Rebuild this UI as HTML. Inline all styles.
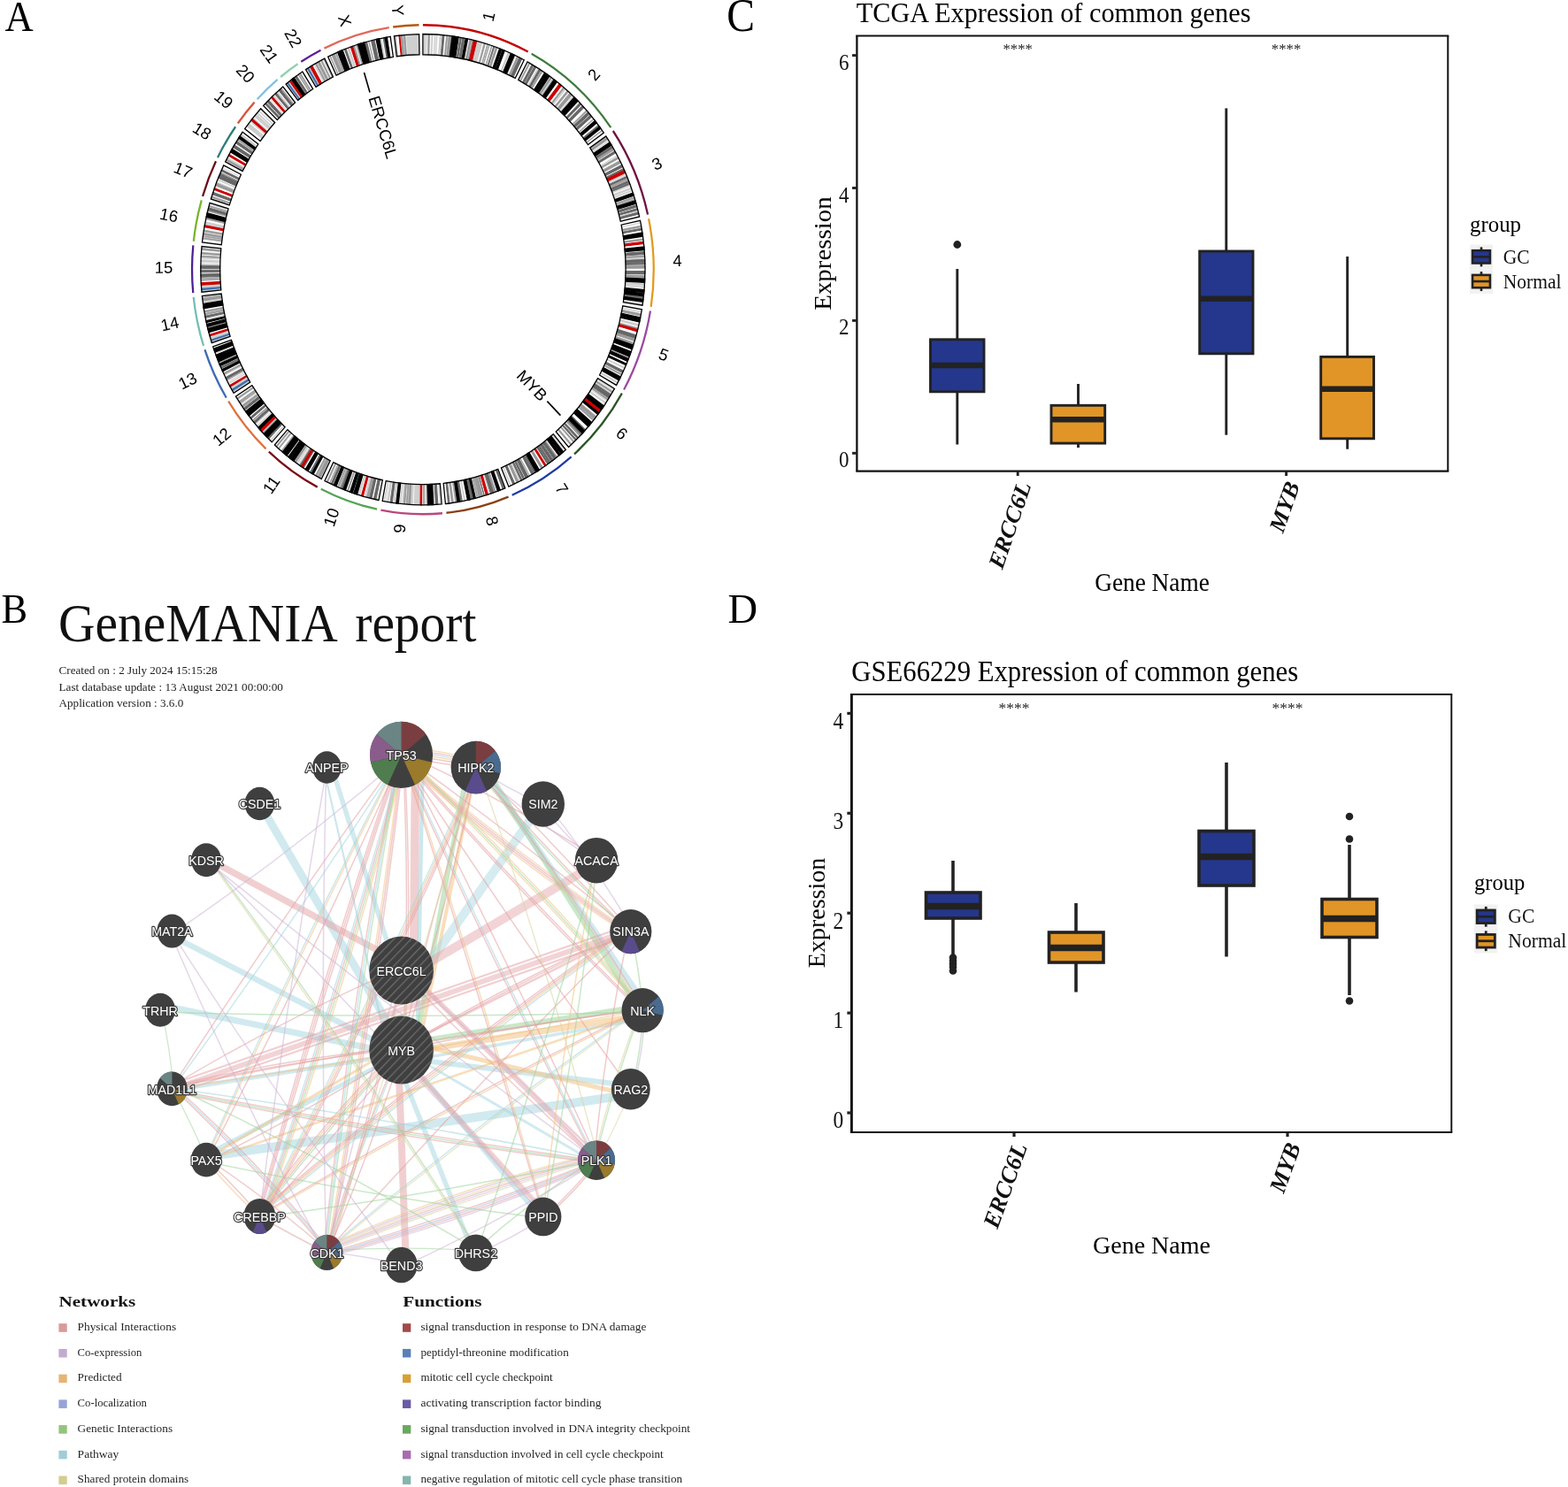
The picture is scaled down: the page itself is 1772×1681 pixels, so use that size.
<!DOCTYPE html>
<html lang="en"><head><meta charset="utf-8"><title>Figure</title>
<style>
html,body{margin:0;padding:0;background:#fff;}
body{width:1772px;height:1681px;overflow:hidden;font-family:"Liberation Serif",serif;}
svg{display:block;}
</style></head>
<body>
<svg width="1772" height="1681" viewBox="0 0 1772 1681">
<rect x="0" y="0" width="1772" height="1681" fill="#ffffff"/>
<g id="panel-letters">
<text transform="translate(5.60,34.70) scale(1.0000,1.0800)" font-family="Liberation Serif, serif" font-size="44.7" fill="#000">A</text>
<text transform="translate(1.50,703.80) scale(1.0000,1.0500)" font-family="Liberation Serif, serif" font-size="44.4" fill="#000">B</text>
<text transform="translate(821.30,35.40) scale(1.0000,1.0900)" font-family="Liberation Serif, serif" font-size="47.6" fill="#000">C</text>
<text transform="translate(822.40,704.30)" font-family="Liberation Serif, serif" font-size="46.5" fill="#000">D</text>
</g>
<g id="panel-c">
<text transform="translate(967.70,24.80) scale(1.0000,1.0450)" font-family="Liberation Serif, serif" font-size="30.3" fill="#000">TCGA Expression of common genes</text>
<line x1="1081.80" y1="304.00" x2="1081.80" y2="383.80" stroke="#222222" stroke-width="2.9"/>
<line x1="1081.80" y1="442.80" x2="1081.80" y2="502.50" stroke="#222222" stroke-width="2.9"/>
<rect x="1051.50" y="383.80" width="60.50" height="59.00" fill="#25378c" stroke="#222222" stroke-width="2.9" stroke-linejoin="miter"/>
<line x1="1051.50" y1="413.00" x2="1112.00" y2="413.00" stroke="#222222" stroke-width="6.5"/>
<circle cx="1081.80" cy="276.50" r="4.40" fill="#222222" stroke="none" stroke-width="1"/>
<line x1="1218.50" y1="434.00" x2="1218.50" y2="458.30" stroke="#222222" stroke-width="2.9"/>
<line x1="1218.50" y1="501.10" x2="1218.50" y2="506.00" stroke="#222222" stroke-width="2.9"/>
<rect x="1188.00" y="458.30" width="60.70" height="42.80" fill="#e19527" stroke="#222222" stroke-width="2.9" stroke-linejoin="miter"/>
<line x1="1188.00" y1="474.30" x2="1248.70" y2="474.30" stroke="#222222" stroke-width="6.5"/>
<line x1="1385.80" y1="122.40" x2="1385.80" y2="284.00" stroke="#222222" stroke-width="2.9"/>
<line x1="1385.80" y1="399.80" x2="1385.80" y2="491.70" stroke="#222222" stroke-width="2.9"/>
<rect x="1355.70" y="284.00" width="60.30" height="115.80" fill="#25378c" stroke="#222222" stroke-width="2.9" stroke-linejoin="miter"/>
<line x1="1355.70" y1="337.80" x2="1416.00" y2="337.80" stroke="#222222" stroke-width="6.5"/>
<line x1="1522.70" y1="290.00" x2="1522.70" y2="403.40" stroke="#222222" stroke-width="2.9"/>
<line x1="1522.70" y1="495.80" x2="1522.70" y2="507.70" stroke="#222222" stroke-width="2.9"/>
<rect x="1492.70" y="403.40" width="59.80" height="92.40" fill="#e19527" stroke="#222222" stroke-width="2.9" stroke-linejoin="miter"/>
<line x1="1492.70" y1="439.80" x2="1552.50" y2="439.80" stroke="#222222" stroke-width="6.5"/>
<text transform="translate(1150.20,61.20)" font-family="Liberation Serif, serif" font-size="16.8" text-anchor="middle" fill="#222">****</text>
<text transform="translate(1453.60,61.20)" font-family="Liberation Serif, serif" font-size="16.8" text-anchor="middle" fill="#222">****</text>
<line x1="967.25" y1="40.50" x2="1637.30" y2="40.50" stroke="#111" stroke-width="1.9"/>
<line x1="967.25" y1="532.60" x2="1637.30" y2="532.60" stroke="#111" stroke-width="2.1"/>
<line x1="968.40" y1="40.50" x2="968.40" y2="532.60" stroke="#111" stroke-width="2.3"/>
<line x1="1636.30" y1="40.50" x2="1636.30" y2="532.60" stroke="#111" stroke-width="2.0"/>
<line x1="963.05" y1="512.30" x2="968.40" y2="512.30" stroke="#222222" stroke-width="2.9"/>
<text transform="translate(959.60,528.30) scale(1.0000,1.1250)" font-family="Liberation Serif, serif" font-size="23.0" text-anchor="end" fill="#111">0</text>
<line x1="963.05" y1="362.40" x2="968.40" y2="362.40" stroke="#222222" stroke-width="2.9"/>
<text transform="translate(959.60,378.40) scale(1.0000,1.1250)" font-family="Liberation Serif, serif" font-size="23.0" text-anchor="end" fill="#111">2</text>
<line x1="963.05" y1="212.50" x2="968.40" y2="212.50" stroke="#222222" stroke-width="2.9"/>
<text transform="translate(959.60,228.50) scale(1.0000,1.1250)" font-family="Liberation Serif, serif" font-size="23.0" text-anchor="end" fill="#111">4</text>
<line x1="963.05" y1="62.60" x2="968.40" y2="62.60" stroke="#222222" stroke-width="2.9"/>
<text transform="translate(959.60,78.60) scale(1.0000,1.1250)" font-family="Liberation Serif, serif" font-size="23.0" text-anchor="end" fill="#111">6</text>
<line x1="1150.20" y1="532.60" x2="1150.20" y2="537.95" stroke="#222222" stroke-width="2.9"/>
<line x1="1453.60" y1="532.60" x2="1453.60" y2="537.95" stroke="#222222" stroke-width="2.9"/>
<text transform="translate(1165.60,548.60) scale(1.0000,1.0600) rotate(-70.00)" font-family="Liberation Serif, serif" font-size="25.5" text-anchor="end" font-weight="bold" font-style="italic" fill="#111">ERCC6L</text>
<text transform="translate(1469.00,548.60) scale(1.0000,1.0600) rotate(-70.00)" font-family="Liberation Serif, serif" font-size="25.5" text-anchor="end" font-weight="bold" font-style="italic" fill="#111">MYB</text>
<text transform="translate(1302.00,667.60) scale(1.0000,1.0700)" font-family="Liberation Serif, serif" font-size="27.3" text-anchor="middle" fill="#000">Gene Name</text>
<text transform="translate(938.70,286.50) scale(1.0000,1.0600) rotate(-90.00)" font-family="Liberation Serif, serif" font-size="27.3" text-anchor="middle" fill="#000">Expression</text>
<text transform="translate(1661.00,262.00) scale(1.0000,1.0500)" font-family="Liberation Serif, serif" font-size="24.9" fill="#000">group</text>
<rect x="1661.00" y="276.50" width="26.00" height="27.70" fill="#f2f2f2" stroke="none" stroke-width="1"/>
<line x1="1674.00" y1="279.35" x2="1674.00" y2="301.35" stroke="#222222" stroke-width="2.6"/>
<rect x="1664.05" y="283.20" width="19.90" height="14.30" fill="#25378c" stroke="#222222" stroke-width="2.6"/>
<line x1="1664.05" y1="290.35" x2="1683.95" y2="290.35" stroke="#222222" stroke-width="2.6"/>
<text transform="translate(1698.80,298.25) scale(1.0000,1.0700)" font-family="Liberation Serif, serif" font-size="21.5" fill="#111">GC</text>
<rect x="1661.00" y="304.20" width="26.00" height="27.70" fill="#f2f2f2" stroke="none" stroke-width="1"/>
<line x1="1674.00" y1="307.05" x2="1674.00" y2="329.05" stroke="#222222" stroke-width="2.6"/>
<rect x="1664.05" y="310.90" width="19.90" height="14.30" fill="#e19527" stroke="#222222" stroke-width="2.6"/>
<line x1="1664.05" y1="318.05" x2="1683.95" y2="318.05" stroke="#222222" stroke-width="2.6"/>
<text transform="translate(1698.80,325.95) scale(1.0000,1.0700)" font-family="Liberation Serif, serif" font-size="21.5" fill="#111">Normal</text>
</g>
<g id="panel-d">
<text transform="translate(962.30,769.60) scale(1.0000,1.0700)" font-family="Liberation Serif, serif" font-size="30.72" fill="#000">GSE66229 Expression of common genes</text>
<line x1="1077.00" y1="973.00" x2="1077.00" y2="1009.00" stroke="#222222" stroke-width="3.6"/>
<line x1="1077.00" y1="1038.00" x2="1077.00" y2="1082.00" stroke="#222222" stroke-width="3.6"/>
<rect x="1046.50" y="1009.00" width="61.50" height="29.00" fill="#25378c" stroke="#222222" stroke-width="3.6" stroke-linejoin="miter"/>
<line x1="1046.50" y1="1024.60" x2="1108.00" y2="1024.60" stroke="#222222" stroke-width="7.5"/>
<circle cx="1077.00" cy="1082.50" r="4.30" fill="#222222" stroke="none" stroke-width="1"/>
<circle cx="1077.00" cy="1086.00" r="4.30" fill="#222222" stroke="none" stroke-width="1"/>
<circle cx="1077.00" cy="1089.50" r="4.30" fill="#222222" stroke="none" stroke-width="1"/>
<circle cx="1077.00" cy="1093.00" r="4.30" fill="#222222" stroke="none" stroke-width="1"/>
<circle cx="1077.00" cy="1097.50" r="4.30" fill="#222222" stroke="none" stroke-width="1"/>
<line x1="1216.00" y1="1021.00" x2="1216.00" y2="1054.00" stroke="#222222" stroke-width="3.6"/>
<line x1="1216.00" y1="1088.00" x2="1216.00" y2="1121.50" stroke="#222222" stroke-width="3.6"/>
<rect x="1185.50" y="1054.00" width="61.50" height="34.00" fill="#e19527" stroke="#222222" stroke-width="3.6" stroke-linejoin="miter"/>
<line x1="1185.50" y1="1071.50" x2="1247.00" y2="1071.50" stroke="#222222" stroke-width="7.5"/>
<line x1="1386.00" y1="862.00" x2="1386.00" y2="939.50" stroke="#222222" stroke-width="3.6"/>
<line x1="1386.00" y1="1001.00" x2="1386.00" y2="1081.50" stroke="#222222" stroke-width="3.6"/>
<rect x="1355.00" y="939.50" width="62.00" height="61.50" fill="#25378c" stroke="#222222" stroke-width="3.6" stroke-linejoin="miter"/>
<line x1="1355.00" y1="968.50" x2="1417.00" y2="968.50" stroke="#222222" stroke-width="7.5"/>
<line x1="1525.00" y1="955.00" x2="1525.00" y2="1016.50" stroke="#222222" stroke-width="3.6"/>
<line x1="1525.00" y1="1059.50" x2="1525.00" y2="1125.00" stroke="#222222" stroke-width="3.6"/>
<rect x="1494.00" y="1016.50" width="62.00" height="43.00" fill="#e19527" stroke="#222222" stroke-width="3.6" stroke-linejoin="miter"/>
<line x1="1494.00" y1="1038.50" x2="1556.00" y2="1038.50" stroke="#222222" stroke-width="7.5"/>
<circle cx="1525.00" cy="923.00" r="4.30" fill="#222222" stroke="none" stroke-width="1"/>
<circle cx="1525.00" cy="948.50" r="4.30" fill="#222222" stroke="none" stroke-width="1"/>
<circle cx="1525.00" cy="1131.50" r="4.30" fill="#222222" stroke="none" stroke-width="1"/>
<text transform="translate(1146.00,805.60)" font-family="Liberation Serif, serif" font-size="17.5" text-anchor="middle" fill="#222">****</text>
<text transform="translate(1455.00,805.60)" font-family="Liberation Serif, serif" font-size="17.5" text-anchor="middle" fill="#222">****</text>
<line x1="960.95" y1="785.00" x2="1641.25" y2="785.00" stroke="#111" stroke-width="2.1"/>
<line x1="960.95" y1="1280.00" x2="1641.25" y2="1280.00" stroke="#111" stroke-width="1.9"/>
<line x1="962.40" y1="785.00" x2="962.40" y2="1280.00" stroke="#111" stroke-width="2.9"/>
<line x1="1640.30" y1="785.00" x2="1640.30" y2="1280.00" stroke="#111" stroke-width="1.9"/>
<line x1="957.35" y1="1258.00" x2="962.40" y2="1258.00" stroke="#222222" stroke-width="3.2"/>
<text transform="translate(953.20,1275.30) scale(1.0000,1.1550)" font-family="Liberation Serif, serif" font-size="23.5" text-anchor="end" fill="#111">0</text>
<line x1="957.35" y1="1145.10" x2="962.40" y2="1145.10" stroke="#222222" stroke-width="3.2"/>
<text transform="translate(953.20,1162.40) scale(1.0000,1.1550)" font-family="Liberation Serif, serif" font-size="23.5" text-anchor="end" fill="#111">1</text>
<line x1="957.35" y1="1032.20" x2="962.40" y2="1032.20" stroke="#222222" stroke-width="3.2"/>
<text transform="translate(953.20,1049.50) scale(1.0000,1.1550)" font-family="Liberation Serif, serif" font-size="23.5" text-anchor="end" fill="#111">2</text>
<line x1="957.35" y1="919.30" x2="962.40" y2="919.30" stroke="#222222" stroke-width="3.2"/>
<text transform="translate(953.20,936.60) scale(1.0000,1.1550)" font-family="Liberation Serif, serif" font-size="23.5" text-anchor="end" fill="#111">3</text>
<line x1="957.35" y1="806.40" x2="962.40" y2="806.40" stroke="#222222" stroke-width="3.2"/>
<text transform="translate(953.20,823.70) scale(1.0000,1.1550)" font-family="Liberation Serif, serif" font-size="23.5" text-anchor="end" fill="#111">4</text>
<line x1="1146.00" y1="1280.00" x2="1146.00" y2="1285.05" stroke="#222222" stroke-width="3.2"/>
<line x1="1455.00" y1="1280.00" x2="1455.00" y2="1285.05" stroke="#222222" stroke-width="3.2"/>
<text transform="translate(1161.40,1296.00) rotate(-70.00)" font-family="Liberation Serif, serif" font-size="26.5" text-anchor="end" font-weight="bold" font-style="italic" fill="#111">ERCC6L</text>
<text transform="translate(1470.40,1296.00) rotate(-70.00)" font-family="Liberation Serif, serif" font-size="26.5" text-anchor="end" font-weight="bold" font-style="italic" fill="#111">MYB</text>
<text transform="translate(1301.50,1416.50)" font-family="Liberation Serif, serif" font-size="28" text-anchor="middle" fill="#000">Gene Name</text>
<text transform="translate(932.00,1032.00) rotate(-90.00)" font-family="Liberation Serif, serif" font-size="28" text-anchor="middle" fill="#000">Expression</text>
<text transform="translate(1666.00,1006.30) scale(1.0000,1.0600)" font-family="Liberation Serif, serif" font-size="24.6" fill="#000">group</text>
<rect x="1666.00" y="1022.50" width="26.50" height="27.50" fill="#f2f2f2" stroke="none" stroke-width="1"/>
<line x1="1679.25" y1="1024.85" x2="1679.25" y2="1047.65" stroke="#222222" stroke-width="2.8"/>
<rect x="1669.15" y="1028.95" width="20.20" height="14.60" fill="#25378c" stroke="#222222" stroke-width="2.8"/>
<line x1="1669.15" y1="1036.25" x2="1689.35" y2="1036.25" stroke="#222222" stroke-width="2.8"/>
<text transform="translate(1704.30,1043.45) scale(1.0000,1.0600)" font-family="Liberation Serif, serif" font-size="21.6" fill="#111">GC</text>
<rect x="1666.00" y="1050.00" width="26.50" height="27.50" fill="#f2f2f2" stroke="none" stroke-width="1"/>
<line x1="1679.25" y1="1052.35" x2="1679.25" y2="1075.15" stroke="#222222" stroke-width="2.8"/>
<rect x="1669.15" y="1056.45" width="20.20" height="14.60" fill="#e19527" stroke="#222222" stroke-width="2.8"/>
<line x1="1669.15" y1="1063.75" x2="1689.35" y2="1063.75" stroke="#222222" stroke-width="2.8"/>
<text transform="translate(1704.30,1070.95) scale(1.0000,1.0600)" font-family="Liberation Serif, serif" font-size="21.6" fill="#111">Normal</text>
</g>
<g id="panel-a" transform="translate(477.9,304.7) scale(1,1.06)">
<g fill="none" stroke-width="2.25" stroke-linecap="butt">
<path d="M0.00,-260.85A260.85,260.85 0 0 1 118.81,-232.22" stroke="#c40000"/>
<path d="M122.76,-230.16A260.85,260.85 0 0 1 212.39,-151.44" stroke="#3d7b3d"/>
<path d="M214.95,-147.79A260.85,260.85 0 0 1 254.18,-58.61" stroke="#6e1040"/>
<path d="M255.14,-54.26A260.85,260.85 0 0 1 257.80,39.78" stroke="#e39a1c"/>
<path d="M257.08,44.18A260.85,260.85 0 0 1 227.21,128.13" stroke="#9a4aa0"/>
<path d="M224.99,131.99A260.85,260.85 0 0 1 171.14,196.86" stroke="#2a5425"/>
<path d="M167.75,199.76A260.85,260.85 0 0 1 100.76,240.60" stroke="#1f3aa3"/>
<path d="M96.64,242.29A260.85,260.85 0 0 1 26.52,259.50" stroke="#8a3f14"/>
<path d="M22.08,259.91A260.85,260.85 0 0 1 -47.51,256.49" stroke="#b8487c"/>
<path d="M-51.88,255.64A260.85,260.85 0 0 1 -115.19,234.04" stroke="#52a552"/>
<path d="M-119.17,232.04A260.85,260.85 0 0 1 -174.07,194.27" stroke="#7a0c16"/>
<path d="M-177.36,191.27A260.85,260.85 0 0 1 -219.73,140.58" stroke="#e0703c"/>
<path d="M-222.09,136.81A260.85,260.85 0 0 1 -246.47,85.41" stroke="#3f6ab5"/>
<path d="M-247.89,81.19A260.85,260.85 0 0 1 -259.19,29.37" stroke="#6fbfb5"/>
<path d="M-259.65,24.94A260.85,260.85 0 0 1 -259.58,-25.72" stroke="#4b2291"/>
<path d="M-259.10,-30.15A260.85,260.85 0 0 1 -250.16,-73.91" stroke="#76b52a"/>
<path d="M-248.86,-78.17A260.85,260.85 0 0 1 -233.92,-115.43" stroke="#6b0a14"/>
<path d="M-231.92,-119.41A260.85,260.85 0 0 1 -211.75,-152.33" stroke="#2f7a7a"/>
<path d="M-209.12,-155.92A260.85,260.85 0 0 1 -190.35,-178.35" stroke="#d8553a"/>
<path d="M-187.28,-181.58A260.85,260.85 0 0 1 -164.28,-202.62" stroke="#7fbfe6"/>
<path d="M-160.79,-205.40A260.85,260.85 0 0 1 -141.39,-219.21" stroke="#8fd0ad"/>
<path d="M-137.63,-221.59A260.85,260.85 0 0 1 -115.44,-233.91" stroke="#5a1f96"/>
<path d="M-111.43,-235.85A260.85,260.85 0 0 1 -38.15,-258.04" stroke="#e0685a"/>
<path d="M-33.74,-258.66A260.85,260.85 0 0 1 -4.45,-260.81" stroke="#b35a10"/>
</g>
<path d="M0.00,-251.10A251.10,251.10 0 0 1 1.10,-251.10L1.00,-229.20A229.20,229.20 0 0 0 0.00,-229.20ZM2.57,-251.09A251.10,251.10 0 0 1 3.43,-251.08L3.13,-229.18A229.20,229.20 0 0 0 2.35,-229.19ZM4.38,-251.06A251.10,251.10 0 0 1 6.05,-251.03L5.52,-229.13A229.20,229.20 0 0 0 4.00,-229.17ZM7.72,-250.98A251.10,251.10 0 0 1 9.72,-250.91L8.87,-229.03A229.20,229.20 0 0 0 7.04,-229.09ZM11.38,-250.84A251.10,251.10 0 0 1 13.33,-250.75L12.17,-228.88A229.20,229.20 0 0 0 10.39,-228.96ZM14.38,-250.69A251.10,251.10 0 0 1 15.43,-250.63L14.08,-228.77A229.20,229.20 0 0 0 13.13,-228.82ZM16.47,-250.56A251.10,251.10 0 0 1 19.09,-250.37L17.42,-228.54A229.20,229.20 0 0 0 15.04,-228.71ZM20.99,-250.22A251.10,251.10 0 0 1 22.27,-250.11L20.32,-228.30A229.20,229.20 0 0 0 19.15,-228.40ZM24.12,-249.94A251.10,251.10 0 0 1 26.68,-249.68L24.35,-227.90A229.20,229.20 0 0 0 22.01,-228.14ZM28.05,-249.53A251.10,251.10 0 0 1 29.14,-249.40L26.60,-227.65A229.20,229.20 0 0 0 25.60,-227.77ZM32.73,-248.96A251.10,251.10 0 0 1 33.11,-248.91L30.22,-227.20A229.20,229.20 0 0 0 29.88,-227.24ZM40.27,-247.85A251.10,251.10 0 0 1 41.92,-247.58L38.26,-225.98A229.20,229.20 0 0 0 36.76,-226.23ZM43.61,-247.28A251.10,251.10 0 0 1 44.87,-247.06L40.96,-225.51A229.20,229.20 0 0 0 39.80,-225.72ZM47.22,-246.62A251.10,251.10 0 0 1 48.38,-246.39L44.16,-224.90A229.20,229.20 0 0 0 43.10,-225.11ZM50.72,-245.92A251.10,251.10 0 0 1 52.86,-245.47L48.25,-224.06A229.20,229.20 0 0 0 46.30,-224.48ZM54.86,-245.03A251.10,251.10 0 0 1 55.65,-244.85L50.80,-223.50A229.20,229.20 0 0 0 50.08,-223.66ZM56.95,-244.56A251.10,251.10 0 0 1 57.37,-244.46L52.37,-223.14A229.20,229.20 0 0 0 51.99,-223.23ZM67.11,-241.97A251.10,251.10 0 0 1 69.13,-241.40L63.10,-220.34A229.20,229.20 0 0 0 61.26,-220.86ZM70.64,-240.96A251.10,251.10 0 0 1 72.78,-240.32L66.44,-219.36A229.20,229.20 0 0 0 64.48,-219.94ZM73.47,-240.11A251.10,251.10 0 0 1 74.65,-239.75L68.14,-218.84A229.20,229.20 0 0 0 67.06,-219.17ZM75.29,-239.55A251.10,251.10 0 0 1 77.56,-238.82L70.79,-217.99A229.20,229.20 0 0 0 68.72,-218.66ZM78.33,-238.57A251.10,251.10 0 0 1 80.00,-238.02L73.02,-217.26A229.20,229.20 0 0 0 71.49,-217.76ZM80.90,-237.71A251.10,251.10 0 0 1 82.30,-237.23L75.12,-216.54A229.20,229.20 0 0 0 73.85,-216.98ZM84.23,-236.55A251.10,251.10 0 0 1 86.69,-235.66L79.13,-215.11A229.20,229.20 0 0 0 76.88,-215.92ZM88.93,-234.83A251.10,251.10 0 0 1 90.26,-234.32L82.39,-213.88A229.20,229.20 0 0 0 81.17,-214.35ZM92.44,-233.47A251.10,251.10 0 0 1 96.19,-231.95L87.80,-211.72A229.20,229.20 0 0 0 84.37,-213.10ZM98.08,-231.15A251.10,251.10 0 0 1 99.39,-230.59L90.72,-210.48A229.20,229.20 0 0 0 89.52,-210.99ZM103.58,-228.74A251.10,251.10 0 0 1 103.79,-228.64L94.74,-208.70A229.20,229.20 0 0 0 94.54,-208.79ZM104.83,-228.17A251.10,251.10 0 0 1 106.43,-227.43L97.15,-207.59A229.20,229.20 0 0 0 95.69,-208.27ZM108.15,-226.61A251.10,251.10 0 0 1 108.97,-226.22L99.47,-206.49A229.20,229.20 0 0 0 98.72,-206.85ZM112.01,-224.73A251.10,251.10 0 0 1 114.37,-223.54L104.39,-204.05A229.20,229.20 0 0 0 102.24,-205.13ZM118.17,-221.56A251.10,251.10 0 0 1 120.01,-220.56L109.55,-201.33A229.20,229.20 0 0 0 107.86,-202.23ZM121.14,-219.94A251.10,251.10 0 0 1 123.26,-218.76L112.51,-199.68A229.20,229.20 0 0 0 110.58,-200.76ZM125.13,-217.70A251.10,251.10 0 0 1 126.16,-217.11L115.16,-198.17A229.20,229.20 0 0 0 114.21,-198.71ZM128.13,-215.95A251.10,251.10 0 0 1 129.73,-214.99L118.41,-196.24A229.20,229.20 0 0 0 116.96,-197.11ZM130.58,-214.48A251.10,251.10 0 0 1 131.43,-213.95L119.97,-195.29A229.20,229.20 0 0 0 119.19,-195.77ZM133.26,-212.82A251.10,251.10 0 0 1 134.06,-212.32L122.37,-193.80A229.20,229.20 0 0 0 121.63,-194.26ZM135.35,-211.50A251.10,251.10 0 0 1 137.75,-209.94L125.73,-191.63A229.20,229.20 0 0 0 123.54,-193.05ZM139.77,-208.60A251.10,251.10 0 0 1 140.60,-208.04L128.34,-189.90A229.20,229.20 0 0 0 127.58,-190.41ZM143.08,-206.35A251.10,251.10 0 0 1 144.17,-205.58L131.60,-187.65A229.20,229.20 0 0 0 130.60,-188.35ZM145.92,-204.35A251.10,251.10 0 0 1 147.05,-203.54L134.22,-185.79A229.20,229.20 0 0 0 133.20,-186.52ZM147.82,-202.98A251.10,251.10 0 0 1 148.39,-202.56L135.45,-184.89A229.20,229.20 0 0 0 134.93,-185.28ZM151.57,-200.20A251.10,251.10 0 0 1 154.29,-198.11L140.83,-180.83A229.20,229.20 0 0 0 138.35,-182.74ZM156.64,-196.25A251.10,251.10 0 0 1 158.83,-194.48L144.98,-177.52A229.20,229.20 0 0 0 142.98,-179.13ZM160.04,-193.49A251.10,251.10 0 0 1 160.59,-193.03L146.59,-176.19A229.20,229.20 0 0 0 146.09,-176.61ZM161.58,-192.20A251.10,251.10 0 0 1 163.11,-190.91L148.88,-174.26A229.20,229.20 0 0 0 147.49,-175.44ZM164.70,-189.54A251.10,251.10 0 0 1 165.99,-188.41L151.51,-171.98A229.20,229.20 0 0 0 150.33,-173.01ZM168.65,-186.03A251.10,251.10 0 0 1 169.57,-185.20L154.78,-169.05A229.20,229.20 0 0 0 153.94,-169.81ZM170.48,-184.36A251.10,251.10 0 0 1 171.07,-183.81L156.15,-167.78A229.20,229.20 0 0 0 155.61,-168.28ZM172.95,-182.05A251.10,251.10 0 0 1 173.60,-181.42L158.46,-165.60A229.20,229.20 0 0 0 157.86,-166.17ZM175.18,-179.90A251.10,251.10 0 0 1 175.59,-179.50L160.27,-163.85A229.20,229.20 0 0 0 159.90,-164.21ZM175.79,-179.30A251.10,251.10 0 0 1 177.28,-177.83L161.82,-162.32A229.20,229.20 0 0 0 160.46,-163.66ZM178.93,-176.17A251.10,251.10 0 0 1 180.23,-174.84L164.51,-159.59A229.20,229.20 0 0 0 163.32,-160.81ZM182.20,-172.78A251.10,251.10 0 0 1 184.90,-169.89L168.78,-155.07A229.20,229.20 0 0 0 166.31,-157.71ZM185.74,-168.97A251.10,251.10 0 0 1 186.51,-168.13L170.24,-153.46A229.20,229.20 0 0 0 169.54,-154.24ZM188.53,-165.85A251.10,251.10 0 0 1 189.32,-164.95L172.81,-150.57A229.20,229.20 0 0 0 172.09,-151.39ZM191.03,-162.97A251.10,251.10 0 0 1 192.84,-160.82L176.02,-146.79A229.20,229.20 0 0 0 174.37,-148.76ZM193.33,-160.23A251.10,251.10 0 0 1 194.57,-158.73L177.60,-144.88A229.20,229.20 0 0 0 176.47,-146.26ZM196.45,-156.39A251.10,251.10 0 0 1 198.28,-154.07L180.99,-140.63A229.20,229.20 0 0 0 179.32,-142.75ZM199.36,-152.67A251.10,251.10 0 0 1 199.62,-152.33L182.21,-139.05A229.20,229.20 0 0 0 181.97,-139.36ZM201.02,-150.47A251.10,251.10 0 0 1 202.33,-148.71L184.68,-135.74A229.20,229.20 0 0 0 183.49,-137.35ZM202.81,-148.06A251.10,251.10 0 0 1 204.45,-145.78L186.62,-133.06A229.20,229.20 0 0 0 185.12,-135.14ZM207.66,-141.16A251.10,251.10 0 0 1 207.99,-140.69L189.85,-128.42A229.20,229.20 0 0 0 189.55,-128.85ZM209.23,-138.83A251.10,251.10 0 0 1 210.04,-137.60L191.72,-125.60A229.20,229.20 0 0 0 190.98,-126.72ZM210.43,-137.00A251.10,251.10 0 0 1 211.24,-135.76L192.81,-123.92A229.20,229.20 0 0 0 192.08,-125.05ZM213.15,-132.74A251.10,251.10 0 0 1 213.77,-131.73L195.13,-120.24A229.20,229.20 0 0 0 194.56,-121.16ZM214.89,-129.90A251.10,251.10 0 0 1 215.19,-129.41L196.42,-118.12A229.20,229.20 0 0 0 196.15,-118.57ZM216.26,-127.61A251.10,251.10 0 0 1 216.96,-126.41L198.04,-115.39A229.20,229.20 0 0 0 197.40,-116.48ZM217.98,-124.64A251.10,251.10 0 0 1 218.08,-124.47L199.06,-113.62A229.20,229.20 0 0 0 198.97,-113.77ZM218.10,-124.43A251.10,251.10 0 0 1 219.60,-121.77L200.44,-111.15A229.20,229.20 0 0 0 199.08,-113.58ZM219.99,-121.07A251.10,251.10 0 0 1 220.47,-120.19L201.24,-109.71A229.20,229.20 0 0 0 200.80,-110.51ZM221.42,-118.43A251.10,251.10 0 0 1 222.55,-116.28L203.14,-106.14A229.20,229.20 0 0 0 202.11,-108.10ZM223.88,-113.70A251.10,251.10 0 0 1 224.83,-111.82L205.22,-102.07A229.20,229.20 0 0 0 204.36,-103.78ZM226.00,-109.43A251.10,251.10 0 0 1 226.76,-107.84L206.99,-98.43A229.20,229.20 0 0 0 206.29,-99.88ZM227.52,-106.24A251.10,251.10 0 0 1 227.66,-105.94L207.80,-96.70A229.20,229.20 0 0 0 207.67,-96.98ZM229.70,-101.43A251.10,251.10 0 0 1 230.03,-100.69L209.97,-91.91A229.20,229.20 0 0 0 209.67,-92.58ZM230.20,-100.30A251.10,251.10 0 0 1 230.56,-99.47L210.45,-90.79A229.20,229.20 0 0 0 210.12,-91.55ZM231.20,-97.98A251.10,251.10 0 0 1 231.51,-97.23L211.32,-88.75A229.20,229.20 0 0 0 211.03,-89.43ZM232.13,-95.73A251.10,251.10 0 0 1 232.53,-94.76L212.25,-86.50A229.20,229.20 0 0 0 211.89,-87.38ZM233.21,-93.09A251.10,251.10 0 0 1 233.51,-92.33L213.14,-84.28A229.20,229.20 0 0 0 212.87,-84.97ZM234.01,-91.05A251.10,251.10 0 0 1 234.34,-90.20L213.90,-82.34A229.20,229.20 0 0 0 213.60,-83.11ZM234.68,-89.31A251.10,251.10 0 0 1 235.25,-87.80L214.73,-80.14A229.20,229.20 0 0 0 214.21,-81.52ZM235.99,-85.79A251.10,251.10 0 0 1 236.32,-84.89L215.70,-77.49A229.20,229.20 0 0 0 215.41,-78.30ZM236.79,-83.54A251.10,251.10 0 0 1 237.44,-81.70L216.73,-74.57A229.20,229.20 0 0 0 216.14,-76.26ZM238.37,-78.94A251.10,251.10 0 0 1 238.84,-77.50L218.01,-70.74A229.20,229.20 0 0 0 217.58,-72.06ZM239.26,-76.18A251.10,251.10 0 0 1 239.55,-75.27L218.66,-68.71A229.20,229.20 0 0 0 218.40,-69.54ZM239.84,-74.36A251.10,251.10 0 0 1 240.07,-73.59L219.14,-67.17A229.20,229.20 0 0 0 218.92,-67.88ZM241.02,-70.44A251.10,251.10 0 0 1 241.45,-68.93L220.40,-62.92A229.20,229.20 0 0 0 220.00,-64.30ZM242.07,-66.73A251.10,251.10 0 0 1 242.48,-65.21L221.34,-59.52A229.20,229.20 0 0 0 220.96,-60.91ZM242.94,-63.51A251.10,251.10 0 0 1 243.15,-62.68L221.95,-57.21A229.20,229.20 0 0 0 221.75,-57.97ZM243.33,-61.98A251.10,251.10 0 0 1 243.55,-61.11L222.31,-55.78A229.20,229.20 0 0 0 222.11,-56.58ZM244.05,-59.07A251.10,251.10 0 0 1 244.68,-56.42L223.34,-51.50A229.20,229.20 0 0 0 222.77,-53.92ZM245.61,-52.23A251.10,251.10 0 0 1 246.04,-50.14L224.59,-45.76A229.20,229.20 0 0 0 224.19,-47.68ZM246.19,-49.43A251.10,251.10 0 0 1 246.67,-46.96L225.16,-42.86A229.20,229.20 0 0 0 224.71,-45.12ZM247.01,-45.13A251.10,251.10 0 0 1 247.23,-43.91L225.67,-40.08A229.20,229.20 0 0 0 225.47,-41.19ZM247.52,-42.27A251.10,251.10 0 0 1 248.01,-39.26L226.38,-35.84A229.20,229.20 0 0 0 225.93,-38.58ZM248.59,-35.44A251.10,251.10 0 0 1 248.94,-32.90L227.22,-30.03A229.20,229.20 0 0 0 226.91,-32.35ZM249.14,-31.29A251.10,251.10 0 0 1 249.35,-29.59L227.60,-27.01A229.20,229.20 0 0 0 227.41,-28.56ZM249.59,-27.46A251.10,251.10 0 0 1 249.93,-24.23L228.13,-22.12A229.20,229.20 0 0 0 227.83,-25.06ZM250.23,-20.87A251.10,251.10 0 0 1 250.38,-19.01L228.54,-17.35A229.20,229.20 0 0 0 228.41,-19.05ZM250.57,-16.26A251.10,251.10 0 0 1 250.65,-15.02L228.79,-13.71A229.20,229.20 0 0 0 228.72,-14.84ZM250.74,-13.36A251.10,251.10 0 0 1 250.79,-12.55L228.91,-11.45A229.20,229.20 0 0 0 228.88,-12.19ZM250.85,-11.21A251.10,251.10 0 0 1 250.87,-10.69L228.99,-9.76A229.20,229.20 0 0 0 228.97,-10.24ZM250.97,-7.98A251.10,251.10 0 0 1 250.99,-7.31L229.10,-6.67A229.20,229.20 0 0 0 229.08,-7.28ZM251.04,-5.55A251.10,251.10 0 0 1 251.06,-4.45L229.16,-4.06A229.20,229.20 0 0 0 229.14,-5.06ZM251.10,-1.31A251.10,251.10 0 0 1 251.09,1.74L229.19,1.59A229.20,229.20 0 0 0 229.20,-1.19ZM251.05,4.93A251.10,251.10 0 0 1 251.02,6.36L229.13,5.81A229.20,229.20 0 0 0 229.16,4.50ZM250.95,8.74A251.10,251.10 0 0 1 250.91,9.84L229.02,8.98A229.20,229.20 0 0 0 229.06,7.98ZM250.72,13.83A251.10,251.10 0 0 1 250.66,14.79L228.80,13.50A229.20,229.20 0 0 0 228.85,12.63ZM250.50,17.30A251.10,251.10 0 0 1 250.45,18.11L228.60,16.53A229.20,229.20 0 0 0 228.66,15.80ZM250.35,19.35A251.10,251.10 0 0 1 250.18,21.48L228.36,19.61A229.20,229.20 0 0 0 228.52,17.66ZM249.91,24.43A251.10,251.10 0 0 1 249.78,25.71L228.00,23.46A229.20,229.20 0 0 0 228.11,22.30ZM249.49,28.36A251.10,251.10 0 0 1 249.40,29.21L227.64,26.66A229.20,229.20 0 0 0 227.73,25.89ZM249.14,31.29A251.10,251.10 0 0 1 249.07,31.86L227.35,29.08A229.20,229.20 0 0 0 227.41,28.56ZM248.71,34.55A251.10,251.10 0 0 1 248.45,36.39L226.78,33.22A229.20,229.20 0 0 0 227.02,31.54ZM247.47,42.53A251.10,251.10 0 0 1 247.10,44.64L225.55,40.75A229.20,229.20 0 0 0 225.89,38.82ZM246.95,45.48A251.10,251.10 0 0 1 246.64,47.12L225.13,43.01A229.20,229.20 0 0 0 225.41,41.52ZM246.16,49.55A251.10,251.10 0 0 1 245.84,51.14L224.40,46.68A229.20,229.20 0 0 0 224.69,45.23ZM245.35,53.42A251.10,251.10 0 0 1 245.22,54.03L223.83,49.32A229.20,229.20 0 0 0 223.95,48.76ZM244.77,56.03A251.10,251.10 0 0 1 244.24,58.30L222.94,53.22A229.20,229.20 0 0 0 223.42,51.14ZM243.72,60.43A251.10,251.10 0 0 1 243.24,62.32L222.03,56.89A229.20,229.20 0 0 0 222.46,55.16ZM242.24,66.10A251.10,251.10 0 0 1 241.19,69.86L220.15,63.77A229.20,229.20 0 0 0 221.12,60.34ZM240.65,71.69A251.10,251.10 0 0 1 240.61,71.83L219.62,65.56A229.20,229.20 0 0 0 219.66,65.44ZM240.13,73.42A251.10,251.10 0 0 1 239.89,74.20L218.97,67.73A229.20,229.20 0 0 0 219.18,67.02ZM239.19,76.42A251.10,251.10 0 0 1 238.66,78.06L217.84,71.25A229.20,229.20 0 0 0 218.33,69.76ZM237.98,80.09A251.10,251.10 0 0 1 237.77,80.72L217.03,73.68A229.20,229.20 0 0 0 217.23,73.11ZM236.28,84.99A251.10,251.10 0 0 1 235.31,87.63L214.79,79.99A229.20,229.20 0 0 0 215.67,77.58ZM234.54,89.68A251.10,251.10 0 0 1 234.25,90.44L213.82,82.55A229.20,229.20 0 0 0 214.08,81.86ZM233.36,92.70A251.10,251.10 0 0 1 233.03,93.54L212.70,85.38A229.20,229.20 0 0 0 213.01,84.62ZM232.74,94.25A251.10,251.10 0 0 1 232.36,95.18L212.10,86.88A229.20,229.20 0 0 0 212.44,86.03ZM231.23,97.90A251.10,251.10 0 0 1 230.12,100.49L210.05,91.72A229.20,229.20 0 0 0 211.06,89.36ZM229.48,101.92A251.10,251.10 0 0 1 228.39,104.36L208.47,95.26A229.20,229.20 0 0 0 209.47,93.04ZM227.73,105.78A251.10,251.10 0 0 1 226.72,107.94L206.94,98.53A229.20,229.20 0 0 0 207.87,96.56ZM225.62,110.21A251.10,251.10 0 0 1 225.01,111.45L205.38,101.73A229.20,229.20 0 0 0 205.94,100.60ZM224.37,112.73A251.10,251.10 0 0 1 223.47,114.52L203.98,104.53A229.20,229.20 0 0 0 204.80,102.90ZM221.57,118.15A251.10,251.10 0 0 1 220.60,119.95L201.36,109.49A229.20,229.20 0 0 0 202.24,107.84ZM219.73,121.54A251.10,251.10 0 0 1 218.72,123.34L199.65,112.58A229.20,229.20 0 0 0 200.56,110.94ZM216.58,127.05A251.10,251.10 0 0 1 216.03,128.00L197.19,116.83A229.20,229.20 0 0 0 197.69,115.97ZM215.57,128.77A251.10,251.10 0 0 1 214.85,129.96L196.11,118.62A229.20,229.20 0 0 0 196.76,117.54ZM213.99,131.38A251.10,251.10 0 0 1 213.74,131.79L195.09,120.29A229.20,229.20 0 0 0 195.32,119.92ZM213.28,132.52A251.10,251.10 0 0 1 212.83,133.25L194.27,121.62A229.20,229.20 0 0 0 194.68,120.96ZM210.26,137.26A251.10,251.10 0 0 1 209.79,137.98L191.50,125.94A229.20,229.20 0 0 0 191.93,125.29ZM208.90,139.33A251.10,251.10 0 0 1 208.45,140.00L190.27,127.79A229.20,229.20 0 0 0 190.68,127.18ZM208.08,140.55A251.10,251.10 0 0 1 207.25,141.77L189.17,129.41A229.20,229.20 0 0 0 189.93,128.29ZM206.19,143.30A251.10,251.10 0 0 1 204.63,145.53L186.78,132.83A229.20,229.20 0 0 0 188.21,130.81ZM203.07,147.69A251.10,251.10 0 0 1 202.76,148.11L185.08,135.20A229.20,229.20 0 0 0 185.36,134.81ZM201.61,149.69A251.10,251.10 0 0 1 201.12,150.34L183.58,137.23A229.20,229.20 0 0 0 184.02,136.63ZM199.80,152.09A251.10,251.10 0 0 1 199.77,152.12L182.35,138.86A229.20,229.20 0 0 0 182.38,138.82ZM197.85,154.61A251.10,251.10 0 0 1 196.11,156.82L179.01,143.14A229.20,229.20 0 0 0 180.60,141.13ZM193.71,159.78A251.10,251.10 0 0 1 193.40,160.14L176.54,146.18A229.20,229.20 0 0 0 176.81,145.84ZM192.46,161.28A251.10,251.10 0 0 1 190.89,163.13L174.24,148.91A229.20,229.20 0 0 0 175.67,147.21ZM188.89,165.44A251.10,251.10 0 0 1 188.55,165.83L172.10,151.37A229.20,229.20 0 0 0 172.42,151.01ZM187.00,167.58A251.10,251.10 0 0 1 184.08,170.78L168.02,155.89A229.20,229.20 0 0 0 170.69,152.96ZM182.87,172.07A251.10,251.10 0 0 1 182.81,172.14L166.86,157.13A229.20,229.20 0 0 0 166.92,157.06ZM180.31,174.76A251.10,251.10 0 0 1 179.98,175.10L164.28,159.83A229.20,229.20 0 0 0 164.58,159.52ZM178.91,176.19A251.10,251.10 0 0 1 178.61,176.49L163.03,161.10A229.20,229.20 0 0 0 163.31,160.82ZM177.26,177.85A251.10,251.10 0 0 1 175.98,179.12L160.63,163.50A229.20,229.20 0 0 0 161.80,162.33ZM174.68,180.38A251.10,251.10 0 0 1 173.72,181.31L158.57,165.50A229.20,229.20 0 0 0 159.45,164.65ZM172.55,182.42A251.10,251.10 0 0 1 171.33,183.57L156.39,167.56A229.20,229.20 0 0 0 157.50,166.51ZM170.28,184.54A251.10,251.10 0 0 1 168.35,186.31L153.67,170.06A229.20,229.20 0 0 0 155.43,168.44ZM167.11,187.42A251.10,251.10 0 0 1 164.74,189.50L150.37,172.98A229.20,229.20 0 0 0 152.53,171.07ZM161.48,192.29A251.10,251.10 0 0 1 160.46,193.14L146.46,176.30A229.20,229.20 0 0 0 147.40,175.52ZM159.83,193.66A251.10,251.10 0 0 1 158.80,194.51L144.95,177.54A229.20,229.20 0 0 0 145.89,176.77ZM156.39,196.45A251.10,251.10 0 0 1 155.38,197.25L141.83,180.05A229.20,229.20 0 0 0 142.75,179.32ZM153.73,198.54A251.10,251.10 0 0 1 151.99,199.87L138.74,182.44A229.20,229.20 0 0 0 140.32,181.22ZM151.04,200.59A251.10,251.10 0 0 1 150.74,200.82L137.59,183.31A229.20,229.20 0 0 0 137.87,183.10ZM148.37,202.58A251.10,251.10 0 0 1 147.52,203.20L134.65,185.48A229.20,229.20 0 0 0 135.43,184.91ZM145.16,204.89A251.10,251.10 0 0 1 144.34,205.47L131.75,187.55A229.20,229.20 0 0 0 132.50,187.02ZM142.93,206.45A251.10,251.10 0 0 1 142.34,206.86L129.93,188.81A229.20,229.20 0 0 0 130.47,188.44ZM140.97,207.80A251.10,251.10 0 0 1 139.39,208.86L127.23,190.64A229.20,229.20 0 0 0 128.67,189.67ZM137.92,209.83A251.10,251.10 0 0 1 135.80,211.21L123.96,192.79A229.20,229.20 0 0 0 125.89,191.53ZM133.71,212.54A251.10,251.10 0 0 1 131.57,213.87L120.09,195.22A229.20,229.20 0 0 0 122.05,194.00ZM127.94,216.06A251.10,251.10 0 0 1 127.20,216.50L116.10,197.62A229.20,229.20 0 0 0 116.78,197.22ZM126.00,217.20A251.10,251.10 0 0 1 125.30,217.60L114.37,198.62A229.20,229.20 0 0 0 115.01,198.25ZM123.15,218.83A251.10,251.10 0 0 1 120.74,220.17L110.21,200.97A229.20,229.20 0 0 0 112.41,199.74ZM120.44,220.33A251.10,251.10 0 0 1 119.23,220.99L108.83,201.71A229.20,229.20 0 0 0 109.94,201.11ZM116.20,222.60A251.10,251.10 0 0 1 115.01,223.21L104.98,203.74A229.20,229.20 0 0 0 106.06,203.18ZM113.44,224.01A251.10,251.10 0 0 1 112.30,224.59L102.50,205.00A229.20,229.20 0 0 0 103.55,204.47ZM110.89,225.29A251.10,251.10 0 0 1 109.99,225.73L100.40,206.04A229.20,229.20 0 0 0 101.22,205.64ZM109.47,225.98A251.10,251.10 0 0 1 108.53,226.43L99.06,206.69A229.20,229.20 0 0 0 99.93,206.27ZM106.12,227.57A251.10,251.10 0 0 1 104.00,228.55L94.93,208.62A229.20,229.20 0 0 0 96.86,207.73ZM101.91,229.49A251.10,251.10 0 0 1 99.86,230.39L91.15,210.29A229.20,229.20 0 0 0 93.02,209.47ZM98.77,230.86A251.10,251.10 0 0 1 97.00,231.61L88.54,211.41A229.20,229.20 0 0 0 90.15,210.72ZM93.03,233.23A251.10,251.10 0 0 1 92.05,233.62L84.02,213.24A229.20,229.20 0 0 0 84.91,212.89ZM90.28,234.31A251.10,251.10 0 0 1 87.38,235.41L79.76,214.87A229.20,229.20 0 0 0 82.40,213.87ZM84.56,236.43A251.10,251.10 0 0 1 82.63,237.12L75.42,216.43A229.20,229.20 0 0 0 77.19,215.81ZM80.78,237.75A251.10,251.10 0 0 1 80.15,237.96L73.16,217.21A229.20,229.20 0 0 0 73.74,217.02ZM76.67,239.11A251.10,251.10 0 0 1 75.85,239.37L69.23,218.49A229.20,229.20 0 0 0 69.98,218.26ZM75.21,239.57A251.10,251.10 0 0 1 73.67,240.05L67.24,219.11A229.20,229.20 0 0 0 68.65,218.68ZM71.38,240.74A251.10,251.10 0 0 1 69.51,241.29L63.45,220.24A229.20,229.20 0 0 0 65.16,219.74ZM69.33,241.34A251.10,251.10 0 0 1 68.00,241.72L62.07,220.64A229.20,229.20 0 0 0 63.28,220.29ZM65.20,242.49A251.10,251.10 0 0 1 64.92,242.56L59.26,221.41A229.20,229.20 0 0 0 59.51,221.34ZM63.17,243.02A251.10,251.10 0 0 1 62.25,243.26L56.82,222.05A229.20,229.20 0 0 0 57.66,221.83ZM61.09,243.55A251.10,251.10 0 0 1 59.52,243.94L54.33,222.67A229.20,229.20 0 0 0 55.76,222.31ZM57.48,244.43A251.10,251.10 0 0 1 56.65,244.63L51.71,223.29A229.20,229.20 0 0 0 52.47,223.11ZM54.56,245.10A251.10,251.10 0 0 1 53.49,245.34L48.82,223.94A229.20,229.20 0 0 0 49.80,223.72ZM50.50,245.97A251.10,251.10 0 0 1 47.84,246.50L43.67,225.00A229.20,229.20 0 0 0 46.10,224.52ZM46.62,246.73A251.10,251.10 0 0 1 44.47,247.13L40.59,225.58A229.20,229.20 0 0 0 42.56,225.21ZM42.45,247.49A251.10,251.10 0 0 1 41.70,247.61L38.06,226.02A229.20,229.20 0 0 0 38.75,225.90ZM39.07,248.04A251.10,251.10 0 0 1 38.36,248.15L35.01,226.51A229.20,229.20 0 0 0 35.66,226.41ZM36.81,248.39A251.10,251.10 0 0 1 34.54,248.71L31.53,227.02A229.20,229.20 0 0 0 33.60,226.72ZM32.56,248.98A251.10,251.10 0 0 1 30.24,249.27L27.61,227.53A229.20,229.20 0 0 0 29.72,227.27ZM28.59,249.47A251.10,251.10 0 0 1 25.53,249.80L23.30,228.01A229.20,229.20 0 0 0 26.09,227.71ZM21.26,250.20A251.10,251.10 0 0 1 20.21,250.29L18.45,228.46A229.20,229.20 0 0 0 19.40,228.38ZM19.07,250.37A251.10,251.10 0 0 1 16.98,250.53L15.50,228.68A229.20,229.20 0 0 0 17.41,228.54ZM14.51,250.68A251.10,251.10 0 0 1 13.37,250.74L12.20,228.87A229.20,229.20 0 0 0 13.24,228.82ZM12.46,250.79A251.10,251.10 0 0 1 11.80,250.82L10.77,228.95A229.20,229.20 0 0 0 11.38,228.92ZM9.09,250.94A251.10,251.10 0 0 1 7.94,250.97L7.25,229.09A229.20,229.20 0 0 0 8.29,229.05ZM5.47,251.04A251.10,251.10 0 0 1 3.99,251.07L3.64,229.17A229.20,229.20 0 0 0 4.99,229.15ZM2.99,251.08A251.10,251.10 0 0 1 1.75,251.09L1.60,229.19A229.20,229.20 0 0 0 2.73,229.18ZM0.51,251.10A251.10,251.10 0 0 1 -1.25,251.10L-1.14,229.20A229.20,229.20 0 0 0 0.47,229.20ZM-10.11,250.90A251.10,251.10 0 0 1 -11.44,250.84L-10.44,228.96A229.20,229.20 0 0 0 -9.23,229.01ZM-13.11,250.76A251.10,251.10 0 0 1 -13.96,250.71L-12.75,228.85A229.20,229.20 0 0 0 -11.96,228.89ZM-16.44,250.56A251.10,251.10 0 0 1 -17.34,250.50L-15.83,228.65A229.20,229.20 0 0 0 -15.00,228.71ZM-18.76,250.40A251.10,251.10 0 0 1 -20.09,250.29L-18.34,228.46A229.20,229.20 0 0 0 -17.13,228.56ZM-21.76,250.16A251.10,251.10 0 0 1 -22.42,250.10L-20.47,228.28A229.20,229.20 0 0 0 -19.86,228.34ZM-23.42,250.01A251.10,251.10 0 0 1 -24.70,249.88L-22.54,228.09A229.20,229.20 0 0 0 -21.37,228.20ZM-25.98,249.75A251.10,251.10 0 0 1 -27.54,249.59L-25.14,227.82A229.20,229.20 0 0 0 -23.71,227.97ZM-30.19,249.28A251.10,251.10 0 0 1 -31.66,249.10L-28.90,227.37A229.20,229.20 0 0 0 -27.56,227.54ZM-33.36,248.87A251.10,251.10 0 0 1 -34.68,248.69L-31.65,227.00A229.20,229.20 0 0 0 -30.45,227.17ZM-36.94,248.37A251.10,251.10 0 0 1 -38.50,248.13L-35.14,226.49A229.20,229.20 0 0 0 -33.72,226.71ZM-40.61,247.79A251.10,251.10 0 0 1 -42.12,247.54L-38.44,225.95A229.20,229.20 0 0 0 -37.07,226.18ZM-42.35,247.50A251.10,251.10 0 0 1 -43.24,247.35L-39.47,225.78A229.20,229.20 0 0 0 -38.66,225.92ZM-43.95,247.22A251.10,251.10 0 0 1 -45.73,246.90L-41.74,225.37A229.20,229.20 0 0 0 -40.11,225.66ZM-49.94,246.08A251.10,251.10 0 0 1 -51.34,245.79L-46.86,224.36A229.20,229.20 0 0 0 -45.59,224.62ZM-51.72,245.72A251.10,251.10 0 0 1 -53.02,245.44L-48.40,224.03A229.20,229.20 0 0 0 -47.20,224.29ZM-55.62,244.86A251.10,251.10 0 0 1 -57.99,244.31L-52.93,223.00A229.20,229.20 0 0 0 -50.77,223.51ZM-58.59,244.17A251.10,251.10 0 0 1 -58.64,244.16L-53.53,222.86A229.20,229.20 0 0 0 -53.48,222.87ZM-60.45,243.72A251.10,251.10 0 0 1 -61.37,243.49L-56.02,222.25A229.20,229.20 0 0 0 -55.17,222.46ZM-63.68,242.89A251.10,251.10 0 0 1 -64.46,242.69L-58.84,221.52A229.20,229.20 0 0 0 -58.12,221.71ZM-65.89,242.30A251.10,251.10 0 0 1 -67.54,241.85L-61.65,220.75A229.20,229.20 0 0 0 -60.14,221.17ZM-69.51,241.29A251.10,251.10 0 0 1 -71.25,240.78L-65.03,219.78A229.20,229.20 0 0 0 -63.45,220.24ZM-72.98,240.26A251.10,251.10 0 0 1 -74.35,239.84L-67.86,218.92A229.20,229.20 0 0 0 -66.62,219.31ZM-78.12,238.64A251.10,251.10 0 0 1 -79.61,238.15L-72.67,217.38A229.20,229.20 0 0 0 -71.30,217.83ZM-82.36,237.21A251.10,251.10 0 0 1 -84.29,236.53L-76.94,215.90A229.20,229.20 0 0 0 -75.18,216.52ZM-85.55,236.08A251.10,251.10 0 0 1 -87.47,235.37L-79.84,214.84A229.20,229.20 0 0 0 -78.09,215.49ZM-90.10,234.38A251.10,251.10 0 0 1 -90.81,234.10L-82.89,213.69A229.20,229.20 0 0 0 -82.24,213.94ZM-92.32,233.51A251.10,251.10 0 0 1 -92.85,233.30L-84.75,212.95A229.20,229.20 0 0 0 -84.27,213.15ZM-94.13,232.79A251.10,251.10 0 0 1 -95.15,232.38L-86.85,212.11A229.20,229.20 0 0 0 -85.92,212.49ZM-96.29,231.90A251.10,251.10 0 0 1 -96.78,231.70L-88.34,211.49A229.20,229.20 0 0 0 -87.89,211.68ZM-97.61,231.35A251.10,251.10 0 0 1 -98.01,231.18L-89.46,211.02A229.20,229.20 0 0 0 -89.10,211.17ZM-100.67,230.03A251.10,251.10 0 0 1 -101.98,229.46L-93.09,209.45A229.20,229.20 0 0 0 -91.89,209.97ZM-103.81,228.64A251.10,251.10 0 0 1 -104.93,228.12L-95.78,208.23A229.20,229.20 0 0 0 -94.75,208.70ZM-105.54,227.84A251.10,251.10 0 0 1 -107.44,226.95L-98.07,207.16A229.20,229.20 0 0 0 -96.33,207.97ZM-108.77,226.32A251.10,251.10 0 0 1 -110.88,225.29L-101.21,205.64A229.20,229.20 0 0 0 -99.28,206.58ZM-114.71,223.37A251.10,251.10 0 0 1 -115.90,222.75L-105.79,203.32A229.20,229.20 0 0 0 -104.71,203.88ZM-119.22,220.99A251.10,251.10 0 0 1 -120.06,220.54L-109.59,201.30A229.20,229.20 0 0 0 -108.83,201.72ZM-121.52,219.73A251.10,251.10 0 0 1 -123.81,218.45L-113.01,199.40A229.20,229.20 0 0 0 -110.92,200.57ZM-125.63,217.41A251.10,251.10 0 0 1 -126.08,217.15L-115.09,198.21A229.20,229.20 0 0 0 -114.67,198.45ZM-127.65,216.24A251.10,251.10 0 0 1 -129.85,214.92L-118.53,196.17A229.20,229.20 0 0 0 -116.51,197.38ZM-132.74,213.15A251.10,251.10 0 0 1 -134.87,211.80L-123.11,193.33A229.20,229.20 0 0 0 -121.16,194.56ZM-139.30,208.92A251.10,251.10 0 0 1 -140.02,208.44L-127.80,190.26A229.20,229.20 0 0 0 -127.15,190.69ZM-140.69,207.99A251.10,251.10 0 0 1 -141.67,207.32L-129.32,189.23A229.20,229.20 0 0 0 -128.42,189.85ZM-142.65,206.64A251.10,251.10 0 0 1 -143.44,206.10L-130.93,188.12A229.20,229.20 0 0 0 -130.21,188.62ZM-145.31,204.78A251.10,251.10 0 0 1 -146.05,204.26L-133.31,186.44A229.20,229.20 0 0 0 -132.64,186.92ZM-149.32,201.88A251.10,251.10 0 0 1 -150.35,201.11L-137.24,183.57A229.20,229.20 0 0 0 -136.30,184.27ZM-152.06,199.82A251.10,251.10 0 0 1 -153.73,198.54L-140.32,181.23A229.20,229.20 0 0 0 -138.80,182.39ZM-155.57,197.10A251.10,251.10 0 0 1 -155.87,196.87L-142.27,179.70A229.20,229.20 0 0 0 -142.00,179.91ZM-158.65,194.63A251.10,251.10 0 0 1 -159.43,194.00L-145.52,177.08A229.20,229.20 0 0 0 -144.81,177.66ZM-160.16,193.39A251.10,251.10 0 0 1 -162.61,191.34L-148.42,174.65A229.20,229.20 0 0 0 -146.19,176.52ZM-163.58,190.50A251.10,251.10 0 0 1 -164.99,189.29L-150.60,172.78A229.20,229.20 0 0 0 -149.32,173.89ZM-166.06,188.35A251.10,251.10 0 0 1 -167.56,187.01L-152.95,170.70A229.20,229.20 0 0 0 -151.58,171.92ZM-170.73,184.12A251.10,251.10 0 0 1 -171.88,183.05L-156.89,167.09A229.20,229.20 0 0 0 -155.84,168.07ZM-172.61,182.37A251.10,251.10 0 0 1 -174.23,180.82L-159.03,165.05A229.20,229.20 0 0 0 -157.55,166.46ZM-175.15,179.92A251.10,251.10 0 0 1 -175.83,179.26L-160.50,163.62A229.20,229.20 0 0 0 -159.88,164.23ZM-177.59,177.52A251.10,251.10 0 0 1 -178.03,177.08L-162.50,161.63A229.20,229.20 0 0 0 -162.10,162.03ZM-179.77,175.31A251.10,251.10 0 0 1 -180.20,174.87L-164.48,159.62A229.20,229.20 0 0 0 -164.09,160.02ZM-181.16,173.87A251.10,251.10 0 0 1 -182.02,172.98L-166.14,157.89A229.20,229.20 0 0 0 -165.36,158.71ZM-186.26,168.40A251.10,251.10 0 0 1 -187.12,167.44L-170.80,152.84A229.20,229.20 0 0 0 -170.01,153.71ZM-187.88,166.59A251.10,251.10 0 0 1 -188.95,165.38L-172.47,150.95A229.20,229.20 0 0 0 -171.49,152.06ZM-189.48,164.77A251.10,251.10 0 0 1 -189.95,164.23L-173.38,149.90A229.20,229.20 0 0 0 -172.96,150.40ZM-191.50,162.42A251.10,251.10 0 0 1 -192.11,161.69L-175.36,147.59A229.20,229.20 0 0 0 -174.80,148.25ZM-192.91,160.74A251.10,251.10 0 0 1 -194.06,159.34L-177.14,145.45A229.20,229.20 0 0 0 -176.09,146.72ZM-195.33,157.79A251.10,251.10 0 0 1 -196.70,156.08L-179.54,142.47A229.20,229.20 0 0 0 -178.29,144.03ZM-198.58,153.68A251.10,251.10 0 0 1 -199.25,152.81L-181.87,139.49A229.20,229.20 0 0 0 -181.26,140.28ZM-200.29,151.45A251.10,251.10 0 0 1 -201.32,150.08L-183.76,136.99A229.20,229.20 0 0 0 -182.82,138.24ZM-202.84,148.01A251.10,251.10 0 0 1 -203.46,147.16L-185.71,134.32A229.20,229.20 0 0 0 -185.15,135.10ZM-204.90,145.14A251.10,251.10 0 0 1 -205.64,144.09L-187.71,131.53A229.20,229.20 0 0 0 -187.03,132.49ZM-205.81,143.86A251.10,251.10 0 0 1 -206.35,143.08L-188.35,130.60A229.20,229.20 0 0 0 -187.86,131.31ZM-207.03,142.10A251.10,251.10 0 0 1 -207.38,141.59L-189.29,129.24A229.20,229.20 0 0 0 -188.97,129.70ZM-208.07,140.56A251.10,251.10 0 0 1 -209.45,138.50L-191.18,126.42A229.20,229.20 0 0 0 -189.92,128.30ZM-210.34,137.15A251.10,251.10 0 0 1 -211.51,135.33L-193.07,123.52A229.20,229.20 0 0 0 -191.99,125.19ZM-218.52,123.70A251.10,251.10 0 0 1 -219.40,122.12L-200.27,111.47A229.20,229.20 0 0 0 -199.46,112.91ZM-219.91,121.20A251.10,251.10 0 0 1 -220.44,120.24L-201.21,109.75A229.20,229.20 0 0 0 -200.73,110.63ZM-220.69,119.78A251.10,251.10 0 0 1 -221.44,118.40L-202.12,108.07A229.20,229.20 0 0 0 -201.44,109.33ZM-221.84,117.64A251.10,251.10 0 0 1 -222.17,117.01L-202.80,106.80A229.20,229.20 0 0 0 -202.49,107.38ZM-223.18,115.06A251.10,251.10 0 0 1 -224.29,112.90L-204.73,103.05A229.20,229.20 0 0 0 -203.72,105.03ZM-224.42,112.64A251.10,251.10 0 0 1 -224.74,112.00L-205.14,102.24A229.20,229.20 0 0 0 -204.84,102.82ZM-225.50,110.47A251.10,251.10 0 0 1 -226.41,108.58L-206.66,99.11A229.20,229.20 0 0 0 -205.83,100.83ZM-227.29,106.73A251.10,251.10 0 0 1 -227.83,105.56L-207.96,96.36A229.20,229.20 0 0 0 -207.46,97.42ZM-228.51,104.09A251.10,251.10 0 0 1 -229.08,102.83L-209.10,93.86A229.20,229.20 0 0 0 -208.58,95.01ZM-229.99,100.79A251.10,251.10 0 0 1 -230.38,99.87L-210.29,91.16A229.20,229.20 0 0 0 -209.93,92.00ZM-230.72,99.08A251.10,251.10 0 0 1 -231.06,98.29L-210.91,89.72A229.20,229.20 0 0 0 -210.60,90.44ZM-232.65,94.47A251.10,251.10 0 0 1 -233.06,93.45L-212.74,85.30A229.20,229.20 0 0 0 -212.36,86.23ZM-233.94,91.24A251.10,251.10 0 0 1 -234.49,89.81L-214.04,81.98A229.20,229.20 0 0 0 -213.54,83.28ZM-234.68,89.32A251.10,251.10 0 0 1 -235.08,88.25L-214.58,80.56A229.20,229.20 0 0 0 -214.21,81.53ZM-235.59,86.87A251.10,251.10 0 0 1 -235.96,85.89L-215.38,78.40A229.20,229.20 0 0 0 -215.05,79.29ZM-236.49,84.41A251.10,251.10 0 0 1 -237.26,82.22L-216.57,75.05A229.20,229.20 0 0 0 -215.86,77.05ZM-241.30,69.46A251.10,251.10 0 0 1 -242.01,66.94L-220.91,61.10A229.20,229.20 0 0 0 -220.26,63.40ZM-243.09,62.93A251.10,251.10 0 0 1 -243.32,62.01L-222.10,56.60A229.20,229.20 0 0 0 -221.88,57.44ZM-243.47,61.41A251.10,251.10 0 0 1 -243.61,60.86L-222.37,55.55A229.20,229.20 0 0 0 -222.24,56.05ZM-244.26,58.22A251.10,251.10 0 0 1 -244.66,56.50L-223.32,51.57A229.20,229.20 0 0 0 -222.95,53.14ZM-245.05,54.78A251.10,251.10 0 0 1 -245.38,53.29L-223.98,48.65A229.20,229.20 0 0 0 -223.68,50.00ZM-245.52,52.64A251.10,251.10 0 0 1 -245.78,51.43L-224.34,46.94A229.20,229.20 0 0 0 -224.11,48.05ZM-246.16,49.56A251.10,251.10 0 0 1 -246.41,48.30L-224.92,44.09A229.20,229.20 0 0 0 -224.69,45.24ZM-246.69,46.85A251.10,251.10 0 0 1 -246.89,45.77L-225.36,41.78A229.20,229.20 0 0 0 -225.18,42.77ZM-247.20,44.09A251.10,251.10 0 0 1 -247.65,41.51L-226.05,37.89A229.20,229.20 0 0 0 -225.64,40.24ZM-247.98,39.48A251.10,251.10 0 0 1 -248.07,38.87L-226.44,35.48A229.20,229.20 0 0 0 -226.35,36.04ZM-248.42,36.56A251.10,251.10 0 0 1 -248.57,35.57L-226.89,32.47A229.20,229.20 0 0 0 -226.76,33.37ZM-248.75,34.25A251.10,251.10 0 0 1 -248.86,33.50L-227.15,30.58A229.20,229.20 0 0 0 -227.06,31.27ZM-249.17,31.09A251.10,251.10 0 0 1 -249.27,30.24L-227.53,27.60A229.20,229.20 0 0 0 -227.44,28.38ZM-249.32,29.86A251.10,251.10 0 0 1 -249.50,28.27L-227.74,25.81A229.20,229.20 0 0 0 -227.57,27.25ZM-250.70,14.18A251.10,251.10 0 0 1 -250.82,11.80L-228.95,10.77A229.20,229.20 0 0 0 -228.83,12.94ZM-250.87,10.66A251.10,251.10 0 0 1 -250.92,9.61L-229.03,8.77A229.20,229.20 0 0 0 -228.99,9.73ZM-250.93,9.18A251.10,251.10 0 0 1 -250.97,8.04L-229.08,7.34A229.20,229.20 0 0 0 -229.05,8.38ZM-251.05,4.94A251.10,251.10 0 0 1 -251.07,3.66L-229.18,3.34A229.20,229.20 0 0 0 -229.16,4.51ZM-251.08,3.27A251.10,251.10 0 0 1 -251.09,2.70L-229.19,2.47A229.20,229.20 0 0 0 -229.18,2.99ZM-251.10,0.46A251.10,251.10 0 0 1 -251.10,-1.16L-229.20,-1.06A229.20,229.20 0 0 0 -229.20,0.42ZM-251.07,-4.11A251.10,251.10 0 0 1 -251.06,-4.21L-229.17,-3.84A229.20,229.20 0 0 0 -229.17,-3.75ZM-251.02,-6.30A251.10,251.10 0 0 1 -250.97,-7.97L-229.08,-7.27A229.20,229.20 0 0 0 -229.13,-5.75ZM-250.97,-8.02A251.10,251.10 0 0 1 -250.97,-8.11L-229.08,-7.40A229.20,229.20 0 0 0 -229.08,-7.32ZM-250.88,-10.59A251.10,251.10 0 0 1 -250.82,-11.78L-228.95,-10.75A229.20,229.20 0 0 0 -229.00,-9.66ZM-250.79,-12.44A251.10,251.10 0 0 1 -250.75,-13.25L-228.88,-12.10A229.20,229.20 0 0 0 -228.92,-11.36ZM-250.66,-14.87A251.10,251.10 0 0 1 -250.56,-16.53L-228.70,-15.09A229.20,229.20 0 0 0 -228.80,-13.57ZM-250.43,-18.39A251.10,251.10 0 0 1 -250.23,-20.86L-228.41,-19.04A229.20,229.20 0 0 0 -228.58,-16.78ZM-250.06,-22.85A251.10,251.10 0 0 1 -249.88,-24.76L-228.08,-22.60A229.20,229.20 0 0 0 -228.25,-20.86ZM-249.42,-29.02A251.10,251.10 0 0 1 -248.95,-32.76L-227.24,-29.90A229.20,229.20 0 0 0 -227.66,-26.49ZM-248.79,-33.99A251.10,251.10 0 0 1 -248.65,-34.98L-226.97,-31.93A229.20,229.20 0 0 0 -227.09,-31.02ZM-248.50,-36.01A251.10,251.10 0 0 1 -248.37,-36.96L-226.70,-33.73A229.20,229.20 0 0 0 -226.83,-32.87ZM-248.05,-39.03A251.10,251.10 0 0 1 -247.82,-40.44L-226.21,-36.91A229.20,229.20 0 0 0 -226.41,-35.63ZM-247.52,-42.27A251.10,251.10 0 0 1 -246.98,-45.32L-225.44,-41.37A229.20,229.20 0 0 0 -225.93,-38.59ZM-245.84,-51.12A251.10,251.10 0 0 1 -245.28,-53.73L-223.89,-49.04A229.20,229.20 0 0 0 -224.40,-46.66ZM-244.86,-55.64A251.10,251.10 0 0 1 -244.78,-55.96L-223.44,-51.08A229.20,229.20 0 0 0 -223.50,-50.78ZM-243.76,-60.27A251.10,251.10 0 0 1 -243.28,-62.16L-222.07,-56.74A229.20,229.20 0 0 0 -222.50,-55.01ZM-243.03,-63.13A251.10,251.10 0 0 1 -242.89,-63.69L-221.71,-58.13A229.20,229.20 0 0 0 -221.84,-57.63ZM-242.26,-66.03A251.10,251.10 0 0 1 -241.95,-67.18L-220.84,-61.32A229.20,229.20 0 0 0 -221.13,-60.27ZM-241.62,-68.33A251.10,251.10 0 0 1 -241.24,-69.66L-220.20,-63.58A229.20,229.20 0 0 0 -220.55,-62.37ZM-241.03,-70.39A251.10,251.10 0 0 1 -240.81,-71.14L-219.81,-64.94A229.20,229.20 0 0 0 -220.01,-64.25ZM-239.56,-75.25A251.10,251.10 0 0 1 -239.08,-76.74L-218.23,-70.05A229.20,229.20 0 0 0 -218.67,-68.68ZM-238.61,-78.19A251.10,251.10 0 0 1 -237.98,-80.09L-217.23,-73.11A229.20,229.20 0 0 0 -217.80,-71.37ZM-237.17,-82.48A251.10,251.10 0 0 1 -236.18,-85.27L-215.58,-77.83A229.20,229.20 0 0 0 -216.48,-75.29ZM-235.59,-86.88A251.10,251.10 0 0 1 -234.59,-89.55L-214.13,-81.74A229.20,229.20 0 0 0 -215.04,-79.30ZM-233.50,-92.35A251.10,251.10 0 0 1 -233.45,-92.48L-213.09,-84.42A229.20,229.20 0 0 0 -213.14,-84.30ZM-233.01,-93.59A251.10,251.10 0 0 1 -232.29,-95.36L-212.03,-87.04A229.20,229.20 0 0 0 -212.68,-85.43ZM-231.83,-96.46A251.10,251.10 0 0 1 -231.32,-97.69L-211.14,-89.17A229.20,229.20 0 0 0 -211.62,-88.04ZM-229.92,-100.92A251.10,251.10 0 0 1 -229.79,-101.23L-209.75,-92.40A229.20,229.20 0 0 0 -209.87,-92.12ZM-229.25,-102.45A251.10,251.10 0 0 1 -228.96,-103.10L-208.99,-94.11A229.20,229.20 0 0 0 -209.26,-93.51ZM-228.64,-103.80A251.10,251.10 0 0 1 -228.07,-105.05L-208.18,-95.89A229.20,229.20 0 0 0 -208.70,-94.74ZM-227.31,-106.69A251.10,251.10 0 0 1 -226.51,-108.37L-206.75,-98.92A229.20,229.20 0 0 0 -207.48,-97.39ZM-226.41,-108.59A251.10,251.10 0 0 1 -225.18,-111.11L-205.54,-101.42A229.20,229.20 0 0 0 -206.66,-99.12ZM-223.25,-114.94A251.10,251.10 0 0 1 -222.61,-116.17L-203.20,-106.04A229.20,229.20 0 0 0 -203.78,-104.92ZM-221.68,-117.94A251.10,251.10 0 0 1 -221.36,-118.53L-202.06,-108.19A229.20,229.20 0 0 0 -202.34,-107.65ZM-220.82,-119.54A251.10,251.10 0 0 1 -219.79,-121.42L-200.62,-110.83A229.20,229.20 0 0 0 -201.56,-109.11ZM-218.96,-122.91A251.10,251.10 0 0 1 -217.55,-125.40L-198.57,-114.46A229.20,229.20 0 0 0 -199.86,-112.19ZM-215.69,-128.56A251.10,251.10 0 0 1 -214.59,-130.40L-195.87,-119.03A229.20,229.20 0 0 0 -196.88,-117.35ZM-213.01,-132.96A251.10,251.10 0 0 1 -211.82,-134.85L-193.34,-123.09A229.20,229.20 0 0 0 -194.43,-121.36ZM-210.37,-137.09A251.10,251.10 0 0 1 -209.75,-138.05L-191.45,-126.01A229.20,229.20 0 0 0 -192.02,-125.14ZM-209.01,-139.16A251.10,251.10 0 0 1 -208.32,-140.19L-190.15,-127.96A229.20,229.20 0 0 0 -190.78,-127.03ZM-206.93,-142.24A251.10,251.10 0 0 1 -206.41,-142.98L-188.41,-130.51A229.20,229.20 0 0 0 -188.88,-129.83ZM-205.21,-144.70A251.10,251.10 0 0 1 -203.84,-146.64L-186.06,-133.85A229.20,229.20 0 0 0 -187.31,-132.08ZM-201.30,-150.09A251.10,251.10 0 0 1 -199.32,-152.72L-181.94,-139.40A229.20,229.20 0 0 0 -183.75,-137.00ZM-197.27,-155.35A251.10,251.10 0 0 1 -197.25,-155.39L-180.04,-141.84A229.20,229.20 0 0 0 -180.07,-141.80ZM-196.57,-156.25A251.10,251.10 0 0 1 -195.46,-157.62L-178.42,-143.88A229.20,229.20 0 0 0 -179.42,-142.62ZM-191.70,-162.18A251.10,251.10 0 0 1 -190.74,-163.30L-174.11,-149.06A229.20,229.20 0 0 0 -174.98,-148.03ZM-189.87,-164.31A251.10,251.10 0 0 1 -189.75,-164.46L-173.20,-150.11A229.20,229.20 0 0 0 -173.31,-149.98ZM-188.28,-166.14A251.10,251.10 0 0 1 -187.71,-166.79L-171.34,-152.24A229.20,229.20 0 0 0 -171.85,-151.65ZM-186.82,-167.78A251.10,251.10 0 0 1 -185.73,-168.98L-169.53,-154.24A229.20,229.20 0 0 0 -170.52,-153.15ZM-185.03,-169.76A251.10,251.10 0 0 1 -184.15,-170.70L-168.09,-155.81A229.20,229.20 0 0 0 -168.89,-154.95ZM-180.28,-174.79A251.10,251.10 0 0 1 -178.58,-176.53L-163.00,-161.13A229.20,229.20 0 0 0 -164.55,-159.55ZM-177.20,-177.91A251.10,251.10 0 0 1 -176.22,-178.88L-160.85,-163.28A229.20,229.20 0 0 0 -161.74,-162.39ZM-174.24,-180.81A251.10,251.10 0 0 1 -173.07,-181.93L-157.97,-166.06A229.20,229.20 0 0 0 -159.04,-165.04ZM-172.72,-182.26A251.10,251.10 0 0 1 -171.58,-183.34L-156.61,-167.35A229.20,229.20 0 0 0 -157.66,-166.36ZM-170.25,-184.57A251.10,251.10 0 0 1 -169.30,-185.44L-154.54,-169.27A229.20,229.20 0 0 0 -155.40,-168.47ZM-168.49,-186.18A251.10,251.10 0 0 1 -167.36,-187.20L-152.76,-170.87A229.20,229.20 0 0 0 -153.80,-169.94ZM-165.90,-188.49A251.10,251.10 0 0 1 -165.75,-188.62L-151.30,-172.17A229.20,229.20 0 0 0 -151.43,-172.05ZM-164.21,-189.96A251.10,251.10 0 0 1 -162.98,-191.02L-148.77,-174.36A229.20,229.20 0 0 0 -149.89,-173.40ZM-161.09,-192.62A251.10,251.10 0 0 1 -160.54,-193.08L-146.54,-176.24A229.20,229.20 0 0 0 -147.04,-175.82ZM-159.84,-193.65A251.10,251.10 0 0 1 -158.14,-195.05L-144.34,-178.04A229.20,229.20 0 0 0 -145.90,-176.76ZM-149.36,-201.85A251.10,251.10 0 0 1 -148.56,-202.44L-135.60,-184.78A229.20,229.20 0 0 0 -136.33,-184.24ZM-145.62,-204.56A251.10,251.10 0 0 1 -144.53,-205.33L-131.93,-187.42A229.20,229.20 0 0 0 -132.92,-186.72ZM-142.70,-206.61A251.10,251.10 0 0 1 -141.01,-207.77L-128.71,-189.65A229.20,229.20 0 0 0 -130.25,-188.59ZM-140.22,-208.30A251.10,251.10 0 0 1 -139.46,-208.81L-127.30,-190.60A229.20,229.20 0 0 0 -127.99,-190.14ZM-138.31,-209.57A251.10,251.10 0 0 1 -136.11,-211.01L-124.24,-192.61A229.20,229.20 0 0 0 -126.25,-191.29ZM-125.17,-217.68A251.10,251.10 0 0 1 -123.39,-218.69L-112.62,-199.62A229.20,229.20 0 0 0 -114.25,-198.70ZM-122.85,-219.00A251.10,251.10 0 0 1 -121.85,-219.56L-111.22,-200.41A229.20,229.20 0 0 0 -112.13,-199.90ZM-120.30,-220.41A251.10,251.10 0 0 1 -119.21,-221.00L-108.82,-201.72A229.20,229.20 0 0 0 -109.81,-201.18ZM-116.94,-222.21A251.10,251.10 0 0 1 -115.51,-222.96L-105.43,-203.51A229.20,229.20 0 0 0 -106.74,-202.83ZM-114.15,-223.65A251.10,251.10 0 0 1 -112.37,-224.56L-102.57,-204.97A229.20,229.20 0 0 0 -104.20,-204.15ZM-111.94,-224.77A251.10,251.10 0 0 1 -111.13,-225.17L-101.44,-205.53A229.20,229.20 0 0 0 -102.18,-205.16ZM-107.27,-227.03A251.10,251.10 0 0 1 -105.41,-227.90L-96.22,-208.03A229.20,229.20 0 0 0 -97.91,-207.23ZM-104.68,-228.24A251.10,251.10 0 0 1 -103.16,-228.93L-94.16,-208.96A229.20,229.20 0 0 0 -95.55,-208.33ZM-99.85,-230.39A251.10,251.10 0 0 1 -98.88,-230.81L-90.26,-210.68A229.20,229.20 0 0 0 -91.14,-210.30ZM-97.74,-231.29A251.10,251.10 0 0 1 -96.43,-231.85L-88.02,-211.63A229.20,229.20 0 0 0 -89.22,-211.12ZM-94.49,-232.64A251.10,251.10 0 0 1 -93.52,-233.04L-85.36,-212.71A229.20,229.20 0 0 0 -86.25,-212.35ZM-90.81,-234.10A251.10,251.10 0 0 1 -88.68,-234.92L-80.94,-214.43A229.20,229.20 0 0 0 -82.89,-213.69ZM-86.89,-235.59A251.10,251.10 0 0 1 -85.37,-236.14L-77.92,-215.55A229.20,229.20 0 0 0 -79.31,-215.04ZM-83.13,-236.94A251.10,251.10 0 0 1 -81.64,-237.46L-74.52,-216.75A229.20,229.20 0 0 0 -75.88,-216.28ZM-79.43,-238.21A251.10,251.10 0 0 1 -78.71,-238.45L-71.84,-217.65A229.20,229.20 0 0 0 -72.50,-217.43ZM-77.26,-238.92A251.10,251.10 0 0 1 -75.44,-239.50L-68.86,-218.61A229.20,229.20 0 0 0 -70.52,-218.08ZM-74.49,-239.80A251.10,251.10 0 0 1 -73.53,-240.09L-67.12,-219.15A229.20,229.20 0 0 0 -67.99,-218.88ZM-69.60,-241.26A251.10,251.10 0 0 1 -68.87,-241.47L-62.86,-220.41A229.20,229.20 0 0 0 -63.53,-220.22ZM-66.30,-242.19A251.10,251.10 0 0 1 -65.52,-242.40L-59.81,-221.26A229.20,229.20 0 0 0 -60.52,-221.07ZM-63.31,-242.99A251.10,251.10 0 0 1 -61.33,-243.50L-55.98,-222.26A229.20,229.20 0 0 0 -57.79,-221.80ZM-60.82,-243.62A251.10,251.10 0 0 1 -58.50,-244.19L-53.40,-222.89A229.20,229.20 0 0 0 -55.51,-222.38ZM-54.88,-245.03A251.10,251.10 0 0 1 -52.84,-245.48L-48.23,-224.07A229.20,229.20 0 0 0 -50.10,-223.66ZM-49.20,-246.23A251.10,251.10 0 0 1 -48.40,-246.39L-44.18,-224.90A229.20,229.20 0 0 0 -44.91,-224.76ZM-46.91,-246.68A251.10,251.10 0 0 1 -44.85,-247.06L-40.93,-225.52A229.20,229.20 0 0 0 -42.82,-225.17ZM-43.77,-247.26A251.10,251.10 0 0 1 -42.92,-247.40L-39.18,-225.83A229.20,229.20 0 0 0 -39.95,-225.69ZM-40.57,-247.80A251.10,251.10 0 0 1 -36.73,-248.40L-33.52,-226.74A229.20,229.20 0 0 0 -37.03,-226.19ZM-32.48,-248.99A251.10,251.10 0 0 1 -31.30,-249.14L-28.57,-227.41A229.20,229.20 0 0 0 -29.65,-227.27ZM-31.06,-249.17A251.10,251.10 0 0 1 -26.99,-249.64L-24.64,-227.87A229.20,229.20 0 0 0 -28.35,-227.44ZM-26.14,-249.74A251.10,251.10 0 0 1 -25.34,-249.82L-23.13,-228.03A229.20,229.20 0 0 0 -23.86,-227.95ZM-23.11,-250.03A251.10,251.10 0 0 1 -22.02,-250.13L-20.10,-228.32A229.20,229.20 0 0 0 -21.09,-228.23ZM-20.07,-250.30A251.10,251.10 0 0 1 -18.83,-250.39L-17.19,-228.55A229.20,229.20 0 0 0 -18.32,-228.47Z" fill="#ffffff" stroke="#ffffff" stroke-width="0.2"/>
<path d="M1.10,-251.10A251.10,251.10 0 0 1 2.57,-251.09L2.35,-229.19A229.20,229.20 0 0 0 1.00,-229.20ZM3.43,-251.08A251.10,251.10 0 0 1 4.38,-251.06L4.00,-229.17A229.20,229.20 0 0 0 3.13,-229.18ZM9.72,-250.91A251.10,251.10 0 0 1 11.38,-250.84L10.39,-228.96A229.20,229.20 0 0 0 8.87,-229.03ZM13.33,-250.75A251.10,251.10 0 0 1 14.38,-250.69L13.13,-228.82A229.20,229.20 0 0 0 12.17,-228.88ZM15.43,-250.63A251.10,251.10 0 0 1 16.47,-250.56L15.04,-228.71A229.20,229.20 0 0 0 14.08,-228.77ZM19.09,-250.37A251.10,251.10 0 0 1 20.99,-250.22L19.15,-228.40A229.20,229.20 0 0 0 17.42,-228.54ZM96.19,-231.95A251.10,251.10 0 0 1 98.08,-231.15L89.52,-210.99A229.20,229.20 0 0 0 87.80,-211.72ZM103.79,-228.64A251.10,251.10 0 0 1 104.83,-228.17L95.69,-208.27A229.20,229.20 0 0 0 94.74,-208.70ZM129.73,-214.99A251.10,251.10 0 0 1 130.58,-214.48L119.19,-195.77A229.20,229.20 0 0 0 118.41,-196.24ZM160.59,-193.03A251.10,251.10 0 0 1 161.58,-192.20L147.49,-175.44A229.20,229.20 0 0 0 146.59,-176.19ZM169.57,-185.20A251.10,251.10 0 0 1 170.48,-184.36L155.61,-168.28A229.20,229.20 0 0 0 154.78,-169.05ZM175.59,-179.50A251.10,251.10 0 0 1 175.79,-179.30L160.46,-163.66A229.20,229.20 0 0 0 160.27,-163.85ZM210.04,-137.60A251.10,251.10 0 0 1 210.43,-137.00L192.08,-125.05A229.20,229.20 0 0 0 191.72,-125.60ZM219.60,-121.77A251.10,251.10 0 0 1 219.99,-121.07L200.80,-110.51A229.20,229.20 0 0 0 200.44,-111.15ZM230.03,-100.69A251.10,251.10 0 0 1 230.20,-100.30L210.12,-91.55A229.20,229.20 0 0 0 209.97,-91.91ZM234.34,-90.20A251.10,251.10 0 0 1 234.68,-89.31L214.21,-81.52A229.20,229.20 0 0 0 213.90,-82.34ZM235.25,-87.80A251.10,251.10 0 0 1 235.99,-85.79L215.41,-78.30A229.20,229.20 0 0 0 214.73,-80.14ZM236.32,-84.89A251.10,251.10 0 0 1 236.79,-83.54L216.14,-76.26A229.20,229.20 0 0 0 215.70,-77.49ZM243.15,-62.68A251.10,251.10 0 0 1 243.33,-61.98L222.11,-56.58A229.20,229.20 0 0 0 221.95,-57.21ZM246.04,-50.14A251.10,251.10 0 0 1 246.19,-49.43L224.71,-45.12A229.20,229.20 0 0 0 224.59,-45.76ZM250.79,-12.55A251.10,251.10 0 0 1 250.85,-11.21L228.97,-10.24A229.20,229.20 0 0 0 228.91,-11.45ZM250.66,14.79A251.10,251.10 0 0 1 250.50,17.30L228.66,15.80A229.20,229.20 0 0 0 228.80,13.50ZM250.45,18.11A251.10,251.10 0 0 1 250.35,19.35L228.52,17.66A229.20,229.20 0 0 0 228.60,16.53ZM248.45,36.39A251.10,251.10 0 0 1 248.16,38.30L226.52,34.96A229.20,229.20 0 0 0 226.78,33.22ZM247.10,44.64A251.10,251.10 0 0 1 246.95,45.48L225.41,41.52A229.20,229.20 0 0 0 225.55,40.75ZM244.24,58.30A251.10,251.10 0 0 1 243.72,60.43L222.46,55.16A229.20,229.20 0 0 0 222.94,53.22ZM228.39,104.36A251.10,251.10 0 0 1 227.73,105.78L207.87,96.56A229.20,229.20 0 0 0 208.47,95.26ZM220.60,119.95A251.10,251.10 0 0 1 219.73,121.54L200.56,110.94A229.20,229.20 0 0 0 201.36,109.49ZM216.03,128.00A251.10,251.10 0 0 1 215.57,128.77L196.76,117.54A229.20,229.20 0 0 0 197.19,116.83ZM213.74,131.79A251.10,251.10 0 0 1 213.28,132.52L194.68,120.96A229.20,229.20 0 0 0 195.09,120.29ZM208.45,140.00A251.10,251.10 0 0 1 208.08,140.55L189.93,128.29A229.20,229.20 0 0 0 190.27,127.79ZM207.25,141.77A251.10,251.10 0 0 1 206.19,143.30L188.21,130.81A229.20,229.20 0 0 0 189.17,129.41ZM160.46,193.14A251.10,251.10 0 0 1 159.83,193.66L145.89,176.77A229.20,229.20 0 0 0 146.46,176.30ZM109.99,225.73A251.10,251.10 0 0 1 109.47,225.98L99.93,206.27A229.20,229.20 0 0 0 100.40,206.04ZM99.86,230.39A251.10,251.10 0 0 1 98.77,230.86L90.15,210.72A229.20,229.20 0 0 0 91.15,210.29ZM75.85,239.37A251.10,251.10 0 0 1 75.21,239.57L68.65,218.68A229.20,229.20 0 0 0 69.23,218.49ZM47.84,246.50A251.10,251.10 0 0 1 46.62,246.73L42.56,225.21A229.20,229.20 0 0 0 43.67,225.00ZM20.21,250.29A251.10,251.10 0 0 1 19.07,250.37L17.41,228.54A229.20,229.20 0 0 0 18.45,228.46ZM13.37,250.74A251.10,251.10 0 0 1 12.46,250.79L11.38,228.92A229.20,229.20 0 0 0 12.20,228.87ZM3.99,251.07A251.10,251.10 0 0 1 2.99,251.08L2.73,229.18A229.20,229.20 0 0 0 3.64,229.17ZM-11.44,250.84A251.10,251.10 0 0 1 -13.11,250.76L-11.96,228.89A229.20,229.20 0 0 0 -10.44,228.96ZM-22.42,250.10A251.10,251.10 0 0 1 -23.42,250.01L-21.37,228.20A229.20,229.20 0 0 0 -20.47,228.28ZM-24.70,249.88A251.10,251.10 0 0 1 -25.98,249.75L-23.71,227.97A229.20,229.20 0 0 0 -22.54,228.09ZM-31.66,249.10A251.10,251.10 0 0 1 -33.36,248.87L-30.45,227.17A229.20,229.20 0 0 0 -28.90,227.37ZM-38.50,248.13A251.10,251.10 0 0 1 -40.61,247.79L-37.07,226.18A229.20,229.20 0 0 0 -35.14,226.49ZM-42.12,247.54A251.10,251.10 0 0 1 -42.35,247.50L-38.66,225.92A229.20,229.20 0 0 0 -38.44,225.95ZM-43.24,247.35A251.10,251.10 0 0 1 -43.95,247.22L-40.11,225.66A229.20,229.20 0 0 0 -39.47,225.78ZM-51.34,245.79A251.10,251.10 0 0 1 -51.72,245.72L-47.20,224.29A229.20,229.20 0 0 0 -46.86,224.36ZM-64.46,242.69A251.10,251.10 0 0 1 -65.89,242.30L-60.14,221.17A229.20,229.20 0 0 0 -58.84,221.52ZM-71.25,240.78A251.10,251.10 0 0 1 -72.98,240.26L-66.62,219.31A229.20,229.20 0 0 0 -65.03,219.78ZM-96.78,231.70A251.10,251.10 0 0 1 -97.61,231.35L-89.10,211.17A229.20,229.20 0 0 0 -88.34,211.49ZM-140.02,208.44A251.10,251.10 0 0 1 -140.69,207.99L-128.42,189.85A229.20,229.20 0 0 0 -127.80,190.26ZM-141.67,207.32A251.10,251.10 0 0 1 -142.65,206.64L-130.21,188.62A229.20,229.20 0 0 0 -129.32,189.23ZM-171.88,183.05A251.10,251.10 0 0 1 -172.61,182.37L-157.55,166.46A229.20,229.20 0 0 0 -156.89,167.09ZM-187.12,167.44A251.10,251.10 0 0 1 -187.88,166.59L-171.49,152.06A229.20,229.20 0 0 0 -170.80,152.84ZM-188.95,165.38A251.10,251.10 0 0 1 -189.48,164.77L-172.96,150.40A229.20,229.20 0 0 0 -172.47,150.95ZM-205.64,144.09A251.10,251.10 0 0 1 -205.81,143.86L-187.86,131.31A229.20,229.20 0 0 0 -187.71,131.53ZM-219.40,122.12A251.10,251.10 0 0 1 -219.91,121.20L-200.73,110.63A229.20,229.20 0 0 0 -200.27,111.47ZM-220.44,120.24A251.10,251.10 0 0 1 -220.69,119.78L-201.44,109.33A229.20,229.20 0 0 0 -201.21,109.75ZM-224.29,112.90A251.10,251.10 0 0 1 -224.42,112.64L-204.84,102.82A229.20,229.20 0 0 0 -204.73,103.05ZM-234.49,89.81A251.10,251.10 0 0 1 -234.68,89.32L-214.21,81.53A229.20,229.20 0 0 0 -214.04,81.98ZM-245.38,53.29A251.10,251.10 0 0 1 -245.52,52.64L-224.11,48.05A229.20,229.20 0 0 0 -223.98,48.65ZM-248.57,35.57A251.10,251.10 0 0 1 -248.75,34.25L-227.06,31.27A229.20,229.20 0 0 0 -226.89,32.47ZM-251.07,3.66A251.10,251.10 0 0 1 -251.08,3.27L-229.18,2.99A229.20,229.20 0 0 0 -229.18,3.34ZM-251.06,-4.21A251.10,251.10 0 0 1 -251.02,-6.30L-229.13,-5.75A229.20,229.20 0 0 0 -229.17,-3.84ZM-250.97,-7.97A251.10,251.10 0 0 1 -250.97,-8.02L-229.08,-7.32A229.20,229.20 0 0 0 -229.08,-7.27ZM-250.97,-8.11A251.10,251.10 0 0 1 -250.88,-10.59L-229.00,-9.66A229.20,229.20 0 0 0 -229.08,-7.40ZM-250.82,-11.78A251.10,251.10 0 0 1 -250.79,-12.44L-228.92,-11.36A229.20,229.20 0 0 0 -228.95,-10.75ZM-241.24,-69.66A251.10,251.10 0 0 1 -241.03,-70.39L-220.01,-64.25A229.20,229.20 0 0 0 -220.20,-63.58ZM-233.45,-92.48A251.10,251.10 0 0 1 -233.01,-93.59L-212.68,-85.43A229.20,229.20 0 0 0 -213.09,-84.42ZM-232.29,-95.36A251.10,251.10 0 0 1 -231.83,-96.46L-211.62,-88.04A229.20,229.20 0 0 0 -212.03,-87.04ZM-226.51,-108.37A251.10,251.10 0 0 1 -226.41,-108.59L-206.66,-99.12A229.20,229.20 0 0 0 -206.75,-98.92ZM-221.36,-118.53A251.10,251.10 0 0 1 -220.82,-119.54L-201.56,-109.11A229.20,229.20 0 0 0 -202.06,-108.19ZM-206.41,-142.98A251.10,251.10 0 0 1 -205.21,-144.70L-187.31,-132.08A229.20,229.20 0 0 0 -188.41,-130.51ZM-199.32,-152.72A251.10,251.10 0 0 1 -197.27,-155.35L-180.07,-141.80A229.20,229.20 0 0 0 -181.94,-139.40ZM-197.25,-155.39A251.10,251.10 0 0 1 -196.57,-156.25L-179.42,-142.62A229.20,229.20 0 0 0 -180.04,-141.84ZM-190.74,-163.30A251.10,251.10 0 0 1 -189.87,-164.31L-173.31,-149.98A229.20,229.20 0 0 0 -174.11,-149.06ZM-189.75,-164.46A251.10,251.10 0 0 1 -188.28,-166.14L-171.85,-151.65A229.20,229.20 0 0 0 -173.20,-150.11ZM-187.71,-166.79A251.10,251.10 0 0 1 -186.82,-167.78L-170.52,-153.15A229.20,229.20 0 0 0 -171.34,-152.24ZM-185.73,-168.98A251.10,251.10 0 0 1 -185.03,-169.76L-168.89,-154.95A229.20,229.20 0 0 0 -169.53,-154.24ZM-184.15,-170.70A251.10,251.10 0 0 1 -183.23,-171.69L-167.25,-156.71A229.20,229.20 0 0 0 -168.09,-155.81ZM-173.07,-181.93A251.10,251.10 0 0 1 -172.72,-182.26L-157.66,-166.36A229.20,229.20 0 0 0 -157.97,-166.06ZM-169.30,-185.44A251.10,251.10 0 0 1 -168.49,-186.18L-153.80,-169.94A229.20,229.20 0 0 0 -154.54,-169.27ZM-165.75,-188.62A251.10,251.10 0 0 1 -164.21,-189.96L-149.89,-173.40A229.20,229.20 0 0 0 -151.30,-172.17ZM-123.39,-218.69A251.10,251.10 0 0 1 -122.85,-219.00L-112.13,-199.90A229.20,229.20 0 0 0 -112.62,-199.62ZM-85.37,-236.14A251.10,251.10 0 0 1 -83.13,-236.94L-75.88,-216.28A229.20,229.20 0 0 0 -77.92,-215.55ZM-48.40,-246.39A251.10,251.10 0 0 1 -46.91,-246.68L-42.82,-225.17A229.20,229.20 0 0 0 -44.18,-224.90Z" fill="#cccccc" stroke="#cccccc" stroke-width="0.4"/>
<path d="M60.80,-243.63A251.10,251.10 0 0 1 67.11,-241.97L61.26,-220.86A229.20,229.20 0 0 0 55.50,-222.38ZM228.85,-103.34A251.10,251.10 0 0 1 229.70,-101.43L209.67,-92.58A229.20,229.20 0 0 0 208.89,-94.33ZM-2.87,251.08A251.10,251.10 0 0 1 -10.11,250.90L-9.23,229.01A229.20,229.20 0 0 0 -2.62,229.19ZM-213.79,131.70A251.10,251.10 0 0 1 -214.91,129.87L-196.17,118.54A229.20,229.20 0 0 0 -195.15,120.21ZM-216.25,127.62A251.10,251.10 0 0 1 -217.76,125.02L-198.77,114.12A229.20,229.20 0 0 0 -197.39,116.49ZM-238.63,78.16A251.10,251.10 0 0 1 -239.17,76.48L-218.31,69.81A229.20,229.20 0 0 0 -217.82,71.34ZM-239.80,74.48A251.10,251.10 0 0 1 -240.90,70.83L-219.89,64.65A229.20,229.20 0 0 0 -218.89,67.98ZM-249.95,24.01A251.10,251.10 0 0 1 -250.12,22.16L-228.31,20.23A229.20,229.20 0 0 0 -228.15,21.91ZM-250.31,19.88A251.10,251.10 0 0 1 -250.56,16.51L-228.70,15.07A229.20,229.20 0 0 0 -228.48,18.15ZM-246.62,-47.20A251.10,251.10 0 0 1 -245.84,-51.12L-224.40,-46.66A229.20,229.20 0 0 0 -225.12,-43.08ZM-195.46,-157.62A251.10,251.10 0 0 1 -194.14,-159.25L-177.21,-145.36A229.20,229.20 0 0 0 -178.42,-143.88ZM-192.87,-160.79A251.10,251.10 0 0 1 -191.70,-162.18L-174.98,-148.03A229.20,229.20 0 0 0 -176.04,-146.77ZM-154.78,-197.72A251.10,251.10 0 0 1 -153.73,-198.54L-140.32,-181.22A229.20,229.20 0 0 0 -141.28,-180.48ZM-152.22,-199.70A251.10,251.10 0 0 1 -150.66,-200.88L-137.52,-183.36A229.20,229.20 0 0 0 -138.94,-182.28ZM-132.48,-213.31A251.10,251.10 0 0 1 -130.94,-214.25L-119.52,-195.57A229.20,229.20 0 0 0 -120.93,-194.70ZM-129.11,-215.37A251.10,251.10 0 0 1 -127.51,-216.31L-116.39,-197.45A229.20,229.20 0 0 0 -117.85,-196.58ZM-18.83,-250.39A251.10,251.10 0 0 1 -4.29,-251.06L-3.91,-229.17A229.20,229.20 0 0 0 -17.19,-228.55Z" fill="#cfcfcf" stroke="#cfcfcf" stroke-width="0.4"/>
<path d="M6.05,-251.03A251.10,251.10 0 0 1 7.72,-250.98L7.04,-229.09A229.20,229.20 0 0 0 5.52,-229.13ZM26.68,-249.68A251.10,251.10 0 0 1 28.05,-249.53L25.60,-227.77A229.20,229.20 0 0 0 24.35,-227.90ZM29.14,-249.40A251.10,251.10 0 0 1 32.73,-248.96L29.88,-227.24A229.20,229.20 0 0 0 26.60,-227.65ZM52.86,-245.47A251.10,251.10 0 0 1 54.86,-245.03L50.08,-223.66A229.20,229.20 0 0 0 48.25,-224.06ZM55.65,-244.85A251.10,251.10 0 0 1 56.95,-244.56L51.99,-223.23A229.20,229.20 0 0 0 50.80,-223.50ZM69.13,-241.40A251.10,251.10 0 0 1 70.64,-240.96L64.48,-219.94A229.20,229.20 0 0 0 63.10,-220.34ZM72.78,-240.32A251.10,251.10 0 0 1 73.47,-240.11L67.06,-219.17A229.20,229.20 0 0 0 66.44,-219.36ZM74.65,-239.75A251.10,251.10 0 0 1 75.29,-239.55L68.72,-218.66A229.20,229.20 0 0 0 68.14,-218.84ZM77.56,-238.82A251.10,251.10 0 0 1 78.33,-238.57L71.49,-217.76A229.20,229.20 0 0 0 70.79,-217.99ZM82.30,-237.23A251.10,251.10 0 0 1 84.23,-236.55L76.88,-215.92A229.20,229.20 0 0 0 75.12,-216.54ZM106.43,-227.43A251.10,251.10 0 0 1 108.15,-226.61L98.72,-206.85A229.20,229.20 0 0 0 97.15,-207.59ZM120.01,-220.56A251.10,251.10 0 0 1 121.14,-219.94L110.58,-200.76A229.20,229.20 0 0 0 109.55,-201.33ZM134.06,-212.32A251.10,251.10 0 0 1 135.35,-211.50L123.54,-193.05A229.20,229.20 0 0 0 122.37,-193.80ZM144.17,-205.58A251.10,251.10 0 0 1 145.92,-204.35L133.20,-186.52A229.20,229.20 0 0 0 131.60,-187.65ZM147.05,-203.54A251.10,251.10 0 0 1 147.82,-202.98L134.93,-185.28A229.20,229.20 0 0 0 134.22,-185.79ZM158.83,-194.48A251.10,251.10 0 0 1 160.04,-193.49L146.09,-176.61A229.20,229.20 0 0 0 144.98,-177.52ZM163.11,-190.91A251.10,251.10 0 0 1 164.70,-189.54L150.33,-173.01A229.20,229.20 0 0 0 148.88,-174.26ZM165.99,-188.41A251.10,251.10 0 0 1 168.65,-186.03L153.94,-169.81A229.20,229.20 0 0 0 151.51,-171.98ZM184.90,-169.89A251.10,251.10 0 0 1 185.74,-168.97L169.54,-154.24A229.20,229.20 0 0 0 168.78,-155.07ZM192.84,-160.82A251.10,251.10 0 0 1 193.33,-160.23L176.47,-146.26A229.20,229.20 0 0 0 176.02,-146.79ZM202.33,-148.71A251.10,251.10 0 0 1 202.81,-148.06L185.12,-135.14A229.20,229.20 0 0 0 184.68,-135.74ZM206.91,-142.26A251.10,251.10 0 0 1 207.66,-141.16L189.55,-128.85A229.20,229.20 0 0 0 188.87,-129.86ZM207.99,-140.69A251.10,251.10 0 0 1 209.23,-138.83L190.98,-126.72A229.20,229.20 0 0 0 189.85,-128.42ZM215.19,-129.41A251.10,251.10 0 0 1 216.26,-127.61L197.40,-116.48A229.20,229.20 0 0 0 196.42,-118.12ZM218.08,-124.47A251.10,251.10 0 0 1 218.10,-124.43L199.08,-113.58A229.20,229.20 0 0 0 199.06,-113.62ZM220.47,-120.19A251.10,251.10 0 0 1 221.42,-118.43L202.11,-108.10A229.20,229.20 0 0 0 201.24,-109.71ZM222.55,-116.28A251.10,251.10 0 0 1 223.88,-113.70L204.36,-103.78A229.20,229.20 0 0 0 203.14,-106.14ZM231.51,-97.23A251.10,251.10 0 0 1 232.13,-95.73L211.89,-87.38A229.20,229.20 0 0 0 211.32,-88.75ZM238.84,-77.50A251.10,251.10 0 0 1 239.26,-76.18L218.40,-69.54A229.20,229.20 0 0 0 218.01,-70.74ZM239.55,-75.27A251.10,251.10 0 0 1 239.84,-74.36L218.92,-67.88A229.20,229.20 0 0 0 218.66,-68.71ZM246.67,-46.96A251.10,251.10 0 0 1 247.01,-45.13L225.47,-41.19A229.20,229.20 0 0 0 225.16,-42.86ZM248.94,-32.90A251.10,251.10 0 0 1 249.14,-31.29L227.41,-28.56A229.20,229.20 0 0 0 227.22,-30.03ZM250.65,-15.02A251.10,251.10 0 0 1 250.74,-13.36L228.88,-12.19A229.20,229.20 0 0 0 228.79,-13.71ZM251.06,-4.45A251.10,251.10 0 0 1 251.10,-1.31L229.20,-1.19A229.20,229.20 0 0 0 229.16,-4.06ZM251.02,6.36A251.10,251.10 0 0 1 250.95,8.74L229.06,7.98A229.20,229.20 0 0 0 229.13,5.81ZM246.64,47.12A251.10,251.10 0 0 1 246.16,49.55L224.69,45.23A229.20,229.20 0 0 0 225.13,43.01ZM243.24,62.32A251.10,251.10 0 0 1 242.81,63.98L221.63,58.40A229.20,229.20 0 0 0 222.03,56.89ZM239.89,74.20A251.10,251.10 0 0 1 239.19,76.42L218.33,69.76A229.20,229.20 0 0 0 218.97,67.73ZM238.66,78.06A251.10,251.10 0 0 1 237.98,80.09L217.23,73.11A229.20,229.20 0 0 0 217.84,71.25ZM233.03,93.54A251.10,251.10 0 0 1 232.74,94.25L212.44,86.03A229.20,229.20 0 0 0 212.70,85.38ZM225.01,111.45A251.10,251.10 0 0 1 224.37,112.73L204.80,102.90A229.20,229.20 0 0 0 205.38,101.73ZM214.85,129.96A251.10,251.10 0 0 1 213.99,131.38L195.32,119.92A229.20,229.20 0 0 0 196.11,118.62ZM209.79,137.98A251.10,251.10 0 0 1 208.90,139.33L190.68,127.18A229.20,229.20 0 0 0 191.50,125.94ZM196.11,156.82A251.10,251.10 0 0 1 193.71,159.78L176.81,145.84A229.20,229.20 0 0 0 179.01,143.14ZM193.40,160.14A251.10,251.10 0 0 1 192.46,161.28L175.67,147.21A229.20,229.20 0 0 0 176.54,146.18ZM178.61,176.49A251.10,251.10 0 0 1 177.26,177.85L161.80,162.33A229.20,229.20 0 0 0 163.03,161.10ZM171.33,183.57A251.10,251.10 0 0 1 170.28,184.54L155.43,168.44A229.20,229.20 0 0 0 156.39,167.56ZM168.35,186.31A251.10,251.10 0 0 1 167.11,187.42L152.53,171.07A229.20,229.20 0 0 0 153.67,170.06ZM151.99,199.87A251.10,251.10 0 0 1 151.04,200.59L137.87,183.10A229.20,229.20 0 0 0 138.74,182.44ZM135.80,211.21A251.10,251.10 0 0 1 133.71,212.54L122.05,194.00A229.20,229.20 0 0 0 123.96,192.79ZM120.74,220.17A251.10,251.10 0 0 1 120.44,220.33L109.94,201.11A229.20,229.20 0 0 0 110.21,200.97ZM108.53,226.43A251.10,251.10 0 0 1 106.12,227.57L96.86,207.73A229.20,229.20 0 0 0 99.06,206.69ZM82.63,237.12A251.10,251.10 0 0 1 80.78,237.75L73.74,217.02A229.20,229.20 0 0 0 75.42,216.43ZM68.00,241.72A251.10,251.10 0 0 1 65.20,242.49L59.51,221.34A229.20,229.20 0 0 0 62.07,220.64ZM64.92,242.56A251.10,251.10 0 0 1 63.17,243.02L57.66,221.83A229.20,229.20 0 0 0 59.26,221.41ZM62.25,243.26A251.10,251.10 0 0 1 61.09,243.55L55.76,222.31A229.20,229.20 0 0 0 56.82,222.05ZM38.36,248.15A251.10,251.10 0 0 1 36.81,248.39L33.60,226.72A229.20,229.20 0 0 0 35.01,226.51ZM34.54,248.71A251.10,251.10 0 0 1 32.56,248.98L29.72,227.27A229.20,229.20 0 0 0 31.53,227.02ZM1.75,251.09A251.10,251.10 0 0 1 0.51,251.10L0.47,229.20A229.20,229.20 0 0 0 1.60,229.19ZM-13.96,250.71A251.10,251.10 0 0 1 -16.44,250.56L-15.00,228.71A229.20,229.20 0 0 0 -12.75,228.85ZM-17.34,250.50A251.10,251.10 0 0 1 -18.76,250.40L-17.13,228.56A229.20,229.20 0 0 0 -15.83,228.65ZM-20.09,250.29A251.10,251.10 0 0 1 -21.76,250.16L-19.86,228.34A229.20,229.20 0 0 0 -18.34,228.46ZM-61.37,243.49A251.10,251.10 0 0 1 -63.68,242.89L-58.12,221.71A229.20,229.20 0 0 0 -56.02,222.25ZM-84.29,236.53A251.10,251.10 0 0 1 -85.55,236.08L-78.09,215.49A229.20,229.20 0 0 0 -76.94,215.90ZM-92.85,233.30A251.10,251.10 0 0 1 -94.13,232.79L-85.92,212.49A229.20,229.20 0 0 0 -84.75,212.95ZM-95.15,232.38A251.10,251.10 0 0 1 -96.29,231.90L-87.89,211.68A229.20,229.20 0 0 0 -86.85,212.11ZM-104.93,228.12A251.10,251.10 0 0 1 -105.54,227.84L-96.33,207.97A229.20,229.20 0 0 0 -95.78,208.23ZM-107.44,226.95A251.10,251.10 0 0 1 -108.77,226.32L-99.28,206.58A229.20,229.20 0 0 0 -98.07,207.16ZM-115.90,222.75A251.10,251.10 0 0 1 -119.22,220.99L-108.83,201.72A229.20,229.20 0 0 0 -105.79,203.32ZM-120.06,220.54A251.10,251.10 0 0 1 -121.52,219.73L-110.92,200.57A229.20,229.20 0 0 0 -109.59,201.30ZM-143.44,206.10A251.10,251.10 0 0 1 -145.31,204.78L-132.64,186.92A229.20,229.20 0 0 0 -130.93,188.12ZM-159.43,194.00A251.10,251.10 0 0 1 -160.16,193.39L-146.19,176.52A229.20,229.20 0 0 0 -145.52,177.08ZM-162.61,191.34A251.10,251.10 0 0 1 -163.58,190.50L-149.32,173.89A229.20,229.20 0 0 0 -148.42,174.65ZM-164.99,189.29A251.10,251.10 0 0 1 -166.06,188.35L-151.58,171.92A229.20,229.20 0 0 0 -150.60,172.78ZM-180.20,174.87A251.10,251.10 0 0 1 -181.16,173.87L-165.36,158.71A229.20,229.20 0 0 0 -164.48,159.62ZM-192.11,161.69A251.10,251.10 0 0 1 -192.91,160.74L-176.09,146.72A229.20,229.20 0 0 0 -175.36,147.59ZM-203.46,147.16A251.10,251.10 0 0 1 -204.90,145.14L-187.03,132.49A229.20,229.20 0 0 0 -185.71,134.32ZM-206.35,143.08A251.10,251.10 0 0 1 -207.03,142.10L-188.97,129.70A229.20,229.20 0 0 0 -188.35,130.60ZM-207.38,141.59A251.10,251.10 0 0 1 -208.07,140.56L-189.92,128.30A229.20,229.20 0 0 0 -189.29,129.24ZM-209.45,138.50A251.10,251.10 0 0 1 -210.34,137.15L-191.99,125.19A229.20,229.20 0 0 0 -191.18,126.42ZM-221.44,118.40A251.10,251.10 0 0 1 -221.84,117.64L-202.49,107.38A229.20,229.20 0 0 0 -202.12,108.07ZM-224.74,112.00A251.10,251.10 0 0 1 -225.50,110.47L-205.83,100.83A229.20,229.20 0 0 0 -205.14,102.24ZM-230.38,99.87A251.10,251.10 0 0 1 -230.72,99.08L-210.60,90.44A229.20,229.20 0 0 0 -210.29,91.16ZM-243.32,62.01A251.10,251.10 0 0 1 -243.47,61.41L-222.24,56.05A229.20,229.20 0 0 0 -222.10,56.60ZM-246.41,48.30A251.10,251.10 0 0 1 -246.69,46.85L-225.18,42.77A229.20,229.20 0 0 0 -224.92,44.09ZM-246.89,45.77A251.10,251.10 0 0 1 -247.20,44.09L-225.64,40.24A229.20,229.20 0 0 0 -225.36,41.78ZM-248.86,33.50A251.10,251.10 0 0 1 -249.17,31.09L-227.44,28.38A229.20,229.20 0 0 0 -227.15,30.58ZM-249.27,30.24A251.10,251.10 0 0 1 -249.32,29.86L-227.57,27.25A229.20,229.20 0 0 0 -227.53,27.60ZM-250.82,11.80A251.10,251.10 0 0 1 -250.87,10.66L-228.99,9.73A229.20,229.20 0 0 0 -228.95,10.77ZM-250.92,9.61A251.10,251.10 0 0 1 -250.93,9.18L-229.05,8.38A229.20,229.20 0 0 0 -229.03,8.77ZM-250.75,-13.25A251.10,251.10 0 0 1 -250.66,-14.87L-228.80,-13.57A229.20,229.20 0 0 0 -228.88,-12.10ZM-250.56,-16.53A251.10,251.10 0 0 1 -250.43,-18.39L-228.58,-16.78A229.20,229.20 0 0 0 -228.70,-15.09ZM-250.23,-20.86A251.10,251.10 0 0 1 -250.06,-22.85L-228.25,-20.86A229.20,229.20 0 0 0 -228.41,-19.04ZM-248.95,-32.76A251.10,251.10 0 0 1 -248.79,-33.99L-227.09,-31.02A229.20,229.20 0 0 0 -227.24,-29.90ZM-248.65,-34.98A251.10,251.10 0 0 1 -248.50,-36.01L-226.83,-32.87A229.20,229.20 0 0 0 -226.97,-31.93ZM-248.37,-36.96A251.10,251.10 0 0 1 -248.05,-39.03L-226.41,-35.63A229.20,229.20 0 0 0 -226.70,-33.73ZM-247.82,-40.44A251.10,251.10 0 0 1 -247.52,-42.27L-225.93,-38.59A229.20,229.20 0 0 0 -226.21,-36.91ZM-245.28,-53.73A251.10,251.10 0 0 1 -244.86,-55.64L-223.50,-50.78A229.20,229.20 0 0 0 -223.89,-49.04ZM-243.28,-62.16A251.10,251.10 0 0 1 -243.03,-63.13L-221.84,-57.63A229.20,229.20 0 0 0 -222.07,-56.74ZM-241.95,-67.18A251.10,251.10 0 0 1 -241.62,-68.33L-220.55,-62.37A229.20,229.20 0 0 0 -220.84,-61.32ZM-239.08,-76.74A251.10,251.10 0 0 1 -238.61,-78.19L-217.80,-71.37A229.20,229.20 0 0 0 -218.23,-70.05ZM-234.59,-89.55A251.10,251.10 0 0 1 -233.50,-92.35L-213.14,-84.30A229.20,229.20 0 0 0 -214.13,-81.74ZM-228.96,-103.10A251.10,251.10 0 0 1 -228.64,-103.80L-208.70,-94.74A229.20,229.20 0 0 0 -208.99,-94.11ZM-222.61,-116.17A251.10,251.10 0 0 1 -221.68,-117.94L-202.34,-107.65A229.20,229.20 0 0 0 -203.20,-106.04ZM-209.75,-138.05A251.10,251.10 0 0 1 -209.01,-139.16L-190.78,-127.03A229.20,229.20 0 0 0 -191.45,-126.01ZM-160.54,-193.08A251.10,251.10 0 0 1 -159.84,-193.65L-145.90,-176.76A229.20,229.20 0 0 0 -146.54,-176.24ZM-141.01,-207.77A251.10,251.10 0 0 1 -140.22,-208.30L-127.99,-190.14A229.20,229.20 0 0 0 -128.71,-189.65ZM-139.46,-208.81A251.10,251.10 0 0 1 -138.31,-209.57L-126.25,-191.29A229.20,229.20 0 0 0 -127.30,-190.60ZM-121.85,-219.56A251.10,251.10 0 0 1 -120.30,-220.41L-109.81,-201.18A229.20,229.20 0 0 0 -111.22,-200.41ZM-119.21,-221.00A251.10,251.10 0 0 1 -116.94,-222.21L-106.74,-202.83A229.20,229.20 0 0 0 -108.82,-201.72ZM-115.51,-222.96A251.10,251.10 0 0 1 -114.15,-223.65L-104.20,-204.15A229.20,229.20 0 0 0 -105.43,-203.51ZM-112.37,-224.56A251.10,251.10 0 0 1 -111.94,-224.77L-102.18,-205.16A229.20,229.20 0 0 0 -102.57,-204.97ZM-105.41,-227.90A251.10,251.10 0 0 1 -104.68,-228.24L-95.55,-208.33A229.20,229.20 0 0 0 -96.22,-208.03ZM-103.16,-228.93A251.10,251.10 0 0 1 -99.85,-230.39L-91.14,-210.30A229.20,229.20 0 0 0 -94.16,-208.96ZM-98.88,-230.81A251.10,251.10 0 0 1 -97.74,-231.29L-89.22,-211.12A229.20,229.20 0 0 0 -90.26,-210.68ZM-78.71,-238.45A251.10,251.10 0 0 1 -77.26,-238.92L-70.52,-218.08A229.20,229.20 0 0 0 -71.84,-217.65ZM-75.44,-239.50A251.10,251.10 0 0 1 -74.49,-239.80L-67.99,-218.88A229.20,229.20 0 0 0 -68.86,-218.61ZM-61.33,-243.50A251.10,251.10 0 0 1 -60.82,-243.62L-55.51,-222.38A229.20,229.20 0 0 0 -55.98,-222.26ZM-31.30,-249.14A251.10,251.10 0 0 1 -31.06,-249.17L-28.35,-227.44A229.20,229.20 0 0 0 -28.57,-227.41ZM-25.34,-249.82A251.10,251.10 0 0 1 -23.11,-250.03L-21.09,-228.23A229.20,229.20 0 0 0 -23.13,-228.03ZM-22.02,-250.13A251.10,251.10 0 0 1 -20.07,-250.30L-18.32,-228.47A229.20,229.20 0 0 0 -20.10,-228.32Z" fill="#999999" stroke="#999999" stroke-width="0.7"/>
<path d="M22.27,-250.11A251.10,251.10 0 0 1 24.12,-249.94L22.01,-228.14A229.20,229.20 0 0 0 20.32,-228.30ZM41.92,-247.58A251.10,251.10 0 0 1 43.61,-247.28L39.80,-225.72A229.20,229.20 0 0 0 38.26,-225.98ZM44.87,-247.06A251.10,251.10 0 0 1 47.22,-246.62L43.10,-225.11A229.20,229.20 0 0 0 40.96,-225.51ZM80.00,-238.02A251.10,251.10 0 0 1 80.90,-237.71L73.85,-216.98A229.20,229.20 0 0 0 73.02,-217.26ZM108.97,-226.22A251.10,251.10 0 0 1 112.01,-224.73L102.24,-205.13A229.20,229.20 0 0 0 99.47,-206.49ZM123.26,-218.76A251.10,251.10 0 0 1 125.13,-217.70L114.21,-198.71A229.20,229.20 0 0 0 112.51,-199.68ZM126.16,-217.11A251.10,251.10 0 0 1 128.13,-215.95L116.96,-197.11A229.20,229.20 0 0 0 115.16,-198.17ZM131.43,-213.95A251.10,251.10 0 0 1 133.26,-212.82L121.63,-194.26A229.20,229.20 0 0 0 119.97,-195.29ZM177.28,-177.83A251.10,251.10 0 0 1 178.93,-176.17L163.32,-160.81A229.20,229.20 0 0 0 161.82,-162.32ZM180.23,-174.84A251.10,251.10 0 0 1 182.20,-172.78L166.31,-157.71A229.20,229.20 0 0 0 164.51,-159.59ZM186.51,-168.13A251.10,251.10 0 0 1 188.53,-165.85L172.09,-151.39A229.20,229.20 0 0 0 170.24,-153.46ZM189.32,-164.95A251.10,251.10 0 0 1 191.03,-162.97L174.37,-148.76A229.20,229.20 0 0 0 172.81,-150.57ZM198.28,-154.07A251.10,251.10 0 0 1 199.36,-152.67L181.97,-139.36A229.20,229.20 0 0 0 180.99,-140.63ZM213.77,-131.73A251.10,251.10 0 0 1 214.89,-129.90L196.15,-118.57A229.20,229.20 0 0 0 195.13,-120.24ZM216.96,-126.41A251.10,251.10 0 0 1 217.98,-124.64L198.97,-113.77A229.20,229.20 0 0 0 198.04,-115.39ZM224.83,-111.82A251.10,251.10 0 0 1 226.00,-109.43L206.29,-99.88A229.20,229.20 0 0 0 205.22,-102.07ZM226.76,-107.84A251.10,251.10 0 0 1 227.52,-106.24L207.67,-96.98A229.20,229.20 0 0 0 206.99,-98.43ZM230.56,-99.47A251.10,251.10 0 0 1 231.20,-97.98L211.03,-89.43A229.20,229.20 0 0 0 210.45,-90.79ZM232.53,-94.76A251.10,251.10 0 0 1 233.21,-93.09L212.87,-84.97A229.20,229.20 0 0 0 212.25,-86.50ZM233.51,-92.33A251.10,251.10 0 0 1 234.01,-91.05L213.60,-83.11A229.20,229.20 0 0 0 213.14,-84.28ZM241.45,-68.93A251.10,251.10 0 0 1 242.07,-66.73L220.96,-60.91A229.20,229.20 0 0 0 220.40,-62.92ZM242.48,-65.21A251.10,251.10 0 0 1 242.94,-63.51L221.75,-57.97A229.20,229.20 0 0 0 221.34,-59.52ZM243.55,-61.11A251.10,251.10 0 0 1 244.05,-59.07L222.77,-53.92A229.20,229.20 0 0 0 222.31,-55.78ZM247.23,-43.91A251.10,251.10 0 0 1 247.52,-42.27L225.93,-38.58A229.20,229.20 0 0 0 225.67,-40.08ZM250.38,-19.01A251.10,251.10 0 0 1 250.57,-16.26L228.72,-14.84A229.20,229.20 0 0 0 228.54,-17.35ZM250.87,-10.69A251.10,251.10 0 0 1 250.97,-7.98L229.08,-7.28A229.20,229.20 0 0 0 228.99,-9.76ZM250.99,-7.31A251.10,251.10 0 0 1 251.04,-5.55L229.14,-5.06A229.20,229.20 0 0 0 229.10,-6.67ZM251.09,1.74A251.10,251.10 0 0 1 251.05,4.93L229.16,4.50A229.20,229.20 0 0 0 229.19,1.59ZM249.40,29.21A251.10,251.10 0 0 1 249.14,31.29L227.41,28.56A229.20,229.20 0 0 0 227.64,26.66ZM241.19,69.86A251.10,251.10 0 0 1 240.65,71.69L219.66,65.44A229.20,229.20 0 0 0 220.15,63.77ZM240.61,71.83A251.10,251.10 0 0 1 240.13,73.42L219.18,67.02A229.20,229.20 0 0 0 219.62,65.56ZM226.72,107.94A251.10,251.10 0 0 1 225.62,110.21L205.94,100.60A229.20,229.20 0 0 0 206.94,98.53ZM212.83,133.25A251.10,251.10 0 0 1 210.26,137.26L191.93,125.29A229.20,229.20 0 0 0 194.27,121.62ZM184.08,170.78A251.10,251.10 0 0 1 182.87,172.07L166.92,157.06A229.20,229.20 0 0 0 168.02,155.89ZM179.98,175.10A251.10,251.10 0 0 1 178.91,176.19L163.31,160.82A229.20,229.20 0 0 0 164.28,159.83ZM175.98,179.12A251.10,251.10 0 0 1 174.68,180.38L159.45,164.65A229.20,229.20 0 0 0 160.63,163.50ZM173.72,181.31A251.10,251.10 0 0 1 172.55,182.42L157.50,166.51A229.20,229.20 0 0 0 158.57,165.50ZM150.74,200.82A251.10,251.10 0 0 1 148.37,202.58L135.43,184.91A229.20,229.20 0 0 0 137.59,183.31ZM147.52,203.20A251.10,251.10 0 0 1 145.16,204.89L132.50,187.02A229.20,229.20 0 0 0 134.65,185.48ZM144.34,205.47A251.10,251.10 0 0 1 142.93,206.45L130.47,188.44A229.20,229.20 0 0 0 131.75,187.55ZM142.34,206.86A251.10,251.10 0 0 1 140.97,207.80L128.67,189.67A229.20,229.20 0 0 0 129.93,188.81ZM127.20,216.50A251.10,251.10 0 0 1 126.00,217.20L115.01,198.25A229.20,229.20 0 0 0 116.10,197.62ZM125.30,217.60A251.10,251.10 0 0 1 123.15,218.83L112.41,199.74A229.20,229.20 0 0 0 114.37,198.62ZM119.23,220.99A251.10,251.10 0 0 1 116.20,222.60L106.06,203.18A229.20,229.20 0 0 0 108.83,201.71ZM115.01,223.21A251.10,251.10 0 0 1 113.44,224.01L103.55,204.47A229.20,229.20 0 0 0 104.98,203.74ZM112.30,224.59A251.10,251.10 0 0 1 110.89,225.29L101.22,205.64A229.20,229.20 0 0 0 102.50,205.00ZM104.00,228.55A251.10,251.10 0 0 1 101.91,229.49L93.02,209.47A229.20,229.20 0 0 0 94.93,208.62ZM92.05,233.62A251.10,251.10 0 0 1 90.28,234.31L82.40,213.87A229.20,229.20 0 0 0 84.02,213.24ZM80.15,237.96A251.10,251.10 0 0 1 76.67,239.11L69.98,218.26A229.20,229.20 0 0 0 73.16,217.21ZM69.51,241.29A251.10,251.10 0 0 1 69.33,241.34L63.28,220.29A229.20,229.20 0 0 0 63.45,220.24ZM56.65,244.63A251.10,251.10 0 0 1 54.56,245.10L49.80,223.72A229.20,229.20 0 0 0 51.71,223.29ZM44.47,247.13A251.10,251.10 0 0 1 42.45,247.49L38.75,225.90A229.20,229.20 0 0 0 40.59,225.58ZM30.24,249.27A251.10,251.10 0 0 1 28.59,249.47L26.09,227.71A229.20,229.20 0 0 0 27.61,227.53ZM16.98,250.53A251.10,251.10 0 0 1 14.51,250.68L13.24,228.82A229.20,229.20 0 0 0 15.50,228.68ZM-34.68,248.69A251.10,251.10 0 0 1 -36.94,248.37L-33.72,226.71A229.20,229.20 0 0 0 -31.65,227.00ZM-53.02,245.44A251.10,251.10 0 0 1 -55.62,244.86L-50.77,223.51A229.20,229.20 0 0 0 -48.40,224.03ZM-57.99,244.31A251.10,251.10 0 0 1 -58.59,244.17L-53.48,222.87A229.20,229.20 0 0 0 -52.93,223.00ZM-58.64,244.16A251.10,251.10 0 0 1 -60.45,243.72L-55.17,222.46A229.20,229.20 0 0 0 -53.53,222.86ZM-90.81,234.10A251.10,251.10 0 0 1 -92.32,233.51L-84.27,213.15A229.20,229.20 0 0 0 -82.89,213.69ZM-101.98,229.46A251.10,251.10 0 0 1 -103.81,228.64L-94.75,208.70A229.20,229.20 0 0 0 -93.09,209.45ZM-126.08,217.15A251.10,251.10 0 0 1 -127.65,216.24L-116.51,197.38A229.20,229.20 0 0 0 -115.09,198.21ZM-134.87,211.80A251.10,251.10 0 0 1 -136.00,211.08L-124.14,192.67A229.20,229.20 0 0 0 -123.11,193.33ZM-137.63,210.02A251.10,251.10 0 0 1 -139.30,208.92L-127.15,190.69A229.20,229.20 0 0 0 -125.63,191.70ZM-174.23,180.82A251.10,251.10 0 0 1 -175.15,179.92L-159.88,164.23A229.20,229.20 0 0 0 -159.03,165.05ZM-189.95,164.23A251.10,251.10 0 0 1 -191.50,162.42L-174.80,148.25A229.20,229.20 0 0 0 -173.38,149.90ZM-194.06,159.34A251.10,251.10 0 0 1 -195.33,157.79L-178.29,144.03A229.20,229.20 0 0 0 -177.14,145.45ZM-201.32,150.08A251.10,251.10 0 0 1 -202.84,148.01L-185.15,135.10A229.20,229.20 0 0 0 -183.76,136.99ZM-222.17,117.01A251.10,251.10 0 0 1 -223.18,115.06L-203.72,105.03A229.20,229.20 0 0 0 -202.80,106.80ZM-227.83,105.56A251.10,251.10 0 0 1 -228.51,104.09L-208.58,95.01A229.20,229.20 0 0 0 -207.96,96.36ZM-245.78,51.43A251.10,251.10 0 0 1 -246.16,49.56L-224.69,45.24A229.20,229.20 0 0 0 -224.34,46.94ZM-250.97,8.04A251.10,251.10 0 0 1 -251.05,4.94L-229.16,4.51A229.20,229.20 0 0 0 -229.08,7.34ZM-251.09,2.70A251.10,251.10 0 0 1 -251.10,0.46L-229.20,0.42A229.20,229.20 0 0 0 -229.19,2.47ZM-251.10,-1.16A251.10,251.10 0 0 1 -251.07,-4.11L-229.17,-3.75A229.20,229.20 0 0 0 -229.20,-1.06ZM-242.89,-63.69A251.10,251.10 0 0 1 -242.26,-66.03L-221.13,-60.27A229.20,229.20 0 0 0 -221.71,-58.13ZM-237.98,-80.09A251.10,251.10 0 0 1 -237.17,-82.48L-216.48,-75.29A229.20,229.20 0 0 0 -217.23,-73.11ZM-231.32,-97.69A251.10,251.10 0 0 1 -229.92,-100.92L-209.87,-92.12A229.20,229.20 0 0 0 -211.14,-89.17ZM-229.79,-101.23A251.10,251.10 0 0 1 -229.25,-102.45L-209.26,-93.51A229.20,229.20 0 0 0 -209.75,-92.40ZM-228.07,-105.05A251.10,251.10 0 0 1 -227.31,-106.69L-207.48,-97.39A229.20,229.20 0 0 0 -208.18,-95.89ZM-214.59,-130.40A251.10,251.10 0 0 1 -213.01,-132.96L-194.43,-121.36A229.20,229.20 0 0 0 -195.87,-119.03ZM-211.82,-134.85A251.10,251.10 0 0 1 -210.37,-137.09L-192.02,-125.14A229.20,229.20 0 0 0 -193.34,-123.09ZM-178.58,-176.53A251.10,251.10 0 0 1 -177.20,-177.91L-161.74,-162.39A229.20,229.20 0 0 0 -163.00,-161.13ZM-176.22,-178.88A251.10,251.10 0 0 1 -174.24,-180.81L-159.04,-165.04A229.20,229.20 0 0 0 -160.85,-163.28ZM-167.36,-187.20A251.10,251.10 0 0 1 -165.90,-188.49L-151.43,-172.05A229.20,229.20 0 0 0 -152.76,-170.87ZM-162.98,-191.02A251.10,251.10 0 0 1 -161.09,-192.62L-147.04,-175.82A229.20,229.20 0 0 0 -148.77,-174.36ZM-144.53,-205.33A251.10,251.10 0 0 1 -142.70,-206.61L-130.25,-188.59A229.20,229.20 0 0 0 -131.93,-187.42ZM-88.68,-234.92A251.10,251.10 0 0 1 -86.89,-235.59L-79.31,-215.04A229.20,229.20 0 0 0 -80.94,-214.43ZM-65.52,-242.40A251.10,251.10 0 0 1 -63.31,-242.99L-57.79,-221.80A229.20,229.20 0 0 0 -59.81,-221.26ZM-58.50,-244.19A251.10,251.10 0 0 1 -54.88,-245.03L-50.10,-223.66A229.20,229.20 0 0 0 -53.40,-222.89ZM-44.85,-247.06A251.10,251.10 0 0 1 -43.77,-247.26L-39.95,-225.69A229.20,229.20 0 0 0 -40.93,-225.52Z" fill="#666666" stroke="#666666" stroke-width="0.9"/>
<path d="M33.11,-248.91A251.10,251.10 0 0 1 40.27,-247.85L36.76,-226.23A229.20,229.20 0 0 0 30.22,-227.20ZM48.38,-246.39A251.10,251.10 0 0 1 50.72,-245.92L46.30,-224.48A229.20,229.20 0 0 0 44.16,-224.90ZM86.69,-235.66A251.10,251.10 0 0 1 88.93,-234.83L81.17,-214.35A229.20,229.20 0 0 0 79.13,-215.11ZM90.26,-234.32A251.10,251.10 0 0 1 92.44,-233.47L84.37,-213.10A229.20,229.20 0 0 0 82.39,-213.88ZM99.39,-230.59A251.10,251.10 0 0 1 103.58,-228.74L94.54,-208.79A229.20,229.20 0 0 0 90.72,-210.48ZM137.75,-209.94A251.10,251.10 0 0 1 139.77,-208.60L127.58,-190.41A229.20,229.20 0 0 0 125.73,-191.63ZM140.60,-208.04A251.10,251.10 0 0 1 143.08,-206.35L130.60,-188.35A229.20,229.20 0 0 0 128.34,-189.90ZM148.39,-202.56A251.10,251.10 0 0 1 151.57,-200.20L138.35,-182.74A229.20,229.20 0 0 0 135.45,-184.89ZM171.07,-183.81A251.10,251.10 0 0 1 172.95,-182.05L157.86,-166.17A229.20,229.20 0 0 0 156.15,-167.78ZM173.60,-181.42A251.10,251.10 0 0 1 175.18,-179.90L159.90,-164.21A229.20,229.20 0 0 0 158.46,-165.60ZM194.57,-158.73A251.10,251.10 0 0 1 196.45,-156.39L179.32,-142.75A229.20,229.20 0 0 0 177.60,-144.88ZM199.62,-152.33A251.10,251.10 0 0 1 201.02,-150.47L183.49,-137.35A229.20,229.20 0 0 0 182.21,-139.05ZM211.24,-135.76A251.10,251.10 0 0 1 213.15,-132.74L194.56,-121.16A229.20,229.20 0 0 0 192.81,-123.92ZM237.44,-81.70A251.10,251.10 0 0 1 238.37,-78.94L217.58,-72.06A229.20,229.20 0 0 0 216.73,-74.57ZM240.07,-73.59A251.10,251.10 0 0 1 241.02,-70.44L220.00,-64.30A229.20,229.20 0 0 0 219.14,-67.17ZM248.01,-39.26A251.10,251.10 0 0 1 248.59,-35.44L226.91,-32.35A229.20,229.20 0 0 0 226.38,-35.84ZM249.93,-24.23A251.10,251.10 0 0 1 250.23,-20.87L228.41,-19.05A229.20,229.20 0 0 0 228.13,-22.12ZM250.91,9.84A251.10,251.10 0 0 1 250.72,13.83L228.85,12.63A229.20,229.20 0 0 0 229.02,8.98ZM250.18,21.48A251.10,251.10 0 0 1 249.91,24.43L228.11,22.30A229.20,229.20 0 0 0 228.36,19.61ZM249.78,25.71A251.10,251.10 0 0 1 249.49,28.36L227.73,25.89A229.20,229.20 0 0 0 228.00,23.46ZM249.07,31.86A251.10,251.10 0 0 1 248.71,34.55L227.02,31.54A229.20,229.20 0 0 0 227.35,29.08ZM245.84,51.14A251.10,251.10 0 0 1 245.35,53.42L223.95,48.76A229.20,229.20 0 0 0 224.40,46.68ZM245.22,54.03A251.10,251.10 0 0 1 244.77,56.03L223.42,51.14A229.20,229.20 0 0 0 223.83,49.32ZM237.77,80.72A251.10,251.10 0 0 1 236.28,84.99L215.67,77.58A229.20,229.20 0 0 0 217.03,73.68ZM235.31,87.63A251.10,251.10 0 0 1 234.54,89.68L214.08,81.86A229.20,229.20 0 0 0 214.79,79.99ZM234.25,90.44A251.10,251.10 0 0 1 233.36,92.70L213.01,84.62A229.20,229.20 0 0 0 213.82,82.55ZM232.36,95.18A251.10,251.10 0 0 1 231.23,97.90L211.06,89.36A229.20,229.20 0 0 0 212.10,86.88ZM230.12,100.49A251.10,251.10 0 0 1 229.48,101.92L209.47,93.04A229.20,229.20 0 0 0 210.05,91.72ZM223.47,114.52A251.10,251.10 0 0 1 221.57,118.15L202.24,107.84A229.20,229.20 0 0 0 203.98,104.53ZM204.63,145.53A251.10,251.10 0 0 1 203.07,147.69L185.36,134.81A229.20,229.20 0 0 0 186.78,132.83ZM202.76,148.11A251.10,251.10 0 0 1 201.61,149.69L184.02,136.63A229.20,229.20 0 0 0 185.08,135.20ZM199.77,152.12A251.10,251.10 0 0 1 197.85,154.61L180.60,141.13A229.20,229.20 0 0 0 182.35,138.86ZM190.89,163.13A251.10,251.10 0 0 1 188.89,165.44L172.42,151.01A229.20,229.20 0 0 0 174.24,148.91ZM188.55,165.83A251.10,251.10 0 0 1 187.00,167.58L170.69,152.96A229.20,229.20 0 0 0 172.10,151.37ZM182.81,172.14A251.10,251.10 0 0 1 180.31,174.76L164.58,159.52A229.20,229.20 0 0 0 166.86,157.13ZM158.80,194.51A251.10,251.10 0 0 1 156.39,196.45L142.75,179.32A229.20,229.20 0 0 0 144.95,177.54ZM155.38,197.25A251.10,251.10 0 0 1 153.73,198.54L140.32,181.22A229.20,229.20 0 0 0 141.83,180.05ZM131.57,213.87A251.10,251.10 0 0 1 127.94,216.06L116.78,197.22A229.20,229.20 0 0 0 120.09,195.22ZM87.38,235.41A251.10,251.10 0 0 1 84.56,236.43L77.19,215.81A229.20,229.20 0 0 0 79.76,214.87ZM59.52,243.94A251.10,251.10 0 0 1 57.48,244.43L52.47,223.11A229.20,229.20 0 0 0 54.33,222.67ZM53.49,245.34A251.10,251.10 0 0 1 50.50,245.97L46.10,224.52A229.20,229.20 0 0 0 48.82,223.94ZM41.70,247.61A251.10,251.10 0 0 1 39.07,248.04L35.66,226.41A229.20,229.20 0 0 0 38.06,226.02ZM11.80,250.82A251.10,251.10 0 0 1 9.09,250.94L8.29,229.05A229.20,229.20 0 0 0 10.77,228.95ZM7.94,250.97A251.10,251.10 0 0 1 5.47,251.04L4.99,229.15A229.20,229.20 0 0 0 7.25,229.09ZM-27.54,249.59A251.10,251.10 0 0 1 -30.19,249.28L-27.56,227.54A229.20,229.20 0 0 0 -25.14,227.82ZM-74.35,239.84A251.10,251.10 0 0 1 -78.12,238.64L-71.30,217.83A229.20,229.20 0 0 0 -67.86,218.92ZM-79.61,238.15A251.10,251.10 0 0 1 -82.36,237.21L-75.18,216.52A229.20,229.20 0 0 0 -72.67,217.38ZM-87.47,235.37A251.10,251.10 0 0 1 -90.10,234.38L-82.24,213.94A229.20,229.20 0 0 0 -79.84,214.84ZM-98.01,231.18A251.10,251.10 0 0 1 -100.67,230.03L-91.89,209.97A229.20,229.20 0 0 0 -89.46,211.02ZM-123.81,218.45A251.10,251.10 0 0 1 -125.63,217.41L-114.67,198.45A229.20,229.20 0 0 0 -113.01,199.40ZM-129.85,214.92A251.10,251.10 0 0 1 -132.74,213.15L-121.16,194.56A229.20,229.20 0 0 0 -118.53,196.17ZM-146.05,204.26A251.10,251.10 0 0 1 -149.32,201.88L-136.30,184.27A229.20,229.20 0 0 0 -133.31,186.44ZM-150.35,201.11A251.10,251.10 0 0 1 -152.06,199.82L-138.80,182.39A229.20,229.20 0 0 0 -137.24,183.57ZM-153.73,198.54A251.10,251.10 0 0 1 -155.57,197.10L-142.00,179.91A229.20,229.20 0 0 0 -140.32,181.23ZM-155.87,196.87A251.10,251.10 0 0 1 -158.65,194.63L-144.81,177.66A229.20,229.20 0 0 0 -142.27,179.70ZM-175.83,179.26A251.10,251.10 0 0 1 -177.59,177.52L-162.10,162.03A229.20,229.20 0 0 0 -160.50,163.62ZM-178.03,177.08A251.10,251.10 0 0 1 -179.77,175.31L-164.09,160.02A229.20,229.20 0 0 0 -162.50,161.63ZM-183.62,171.28A251.10,251.10 0 0 1 -186.26,168.40L-170.01,153.71A229.20,229.20 0 0 0 -167.60,156.34ZM-196.70,156.08A251.10,251.10 0 0 1 -198.58,153.68L-181.26,140.28A229.20,229.20 0 0 0 -179.54,142.47ZM-199.25,152.81A251.10,251.10 0 0 1 -200.29,151.45L-182.82,138.24A229.20,229.20 0 0 0 -181.87,139.49ZM-226.41,108.58A251.10,251.10 0 0 1 -227.29,106.73L-207.46,97.42A229.20,229.20 0 0 0 -206.66,99.11ZM-229.08,102.83A251.10,251.10 0 0 1 -229.99,100.79L-209.93,92.00A229.20,229.20 0 0 0 -209.10,93.86ZM-231.06,98.29A251.10,251.10 0 0 1 -232.65,94.47L-212.36,86.23A229.20,229.20 0 0 0 -210.91,89.72ZM-233.06,93.45A251.10,251.10 0 0 1 -233.94,91.24L-213.54,83.28A229.20,229.20 0 0 0 -212.74,85.30ZM-235.08,88.25A251.10,251.10 0 0 1 -235.59,86.87L-215.05,79.29A229.20,229.20 0 0 0 -214.58,80.56ZM-235.96,85.89A251.10,251.10 0 0 1 -236.49,84.41L-215.86,77.05A229.20,229.20 0 0 0 -215.38,78.40ZM-242.01,66.94A251.10,251.10 0 0 1 -243.09,62.93L-221.88,57.44A229.20,229.20 0 0 0 -220.91,61.10ZM-243.61,60.86A251.10,251.10 0 0 1 -244.26,58.22L-222.95,53.14A229.20,229.20 0 0 0 -222.37,55.55ZM-244.66,56.50A251.10,251.10 0 0 1 -245.05,54.78L-223.68,50.00A229.20,229.20 0 0 0 -223.32,51.57ZM-247.65,41.51A251.10,251.10 0 0 1 -247.98,39.48L-226.35,36.04A229.20,229.20 0 0 0 -226.05,37.89ZM-248.07,38.87A251.10,251.10 0 0 1 -248.42,36.56L-226.76,33.37A229.20,229.20 0 0 0 -226.44,35.48ZM-244.78,-55.96A251.10,251.10 0 0 1 -243.76,-60.27L-222.50,-55.01A229.20,229.20 0 0 0 -223.44,-51.08ZM-217.55,-125.40A251.10,251.10 0 0 1 -215.69,-128.56L-196.88,-117.35A229.20,229.20 0 0 0 -198.57,-114.46ZM-208.32,-140.19A251.10,251.10 0 0 1 -206.93,-142.24L-188.88,-129.83A229.20,229.20 0 0 0 -190.15,-127.96ZM-148.56,-202.44A251.10,251.10 0 0 1 -145.62,-204.56L-132.92,-186.72A229.20,229.20 0 0 0 -135.60,-184.78ZM-96.43,-231.85A251.10,251.10 0 0 1 -94.49,-232.64L-86.25,-212.35A229.20,229.20 0 0 0 -88.02,-211.63ZM-93.52,-233.04A251.10,251.10 0 0 1 -90.81,-234.10L-82.89,-213.69A229.20,229.20 0 0 0 -85.36,-212.71ZM-73.53,-240.09A251.10,251.10 0 0 1 -69.60,-241.26L-63.53,-220.22A229.20,229.20 0 0 0 -67.12,-219.15ZM-68.87,-241.47A251.10,251.10 0 0 1 -66.30,-242.19L-60.52,-221.07A229.20,229.20 0 0 0 -62.86,-220.41ZM-52.84,-245.48A251.10,251.10 0 0 1 -49.20,-246.23L-44.91,-224.76A229.20,229.20 0 0 0 -48.23,-224.07ZM-42.92,-247.40A251.10,251.10 0 0 1 -40.57,-247.80L-37.03,-226.19A229.20,229.20 0 0 0 -39.18,-225.83Z" fill="#000000" stroke="#000000" stroke-width="1.2"/>
<path d="M-214.91,129.87A251.10,251.10 0 0 1 -216.25,127.62L-197.39,116.49A229.20,229.20 0 0 0 -196.17,118.54ZM-239.17,76.48A251.10,251.10 0 0 1 -239.80,74.48L-218.89,67.98A229.20,229.20 0 0 0 -218.31,69.81ZM-250.12,22.16A251.10,251.10 0 0 1 -250.31,19.88L-228.48,18.15A229.20,229.20 0 0 0 -228.31,20.23ZM-153.73,-198.54A251.10,251.10 0 0 1 -152.22,-199.70L-138.94,-182.28A229.20,229.20 0 0 0 -140.32,-181.22ZM-130.94,-214.25A251.10,251.10 0 0 1 -129.11,-215.37L-117.85,-196.58A229.20,229.20 0 0 0 -119.52,-195.57Z" fill="#3d6fb0" stroke="#3d6fb0" stroke-width="0.15"/>
<path d="M57.37,-244.46A251.10,251.10 0 0 1 58.99,-244.07L53.85,-222.78A229.20,229.20 0 0 0 52.37,-223.14ZM58.99,-244.07A251.10,251.10 0 0 1 60.80,-243.63L55.50,-222.38A229.20,229.20 0 0 0 53.85,-222.78ZM154.29,-198.11A251.10,251.10 0 0 1 155.34,-197.29L141.79,-180.08A229.20,229.20 0 0 0 140.83,-180.83ZM155.34,-197.29A251.10,251.10 0 0 1 156.64,-196.25L142.98,-179.13A229.20,229.20 0 0 0 141.79,-180.08ZM227.66,-105.94A251.10,251.10 0 0 1 228.28,-104.60L208.37,-95.48A229.20,229.20 0 0 0 207.80,-96.70ZM228.28,-104.60A251.10,251.10 0 0 1 228.85,-103.34L208.89,-94.33A229.20,229.20 0 0 0 208.37,-95.48ZM249.35,-29.59A251.10,251.10 0 0 1 249.47,-28.55L227.71,-26.06A229.20,229.20 0 0 0 227.60,-27.01ZM249.47,-28.55A251.10,251.10 0 0 1 249.59,-27.46L227.83,-25.06A229.20,229.20 0 0 0 227.71,-26.06ZM242.81,63.98A251.10,251.10 0 0 1 242.53,65.04L221.38,59.37A229.20,229.20 0 0 0 221.63,58.40ZM242.53,65.04A251.10,251.10 0 0 1 242.24,66.10L221.12,60.34A229.20,229.20 0 0 0 221.38,59.37ZM201.12,150.34A251.10,251.10 0 0 1 200.46,151.21L182.98,138.03A229.20,229.20 0 0 0 183.58,137.23ZM200.46,151.21A251.10,251.10 0 0 1 199.80,152.09L182.38,138.82A229.20,229.20 0 0 0 182.98,138.03ZM139.39,208.86A251.10,251.10 0 0 1 138.63,209.36L126.54,191.10A229.20,229.20 0 0 0 127.23,190.64ZM138.63,209.36A251.10,251.10 0 0 1 137.92,209.83L125.89,191.53A229.20,229.20 0 0 0 126.54,191.10ZM73.67,240.05A251.10,251.10 0 0 1 72.53,240.40L66.20,219.43A229.20,229.20 0 0 0 67.24,219.11ZM72.53,240.40A251.10,251.10 0 0 1 71.38,240.74L65.16,219.74A229.20,229.20 0 0 0 66.20,219.43ZM-1.25,251.10A251.10,251.10 0 0 1 -2.06,251.09L-1.88,229.19A229.20,229.20 0 0 0 -1.14,229.20ZM-2.06,251.09A251.10,251.10 0 0 1 -2.87,251.08L-2.62,229.19A229.20,229.20 0 0 0 -1.88,229.19ZM-67.54,241.85A251.10,251.10 0 0 1 -68.55,241.56L-62.57,220.49A229.20,229.20 0 0 0 -61.65,220.75ZM-68.55,241.56A251.10,251.10 0 0 1 -69.51,241.29L-63.45,220.24A229.20,229.20 0 0 0 -62.57,220.49ZM-136.00,211.08A251.10,251.10 0 0 1 -136.84,210.54L-124.90,192.18A229.20,229.20 0 0 0 -124.14,192.67ZM-136.84,210.54A251.10,251.10 0 0 1 -137.63,210.02L-125.63,191.70A229.20,229.20 0 0 0 -124.90,192.18ZM-182.02,172.98A251.10,251.10 0 0 1 -182.83,172.11L-166.89,157.10A229.20,229.20 0 0 0 -166.14,157.89ZM-182.83,172.11A251.10,251.10 0 0 1 -183.62,171.28L-167.60,156.34A229.20,229.20 0 0 0 -166.89,157.10ZM-217.76,125.02A251.10,251.10 0 0 1 -218.14,124.36L-199.12,113.51A229.20,229.20 0 0 0 -198.77,114.12ZM-218.14,124.36A251.10,251.10 0 0 1 -218.52,123.70L-199.46,112.91A229.20,229.20 0 0 0 -199.12,113.51ZM-240.90,70.83A251.10,251.10 0 0 1 -241.10,70.14L-220.08,64.03A229.20,229.20 0 0 0 -219.89,64.65ZM-241.10,70.14A251.10,251.10 0 0 1 -241.30,69.46L-220.26,63.40A229.20,229.20 0 0 0 -220.08,64.03ZM-250.56,16.51A251.10,251.10 0 0 1 -250.65,14.98L-228.79,13.68A229.20,229.20 0 0 0 -228.70,15.07ZM-250.65,14.98A251.10,251.10 0 0 1 -250.70,14.18L-228.83,12.94A229.20,229.20 0 0 0 -228.79,13.68ZM-246.98,-45.32A251.10,251.10 0 0 1 -246.80,-46.26L-225.28,-42.22A229.20,229.20 0 0 0 -225.44,-41.37ZM-246.80,-46.26A251.10,251.10 0 0 1 -246.62,-47.20L-225.12,-43.08A229.20,229.20 0 0 0 -225.28,-42.22ZM-236.18,-85.27A251.10,251.10 0 0 1 -235.89,-86.07L-215.31,-78.57A229.20,229.20 0 0 0 -215.58,-77.83ZM-235.89,-86.07A251.10,251.10 0 0 1 -235.59,-86.88L-215.04,-79.30A229.20,229.20 0 0 0 -215.31,-78.57ZM-219.79,-121.42A251.10,251.10 0 0 1 -219.38,-122.17L-200.24,-111.51A229.20,229.20 0 0 0 -200.62,-110.83ZM-219.38,-122.17A251.10,251.10 0 0 1 -218.96,-122.91L-199.86,-112.19A229.20,229.20 0 0 0 -200.24,-111.51ZM-194.14,-159.25A251.10,251.10 0 0 1 -193.51,-160.02L-176.63,-146.07A229.20,229.20 0 0 0 -177.21,-145.36ZM-193.51,-160.02A251.10,251.10 0 0 1 -192.87,-160.79L-176.04,-146.77A229.20,229.20 0 0 0 -176.63,-146.07ZM-171.58,-183.34A251.10,251.10 0 0 1 -170.91,-183.95L-156.01,-167.91A229.20,229.20 0 0 0 -156.61,-167.35ZM-170.91,-183.95A251.10,251.10 0 0 1 -170.25,-184.57L-155.40,-168.47A229.20,229.20 0 0 0 -156.01,-167.91ZM-150.66,-200.88A251.10,251.10 0 0 1 -149.78,-201.54L-136.72,-183.96A229.20,229.20 0 0 0 -137.52,-183.36ZM-149.78,-201.54A251.10,251.10 0 0 1 -149.36,-201.85L-136.33,-184.24A229.20,229.20 0 0 0 -136.72,-183.96ZM-127.51,-216.31A251.10,251.10 0 0 1 -126.48,-216.92L-115.45,-198.00A229.20,229.20 0 0 0 -116.39,-197.45ZM-126.48,-216.92A251.10,251.10 0 0 1 -125.17,-217.68L-114.25,-198.70A229.20,229.20 0 0 0 -115.45,-198.00ZM-81.64,-237.46A251.10,251.10 0 0 1 -80.51,-237.84L-73.49,-217.10A229.20,229.20 0 0 0 -74.52,-216.75ZM-80.51,-237.84A251.10,251.10 0 0 1 -79.43,-238.21L-72.50,-217.43A229.20,229.20 0 0 0 -73.49,-217.10ZM-26.99,-249.64A251.10,251.10 0 0 1 -26.57,-249.69L-24.25,-227.91A229.20,229.20 0 0 0 -24.64,-227.87ZM-26.57,-249.69A251.10,251.10 0 0 1 -26.14,-249.74L-23.86,-227.95A229.20,229.20 0 0 0 -24.25,-227.91Z" fill="#cc0000" stroke="#cc0000" stroke-width="1.0"/>
<g fill="none" stroke="#000" stroke-width="1.3" stroke-linejoin="miter">
<path d="M0.00,-251.10A251.10,251.10 0 0 1 114.37,-223.54L104.39,-204.05A229.20,229.20 0 0 0 0.00,-229.20Z"/>
<path d="M118.17,-221.56A251.10,251.10 0 0 1 204.45,-145.78L186.62,-133.06A229.20,229.20 0 0 0 107.86,-202.23Z"/>
<path d="M206.91,-142.26A251.10,251.10 0 0 1 244.68,-56.42L223.34,-51.50A229.20,229.20 0 0 0 188.87,-129.86Z"/>
<path d="M245.61,-52.23A251.10,251.10 0 0 1 248.16,38.30L226.52,34.96A229.20,229.20 0 0 0 224.19,-47.68Z"/>
<path d="M247.47,42.53A251.10,251.10 0 0 1 218.72,123.34L199.65,112.58A229.20,229.20 0 0 0 225.89,38.82Z"/>
<path d="M216.58,127.05A251.10,251.10 0 0 1 164.74,189.50L150.37,172.98A229.20,229.20 0 0 0 197.69,115.97Z"/>
<path d="M161.48,192.29A251.10,251.10 0 0 1 97.00,231.61L88.54,211.41A229.20,229.20 0 0 0 147.40,175.52Z"/>
<path d="M93.03,233.23A251.10,251.10 0 0 1 25.53,249.80L23.30,228.01A229.20,229.20 0 0 0 84.91,212.89Z"/>
<path d="M21.26,250.20A251.10,251.10 0 0 1 -45.73,246.90L-41.74,225.37A229.20,229.20 0 0 0 19.40,228.38Z"/>
<path d="M-49.94,246.08A251.10,251.10 0 0 1 -110.88,225.29L-101.21,205.64A229.20,229.20 0 0 0 -45.59,224.62Z"/>
<path d="M-114.71,223.37A251.10,251.10 0 0 1 -167.56,187.01L-152.95,170.70A229.20,229.20 0 0 0 -104.71,203.88Z"/>
<path d="M-170.73,184.12A251.10,251.10 0 0 1 -211.51,135.33L-193.07,123.52A229.20,229.20 0 0 0 -155.84,168.07Z"/>
<path d="M-213.79,131.70A251.10,251.10 0 0 1 -237.26,82.22L-216.57,75.05A229.20,229.20 0 0 0 -195.15,120.21Z"/>
<path d="M-238.63,78.16A251.10,251.10 0 0 1 -249.50,28.27L-227.74,25.81A229.20,229.20 0 0 0 -217.82,71.34Z"/>
<path d="M-249.95,24.01A251.10,251.10 0 0 1 -249.88,-24.76L-228.08,-22.60A229.20,229.20 0 0 0 -228.15,21.91Z"/>
<path d="M-249.42,-29.02A251.10,251.10 0 0 1 -240.81,-71.14L-219.81,-64.94A229.20,229.20 0 0 0 -227.66,-26.49Z"/>
<path d="M-239.56,-75.25A251.10,251.10 0 0 1 -225.18,-111.11L-205.54,-101.42A229.20,229.20 0 0 0 -218.67,-68.68Z"/>
<path d="M-223.25,-114.94A251.10,251.10 0 0 1 -203.84,-146.64L-186.06,-133.85A229.20,229.20 0 0 0 -203.78,-104.92Z"/>
<path d="M-201.30,-150.09A251.10,251.10 0 0 1 -183.23,-171.69L-167.25,-156.71A229.20,229.20 0 0 0 -183.75,-137.00Z"/>
<path d="M-180.28,-174.79A251.10,251.10 0 0 1 -158.14,-195.05L-144.34,-178.04A229.20,229.20 0 0 0 -164.55,-159.55Z"/>
<path d="M-154.78,-197.72A251.10,251.10 0 0 1 -136.11,-211.01L-124.24,-192.61A229.20,229.20 0 0 0 -141.28,-180.48Z"/>
<path d="M-132.48,-213.31A251.10,251.10 0 0 1 -111.13,-225.17L-101.44,-205.53A229.20,229.20 0 0 0 -120.93,-194.70Z"/>
<path d="M-107.27,-227.03A251.10,251.10 0 0 1 -36.73,-248.40L-33.52,-226.74A229.20,229.20 0 0 0 -97.91,-207.23Z"/>
<path d="M-32.48,-248.99A251.10,251.10 0 0 1 -4.29,-251.06L-3.91,-229.17A229.20,229.20 0 0 0 -29.65,-227.27Z"/>
</g>
</g>
<g id="chr-names" font-family="Liberation Sans, sans-serif" font-size="18.5" text-anchor="middle" fill="#000">
<text transform="translate(552.0,18.7) rotate(-76.5)" dy="0.36em">1</text>
<text transform="translate(670.8,84.2) rotate(-48.7)" dy="0.36em">2</text>
<text transform="translate(742.2,184.7) rotate(-23.7)" dy="0.36em">3</text>
<text transform="translate(765.4,294.5) rotate(-1.6)" dy="0.36em">4</text>
<text transform="translate(750.2,400.8) rotate(19.6)" dy="0.36em">5</text>
<text transform="translate(702.9,490.0) rotate(39.7)" dy="0.36em">6</text>
<text transform="translate(635.0,552.5) rotate(58.6)" dy="0.36em">7</text>
<text transform="translate(556.5,588.8) rotate(76.2)" dy="0.36em">8</text>
<text transform="translate(451.3,597.6) rotate(-87.2)" dy="0.36em">9</text>
<text transform="translate(374.3,584.6) rotate(-71.2)" dy="0.36em">10</text>
<text transform="translate(306.5,548.0) rotate(-55.5)" dy="0.36em">11</text>
<text transform="translate(250.3,493.6) rotate(-39.9)" dy="0.36em">12</text>
<text transform="translate(212.0,430.3) rotate(-25.4)" dy="0.36em">13</text>
<text transform="translate(191.8,365.7) rotate(-12.3)" dy="0.36em">14</text>
<text transform="translate(185.0,302.0) rotate(0.1)" dy="0.36em">15</text>
<text transform="translate(191.0,243.0) rotate(11.5)" dy="0.36em">16</text>
<text transform="translate(207.0,192.0) rotate(21.9)" dy="0.36em">17</text>
<text transform="translate(228.6,147.9) rotate(31.5)" dy="0.36em">18</text>
<text transform="translate(253.0,112.5) rotate(39.9)" dy="0.36em">19</text>
<text transform="translate(277.6,83.0) rotate(47.5)" dy="0.36em">20</text>
<text transform="translate(304.4,60.7) rotate(54.6)" dy="0.36em">21</text>
<text transform="translate(331.5,42.9) rotate(60.9)" dy="0.36em">22</text>
<text transform="translate(390.0,23.2) rotate(73.1)" dy="0.36em">X</text>
<text transform="translate(449.9,11.6) rotate(85.8)" dy="0.36em">Y</text>
</g>
<g id="gene-labels" font-family="Liberation Sans, sans-serif" font-size="18.5" fill="#000">
<line x1="411.50" y1="82.00" x2="418.00" y2="104.50" stroke="#000" stroke-width="1.6"/>
<text transform="translate(433.2,143.8) rotate(73.3)" text-anchor="middle" dy="0.36em">ERCC6L</text>
<line x1="633.40" y1="469.60" x2="618.40" y2="453.60" stroke="#000" stroke-width="1.6"/>
<text transform="translate(601.5,435.5) rotate(46)" text-anchor="middle" dy="0.36em">MYB</text>
</g>
<g id="panel-b">
<text transform="translate(66.00,725.20) scale(0.9220,1.0000)" font-family="Liberation Serif, serif" font-size="62.3" fill="#111" style="word-spacing:9px">GeneMANIA report</text>
<text transform="translate(66.50,762.40) scale(1.0470,1.0000)" font-family="Liberation Serif, serif" font-size="12.6" fill="#222">Created on : 2 July 2024 15:15:28</text>
<text transform="translate(66.50,780.90) scale(1.0470,1.0000)" font-family="Liberation Serif, serif" font-size="12.6" fill="#222">Last database update : 13 August 2021 00:00:00</text>
<text transform="translate(66.50,799.40) scale(1.0470,1.0000)" font-family="Liberation Serif, serif" font-size="12.6" fill="#222">Application version : 3.6.0</text>
<g id="edges" fill="none" stroke-linecap="round">
<line x1="469.6" y1="863.4" x2="467.6" y2="1087.0" stroke="#e3a0a3" stroke-width="9.5" stroke-opacity="0.5"/>
<line x1="477.6" y1="863.4" x2="471.6" y2="1177.0" stroke="#a3d5df" stroke-width="4.5" stroke-opacity="0.55"/>
<line x1="296.4" y1="913.5" x2="441.6" y2="1162.0" stroke="#a3d5df" stroke-width="9" stroke-opacity="0.5"/>
<line x1="241.1" y1="974.2" x2="435.6" y2="1079.0" stroke="#e3a0a3" stroke-width="7.5" stroke-opacity="0.5"/>
<line x1="377.4" y1="875.5" x2="441.6" y2="1077.0" stroke="#a3d5df" stroke-width="5.5" stroke-opacity="0.5"/>
<line x1="367.4" y1="875.5" x2="433.6" y2="1167.0" stroke="#a3d5df" stroke-width="2.2" stroke-opacity="0.55"/>
<line x1="199.4" y1="1060.6" x2="428.6" y2="1179.0" stroke="#a3d5df" stroke-width="6.5" stroke-opacity="0.5"/>
<line x1="189.1" y1="1137.7" x2="428.6" y2="1187.0" stroke="#a3d5df" stroke-width="7" stroke-opacity="0.5"/>
<line x1="525.8" y1="882.5" x2="471.6" y2="1169.0" stroke="#9fd69b" stroke-width="5.5" stroke-opacity="0.55"/>
<line x1="533.8" y1="885.5" x2="475.6" y2="1172.0" stroke="#f2c283" stroke-width="4" stroke-opacity="0.55"/>
<line x1="603.8" y1="920.5" x2="475.6" y2="1102.0" stroke="#a3d5df" stroke-width="10" stroke-opacity="0.45"/>
<line x1="664.1" y1="982.2" x2="478.6" y2="1092.0" stroke="#e3a0a3" stroke-width="10" stroke-opacity="0.45"/>
<line x1="555.8" y1="879.5" x2="716.1" y2="1131.7" stroke="#9fd69b" stroke-width="6" stroke-opacity="0.55"/>
<line x1="549.8" y1="875.5" x2="723.1" y2="1126.7" stroke="#a3d5df" stroke-width="7" stroke-opacity="0.5"/>
<line x1="702.8" y1="1054.6" x2="202.4" y2="1228.8" stroke="#e3a0a3" stroke-width="6" stroke-opacity="0.45"/>
<line x1="702.8" y1="1048.6" x2="202.4" y2="1222.8" stroke="#e3a0a3" stroke-width="2.2" stroke-opacity="0.5"/>
<line x1="702.8" y1="1060.6" x2="202.4" y2="1234.8" stroke="#e3a0a3" stroke-width="2.2" stroke-opacity="0.5"/>
<line x1="700.8" y1="1058.6" x2="473.6" y2="1173.0" stroke="#e3a0a3" stroke-width="2.5" stroke-opacity="0.5"/>
<line x1="243.1" y1="1306.2" x2="702.8" y2="1238.8" stroke="#a3d5df" stroke-width="10" stroke-opacity="0.5"/>
<line x1="241.1" y1="1301.2" x2="435.6" y2="1201.0" stroke="#a3d5df" stroke-width="5" stroke-opacity="0.5"/>
<line x1="204.4" y1="1230.8" x2="431.6" y2="1195.0" stroke="#a3d5df" stroke-width="5" stroke-opacity="0.5"/>
<line x1="450.6" y1="1207.0" x2="458.6" y2="1422.0" stroke="#e3a0a3" stroke-width="8" stroke-opacity="0.5"/>
<line x1="711.1" y1="1139.7" x2="473.6" y2="1177.0" stroke="#9fd69b" stroke-width="6" stroke-opacity="0.55"/>
<line x1="714.1" y1="1149.7" x2="475.6" y2="1187.0" stroke="#f2c283" stroke-width="7" stroke-opacity="0.55"/>
<line x1="716.1" y1="1153.7" x2="473.6" y2="1197.0" stroke="#a3d5df" stroke-width="3.5" stroke-opacity="0.5"/>
<line x1="700.8" y1="1225.8" x2="478.6" y2="1199.0" stroke="#a3d5df" stroke-width="6" stroke-opacity="0.5"/>
<line x1="702.8" y1="1235.8" x2="475.6" y2="1182.0" stroke="#f2c283" stroke-width="5" stroke-opacity="0.55"/>
<line x1="601.8" y1="1364.9" x2="468.6" y2="1207.0" stroke="#a3d5df" stroke-width="6" stroke-opacity="0.5"/>
<line x1="608.8" y1="1362.9" x2="461.6" y2="1202.0" stroke="#e3a0a3" stroke-width="5" stroke-opacity="0.5"/>
<line x1="529.8" y1="1403.9" x2="453.6" y2="1212.0" stroke="#a3d5df" stroke-width="5.5" stroke-opacity="0.5"/>
<line x1="241.1" y1="1305.2" x2="433.6" y2="1192.0" stroke="#f2c283" stroke-width="3" stroke-opacity="0.55"/>
<line x1="241.1" y1="1309.2" x2="714.1" y2="1147.7" stroke="#f2c283" stroke-width="2.5" stroke-opacity="0.55"/>
<line x1="666.1" y1="1303.2" x2="463.6" y2="1102.0" stroke="#e3a0a3" stroke-width="3.5" stroke-opacity="0.5"/>
<line x1="670.1" y1="1301.2" x2="469.6" y2="1105.0" stroke="#e3a0a3" stroke-width="2.5" stroke-opacity="0.5"/>
<line x1="664.1" y1="1309.2" x2="463.6" y2="1192.0" stroke="#a3d5df" stroke-width="3" stroke-opacity="0.5"/>
<path d="M454.6,847.5Q498.2,845.5 538.8,861.6" stroke="#f2c283" stroke-width="1.5" stroke-opacity="0.55"/>
<path d="M454.4,848.9Q497.7,848.5 538.6,863.0" stroke="#e3a0a3" stroke-width="1.5" stroke-opacity="0.55"/>
<path d="M454.1,850.2Q497.2,851.5 538.3,864.3" stroke="#a3d5df" stroke-width="1.5" stroke-opacity="0.55"/>
<path d="M453.9,851.5Q496.7,854.5 538.1,865.6" stroke="#f2c283" stroke-width="1.5" stroke-opacity="0.55"/>
<path d="M453.7,852.9Q496.2,857.6 537.9,867.0" stroke="#e3a0a3" stroke-width="1.5" stroke-opacity="0.55"/>
<path d="M453.5,854.2Q495.1,863.9 537.7,868.3" stroke="#e3a0a3" stroke-width="1.5" stroke-opacity="0.55"/>
<path d="M453.7,853.2Q587.2,947.8 712.9,1052.4" stroke="#e3a0a3" stroke-width="1.5" stroke-opacity="0.55"/>
<path d="M452.9,854.3Q578.0,959.8 712.1,1053.5" stroke="#f2c283" stroke-width="1.5" stroke-opacity="0.55"/>
<path d="M452.1,855.3Q576.1,962.2 711.3,1054.6" stroke="#e3a0a3" stroke-width="1.5" stroke-opacity="0.55"/>
<path d="M451.3,856.4Q574.3,964.6 710.4,1055.6" stroke="#e3a0a3" stroke-width="1.5" stroke-opacity="0.55"/>
<path d="M450.5,857.5Q572.4,967.0 709.6,1056.7" stroke="#f2c283" stroke-width="1.5" stroke-opacity="0.55"/>
<path d="M455.9,851.2Q599.5,988.5 728.4,1139.5" stroke="#f2c283" stroke-width="1.5" stroke-opacity="0.55"/>
<path d="M454.9,852.1Q597.2,990.6 727.4,1140.4" stroke="#9fd69b" stroke-width="1.5" stroke-opacity="0.55"/>
<path d="M454.0,853.1Q595.0,992.7 726.5,1141.4" stroke="#f2c283" stroke-width="1.5" stroke-opacity="0.55"/>
<path d="M453.0,854.0Q584.1,1003.0 725.5,1142.3" stroke="#e3a0a3" stroke-width="1.5" stroke-opacity="0.55"/>
<path d="M452.0,854.9Q581.9,1005.1 724.5,1143.2" stroke="#e3a0a3" stroke-width="1.5" stroke-opacity="0.55"/>
<path d="M454.5,852.9Q571.4,1078.6 675.0,1310.7" stroke="#e3a0a3" stroke-width="1.5" stroke-opacity="0.55"/>
<path d="M453.3,853.5Q557.8,1085.2 673.8,1311.3" stroke="#a3d5df" stroke-width="1.5" stroke-opacity="0.55"/>
<path d="M452.1,854.1Q555.0,1086.5 672.6,1311.9" stroke="#e3a0a3" stroke-width="1.5" stroke-opacity="0.55"/>
<path d="M456.5,853.8Q424.0,1136.5 372.3,1416.3" stroke="#e3a0a3" stroke-width="1.5" stroke-opacity="0.55"/>
<path d="M455.1,853.6Q420.9,1136.1 370.9,1416.1" stroke="#e3a0a3" stroke-width="1.5" stroke-opacity="0.55"/>
<path d="M453.8,853.4Q417.9,1135.6 369.6,1415.9" stroke="#f2c283" stroke-width="1.5" stroke-opacity="0.55"/>
<path d="M452.5,853.2Q403.0,1133.4 368.3,1415.7" stroke="#9fd69b" stroke-width="1.5" stroke-opacity="0.55"/>
<path d="M451.1,853.0Q400.0,1132.9 366.9,1415.5" stroke="#a3d5df" stroke-width="1.5" stroke-opacity="0.55"/>
<path d="M449.8,852.8Q397.0,1132.5 365.6,1415.3" stroke="#e3a0a3" stroke-width="1.5" stroke-opacity="0.55"/>
<path d="M458.7,855.0Q390.8,1119.5 298.5,1376.5" stroke="#f2c283" stroke-width="1.5" stroke-opacity="0.55"/>
<path d="M457.4,854.6Q387.8,1118.6 297.2,1376.1" stroke="#9fd69b" stroke-width="1.5" stroke-opacity="0.55"/>
<path d="M456.1,854.2Q384.9,1117.7 295.9,1375.7" stroke="#e3a0a3" stroke-width="1.5" stroke-opacity="0.55"/>
<path d="M454.8,853.8Q382.0,1116.8 294.6,1375.3" stroke="#a3d5df" stroke-width="1.5" stroke-opacity="0.55"/>
<path d="M453.5,853.4Q367.6,1112.3 293.3,1374.9" stroke="#e3a0a3" stroke-width="1.5" stroke-opacity="0.55"/>
<path d="M452.2,853.0Q364.7,1111.5 292.1,1374.5" stroke="#e3a0a3" stroke-width="1.5" stroke-opacity="0.55"/>
<path d="M450.9,852.6Q361.7,1110.6 290.8,1374.1" stroke="#e3a0a3" stroke-width="1.5" stroke-opacity="0.55"/>
<path d="M454.0,853.6Q329.8,1046.0 194.8,1231.0" stroke="#a3d5df" stroke-width="1.5" stroke-opacity="0.55"/>
<path d="M452.8,852.9Q317.4,1037.5 193.7,1230.3" stroke="#e3a0a3" stroke-width="1.5" stroke-opacity="0.55"/>
<path d="M454.5,853.8Q350.8,1085.9 234.0,1311.6" stroke="#e3a0a3" stroke-width="1.5" stroke-opacity="0.55"/>
<path d="M453.3,853.2Q337.2,1079.3 232.8,1311.0" stroke="#f2c283" stroke-width="1.5" stroke-opacity="0.55"/>
<path d="M452.1,852.7Q334.5,1078.0 231.6,1310.4" stroke="#a3d5df" stroke-width="1.5" stroke-opacity="0.55"/>
<path d="M456.7,853.4Q466.5,1020.2 456.7,1187.0" stroke="#e3a0a3" stroke-width="1.5" stroke-opacity="0.55"/>
<path d="M455.3,853.4Q463.5,1020.2 455.3,1187.0" stroke="#e3a0a3" stroke-width="1.5" stroke-opacity="0.55"/>
<path d="M455.0,853.0Q542.5,1111.4 615.1,1374.5" stroke="#f2c283" stroke-width="1.5" stroke-opacity="0.55"/>
<path d="M453.7,853.4Q539.6,1112.3 613.9,1374.9" stroke="#e3a0a3" stroke-width="1.5" stroke-opacity="0.55"/>
<path d="M453.4,853.6Q577.7,1045.9 712.5,1231.0" stroke="#e3a0a3" stroke-width="1.5" stroke-opacity="0.55"/>
<path d="M454.8,851.1Q569.0,903.2 675.3,969.9" stroke="#e3a0a3" stroke-width="1.5" stroke-opacity="0.55"/>
<path d="M455.2,855.5Q331.3,962.5 196.0,1054.7" stroke="#cdb4d6" stroke-width="1.5" stroke-opacity="0.55"/>
<path d="M454.4,1187.7Q379.1,1285.7 294.2,1375.6" stroke="#e3a0a3" stroke-width="1.5" stroke-opacity="0.55"/>
<path d="M453.4,1186.8Q369.2,1277.3 293.2,1374.7" stroke="#9fd69b" stroke-width="1.5" stroke-opacity="0.55"/>
<path d="M452.3,1185.9Q366.9,1275.3 292.2,1373.9" stroke="#e3a0a3" stroke-width="1.5" stroke-opacity="0.55"/>
<path d="M451.3,1185.0Q364.6,1273.3 291.1,1373.0" stroke="#f2c283" stroke-width="1.5" stroke-opacity="0.55"/>
<path d="M450.3,1184.2Q362.2,1271.4 290.1,1372.1" stroke="#e3a0a3" stroke-width="1.5" stroke-opacity="0.55"/>
<path d="M453.4,1187.0Q489.5,1025.6 537.7,867.5" stroke="#e3a0a3" stroke-width="1.5" stroke-opacity="0.55"/>
<path d="M454.7,1187.3Q504.1,1029.5 539.0,867.8" stroke="#e3a0a3" stroke-width="1.5" stroke-opacity="0.55"/>
<path d="M453.6,1186.7Q588.8,1158.3 726.1,1141.4" stroke="#e3a0a3" stroke-width="1.5" stroke-opacity="0.55"/>
<path d="M452.6,1185.1Q578.2,1110.2 711.8,1050.7" stroke="#e3a0a3" stroke-width="1.5" stroke-opacity="0.55"/>
<path d="M453.2,1186.3Q579.6,1112.9 712.4,1051.9" stroke="#e3a0a3" stroke-width="1.5" stroke-opacity="0.55"/>
<path d="M454.5,1188.7Q348.0,1257.3 234.1,1312.8" stroke="#e3a0a3" stroke-width="1.5" stroke-opacity="0.55"/>
<path d="M454.4,1187.3Q418.0,1303.8 370.2,1416.2" stroke="#e3a0a3" stroke-width="1.5" stroke-opacity="0.55"/>
<path d="M453.2,1186.8Q406.0,1299.4 369.0,1415.7" stroke="#a3d5df" stroke-width="1.5" stroke-opacity="0.55"/>
<path d="M451.9,1186.4Q403.1,1298.4 367.7,1415.3" stroke="#e3a0a3" stroke-width="1.5" stroke-opacity="0.55"/>
<path d="M453.3,1185.4Q322.5,1200.2 194.2,1229.2" stroke="#e3a0a3" stroke-width="1.5" stroke-opacity="0.55"/>
<path d="M453.1,1184.1Q322.0,1197.2 193.9,1227.9" stroke="#e3a0a3" stroke-width="1.5" stroke-opacity="0.55"/>
<path d="M456.1,1097.7Q423.0,1259.5 371.9,1416.6" stroke="#e3a0a3" stroke-width="1.5" stroke-opacity="0.55"/>
<path d="M454.8,1097.3Q420.1,1258.7 370.6,1416.2" stroke="#e3a0a3" stroke-width="1.5" stroke-opacity="0.55"/>
<path d="M453.5,1097.0Q405.5,1254.9 369.3,1415.9" stroke="#cdb4d6" stroke-width="1.5" stroke-opacity="0.55"/>
<path d="M452.3,1094.4Q318.3,1152.9 193.1,1228.2" stroke="#e3a0a3" stroke-width="1.5" stroke-opacity="0.55"/>
<path d="M454.0,1096.6Q569.0,1198.8 674.5,1310.7" stroke="#cdb4d6" stroke-width="1.5" stroke-opacity="0.55"/>
<path d="M453.1,1097.5Q558.5,1209.6 673.5,1311.7" stroke="#e3a0a3" stroke-width="1.5" stroke-opacity="0.55"/>
<path d="M367.1,1409.2Q514.6,1342.8 671.8,1304.5" stroke="#f2c283" stroke-width="1.5" stroke-opacity="0.55"/>
<path d="M367.5,1410.5Q515.6,1345.7 672.2,1305.8" stroke="#cdb4d6" stroke-width="1.5" stroke-opacity="0.55"/>
<path d="M368.0,1411.8Q516.6,1348.6 672.6,1307.1" stroke="#d8d4a0" stroke-width="1.5" stroke-opacity="0.55"/>
<path d="M368.4,1413.1Q517.6,1351.5 673.1,1308.3" stroke="#e3a0a3" stroke-width="1.5" stroke-opacity="0.55"/>
<path d="M368.9,1414.3Q518.6,1354.4 673.5,1309.6" stroke="#cdb4d6" stroke-width="1.5" stroke-opacity="0.55"/>
<path d="M369.3,1415.6Q519.6,1357.2 674.0,1310.9" stroke="#d8d4a0" stroke-width="1.5" stroke-opacity="0.55"/>
<path d="M369.7,1416.9Q524.5,1371.5 674.4,1312.2" stroke="#e3a0a3" stroke-width="1.5" stroke-opacity="0.55"/>
<path d="M370.2,1418.2Q525.5,1374.4 674.8,1313.4" stroke="#a5b4dc" stroke-width="1.5" stroke-opacity="0.55"/>
<path d="M370.6,1419.5Q526.5,1377.3 675.3,1314.7" stroke="#e3a0a3" stroke-width="1.5" stroke-opacity="0.55"/>
<path d="M371.1,1420.7Q527.4,1380.2 675.7,1316.0" stroke="#cdb4d6" stroke-width="1.5" stroke-opacity="0.55"/>
<path d="M368.7,1415.3Q535.2,1228.7 712.1,1052.0" stroke="#e3a0a3" stroke-width="1.5" stroke-opacity="0.55"/>
<path d="M369.4,1415.9Q330.6,1397.0 293.4,1375.0" stroke="#e3a0a3" stroke-width="1.5" stroke-opacity="0.55"/>
<path d="M370.5,1414.5Q305.8,1357.6 234.2,1309.7" stroke="#e3a0a3" stroke-width="1.5" stroke-opacity="0.55"/>
<path d="M370.4,1415.0Q287.8,1317.8 195.4,1229.9" stroke="#e3a0a3" stroke-width="1.5" stroke-opacity="0.55"/>
<path d="M371.3,1414.1Q290.0,1315.7 196.4,1229.0" stroke="#a3d5df" stroke-width="1.5" stroke-opacity="0.55"/>
<path d="M372.3,1413.1Q292.2,1313.6 197.4,1228.0" stroke="#e3a0a3" stroke-width="1.5" stroke-opacity="0.55"/>
<path d="M542.0,869.5Q430.5,1128.4 297.6,1377.0" stroke="#e3a0a3" stroke-width="1.5" stroke-opacity="0.55"/>
<path d="M540.8,868.9Q427.8,1127.1 296.4,1376.4" stroke="#e3a0a3" stroke-width="1.5" stroke-opacity="0.55"/>
<path d="M539.6,868.4Q425.0,1125.8 295.2,1375.8" stroke="#f2c283" stroke-width="1.5" stroke-opacity="0.55"/>
<path d="M538.4,867.8Q422.3,1124.4 294.0,1375.2" stroke="#a3d5df" stroke-width="1.5" stroke-opacity="0.55"/>
<path d="M538.1,867.2Q629.8,955.8 713.1,1052.3" stroke="#e3a0a3" stroke-width="1.5" stroke-opacity="0.55"/>
<path d="M537.2,868.1Q620.1,964.9 712.1,1053.2" stroke="#e3a0a3" stroke-width="1.5" stroke-opacity="0.55"/>
<path d="M536.2,869.0Q617.9,967.0 711.1,1054.1" stroke="#9fd69b" stroke-width="1.5" stroke-opacity="0.55"/>
<path d="M539.4,866.4Q640.6,998.7 727.7,1140.6" stroke="#e3a0a3" stroke-width="1.5" stroke-opacity="0.55"/>
<path d="M538.3,867.2Q638.1,1000.4 726.6,1141.4" stroke="#d8d4a0" stroke-width="1.4" stroke-opacity="0.55"/>
<path d="M290.4,1371.1Q492.7,1200.2 709.8,1048.7" stroke="#e3a0a3" stroke-width="1.5" stroke-opacity="0.55"/>
<path d="M291.3,1372.1Q494.5,1202.7 710.6,1049.8" stroke="#e3a0a3" stroke-width="1.5" stroke-opacity="0.55"/>
<path d="M292.1,1373.2Q496.4,1205.1 711.4,1050.9" stroke="#f2c283" stroke-width="1.5" stroke-opacity="0.55"/>
<path d="M292.9,1374.3Q498.3,1207.5 712.3,1051.9" stroke="#a3d5df" stroke-width="1.5" stroke-opacity="0.55"/>
<path d="M292.7,1373.6Q505.3,1250.0 725.4,1140.3" stroke="#e3a0a3" stroke-width="1.5" stroke-opacity="0.55"/>
<path d="M293.3,1374.8Q506.7,1252.7 726.0,1141.5" stroke="#f2c283" stroke-width="1.5" stroke-opacity="0.55"/>
<path d="M292.9,1375.4Q260.8,1345.4 232.6,1311.7" stroke="#f2c283" stroke-width="1.5" stroke-opacity="0.55"/>
<path d="M293.9,1374.5Q265.6,1340.9 233.6,1310.7" stroke="#e3a0a3" stroke-width="1.5" stroke-opacity="0.55"/>
<path d="M194.5,1230.2Q435.5,1263.7 674.2,1310.6" stroke="#a3d5df" stroke-width="1.5" stroke-opacity="0.55"/>
<path d="M194.3,1231.5Q433.0,1278.6 673.9,1311.9" stroke="#e3a0a3" stroke-width="1.5" stroke-opacity="0.55"/>
<path d="M194.1,1232.9Q432.5,1281.6 673.7,1313.2" stroke="#9fd69b" stroke-width="1.5" stroke-opacity="0.55"/>
<path d="M193.9,1234.2Q432.0,1284.6 673.5,1314.6" stroke="#e3a0a3" stroke-width="1.5" stroke-opacity="0.55"/>
<path d="M194.2,1229.5Q458.8,1177.4 725.9,1140.4" stroke="#e3a0a3" stroke-width="1.5" stroke-opacity="0.55"/>
<path d="M194.4,1230.8Q461.3,1192.2 726.1,1141.7" stroke="#f2c283" stroke-width="1.5" stroke-opacity="0.55"/>
<path d="M710.6,1052.3Q683.2,1180.4 671.9,1310.8" stroke="#e3a0a3" stroke-width="1.5" stroke-opacity="0.55"/>
<path d="M676.0,1313.0Q649.6,1348.4 615.7,1376.8" stroke="#e3a0a3" stroke-width="1.5" stroke-opacity="0.55"/>
<path d="M675.0,1312.1Q647.4,1346.3 614.7,1375.9" stroke="#e3a0a3" stroke-width="1.5" stroke-opacity="0.55"/>
<path d="M613.4,1374.9Q637.1,1172.6 673.7,972.2" stroke="#f2c283" stroke-width="1.5" stroke-opacity="0.55"/>
<path d="M614.7,1375.1Q652.0,1174.8 675.0,972.4" stroke="#9fd69b" stroke-width="1.5" stroke-opacity="0.55"/>
<path d="M725.3,1140.7Q542.4,1271.8 368.6,1414.9" stroke="#d8d4a0" stroke-width="1.4" stroke-opacity="0.55"/>
<path d="M724.5,1139.6Q540.5,1269.4 367.8,1413.8" stroke="#a3d5df" stroke-width="1.5" stroke-opacity="0.55"/>
<path d="M181.1,1143.9Q453.6,1152.7 726.1,1143.9" stroke="#9fd69b" stroke-width="1.5" stroke-opacity="0.55"/>
<path d="M182.4,1141.5Q192.5,1185.5 195.8,1230.6" stroke="#9fd69b" stroke-width="1.2" stroke-opacity="0.55"/>
<path d="M194.9,1230.6Q216.4,1269.7 233.6,1310.9" stroke="#9fd69b" stroke-width="1.2" stroke-opacity="0.55"/>
<path d="M674.9,972.5Q613.5,1196.4 538.6,1416.1" stroke="#9fd69b" stroke-width="1.5" stroke-opacity="0.55"/>
<path d="M672.7,1309.3Q600.7,1356.7 536.4,1414.1" stroke="#9fd69b" stroke-width="1.5" stroke-opacity="0.55"/>
<path d="M671.4,1310.3Q690.7,1223.5 723.5,1140.9" stroke="#d8d4a0" stroke-width="1.4" stroke-opacity="0.55"/>
<path d="M672.7,1310.7Q693.6,1224.4 724.7,1141.3" stroke="#9fd69b" stroke-width="1.5" stroke-opacity="0.55"/>
<path d="M728.8,1142.1Q727.4,1187.4 715.5,1231.2" stroke="#cdb4d6" stroke-width="1.5" stroke-opacity="0.55"/>
<path d="M727.5,1141.9Q724.4,1187.0 714.2,1231.0" stroke="#9fd69b" stroke-width="1.5" stroke-opacity="0.55"/>
<path d="M293.6,1375.9Q485.1,1351.1 674.2,1312.1" stroke="#9fd69b" stroke-width="1.5" stroke-opacity="0.55"/>
<path d="M195.8,1228.2Q372.1,1312.2 539.2,1413.3" stroke="#9fd69b" stroke-width="1.5" stroke-opacity="0.55"/>
<path d="M232.8,1313.1Q421.7,1353.4 613.4,1376.9" stroke="#9fd69b" stroke-width="1.5" stroke-opacity="0.55"/>
<path d="M369.4,1414.0Q453.6,1408.2 537.8,1414.0" stroke="#9fd69b" stroke-width="1.2" stroke-opacity="0.55"/>
<path d="M236.2,970.2Q397.2,1186.0 540.8,1413.8" stroke="#9fd69b" stroke-width="1.5" stroke-opacity="0.55"/>
<path d="M235.0,970.9Q394.7,1187.7 539.7,1414.6" stroke="#d8d4a0" stroke-width="1.4" stroke-opacity="0.55"/>
<path d="M713.2,1052.5Q722.3,1096.7 726.6,1141.6" stroke="#9fd69b" stroke-width="1.5" stroke-opacity="0.55"/>
<path d="M233.7,971.7Q429.1,1168.2 614.3,1374.4" stroke="#cdb4d6" stroke-width="1.5" stroke-opacity="0.55"/>
<path d="M232.9,972.6Q449.4,1147.2 673.8,1311.5" stroke="#cdb4d6" stroke-width="1.5" stroke-opacity="0.55"/>
<path d="M192.0,1053.8Q271.0,1239.5 366.9,1417.1" stroke="#cdb4d6" stroke-width="1.5" stroke-opacity="0.55"/>
<path d="M193.5,1053.3Q316.9,1246.2 452.7,1430.7" stroke="#cdb4d6" stroke-width="1.5" stroke-opacity="0.55"/>
<path d="M369.3,867.5Q325.3,1120.3 293.3,1374.9" stroke="#cdb4d6" stroke-width="1.5" stroke-opacity="0.55"/>
<path d="M368.7,867.5Q361.8,1141.7 368.7,1415.9" stroke="#cdb4d6" stroke-width="1.5" stroke-opacity="0.55"/>
<path d="M537.3,868.4Q573.8,891.6 613.3,909.4" stroke="#cdb4d6" stroke-width="1.5" stroke-opacity="0.55"/>
<path d="M616.0,906.9Q671.2,975.1 715.0,1051.1" stroke="#cdb4d6" stroke-width="1.5" stroke-opacity="0.55"/>
<path d="M612.0,910.1Q638.7,945.3 672.3,973.9" stroke="#cdb4d6" stroke-width="1.5" stroke-opacity="0.55"/>
<path d="M538.6,1417.4Q578.4,1400.3 614.6,1376.4" stroke="#cdb4d6" stroke-width="1.5" stroke-opacity="0.55"/>
<path d="M454.7,1432.0Q568.6,1379.5 675.1,1313.1" stroke="#cdb4d6" stroke-width="1.5" stroke-opacity="0.55"/>
<path d="M536.7,868.9Q601.4,925.8 673.0,973.7" stroke="#cdb4d6" stroke-width="1.5" stroke-opacity="0.55"/>
<path d="M369.5,1415.3Q412.0,1419.8 453.7,1429.4" stroke="#cdb4d6" stroke-width="1.5" stroke-opacity="0.55"/>
<path d="M538.4,867.7Q460.6,1143.9 370.0,1416.1" stroke="#d8d4a0" stroke-width="1.4" stroke-opacity="0.55"/>
<path d="M540.1,866.8Q616.8,1086.0 676.3,1310.5" stroke="#d8d4a0" stroke-width="1.4" stroke-opacity="0.55"/>
<path d="M674.8,1311.5Q696.7,1272.5 713.5,1231.1" stroke="#d8d4a0" stroke-width="1.2" stroke-opacity="0.55"/>
</g>
<defs><pattern id="hatch" width="7" height="7" patternUnits="userSpaceOnUse" patternTransform="rotate(-46)"><rect width="7" height="7" fill="#3f3f3f"/><rect y="0" width="7" height="1.25" fill="#6d6d6d"/></pattern></defs>
<g id="nodes">
<ellipse cx="453.6" cy="853.4" rx="35.5" ry="37.6" fill="#3f3f3f"/>
<path d="M453.6,853.4L453.60,815.84A35.5,37.6 0 0 1 481.36,829.98Z" fill="#7b3e40"/>
<path d="M453.6,853.4L488.21,861.75A35.5,37.6 0 0 1 469.00,887.23Z" fill="#9a7a2b"/>
<path d="M453.6,853.4L438.20,887.23A35.5,37.6 0 0 1 418.99,861.75Z" fill="#4f7d4f"/>
<path d="M453.6,853.4L418.99,861.75A35.5,37.6 0 0 1 425.84,829.98Z" fill="#8a5c8c"/>
<path d="M453.6,853.4L425.84,829.98A35.5,37.6 0 0 1 453.60,815.84Z" fill="#6a8584"/>
<ellipse cx="537.8" cy="867.5" rx="28.2" ry="29.8" fill="#3f3f3f"/>
<path d="M537.8,867.5L537.81,837.67A28.2,29.8 0 0 1 559.85,848.90Z" fill="#7b3e40"/>
<path d="M537.8,867.5L559.85,848.90A28.2,29.8 0 0 1 565.30,874.14Z" fill="#4a6b90"/>
<path d="M537.8,867.5L550.04,894.39A28.2,29.8 0 0 1 525.57,894.39Z" fill="#5a4b8c"/>
<ellipse cx="613.8" cy="909.0" rx="24.2" ry="25.7" fill="#3f3f3f"/>
<ellipse cx="674.1" cy="972.7" rx="24.2" ry="25.8" fill="#3f3f3f"/>
<ellipse cx="712.8" cy="1053.1" rx="23.6" ry="25.1" fill="#3f3f3f"/>
<path d="M712.8,1053.1L722.99,1075.69A23.6,25.1 0 0 1 702.54,1075.69Z" fill="#5a4b8c"/>
<ellipse cx="726.1" cy="1142.2" rx="23.6" ry="25.1" fill="#3f3f3f"/>
<path d="M726.1,1142.2L744.53,1126.57A23.6,25.1 0 0 1 749.08,1147.78Z" fill="#4a6b90"/>
<ellipse cx="712.8" cy="1231.3" rx="21.9" ry="23.3" fill="#3f3f3f"/>
<ellipse cx="674.1" cy="1311.7" rx="21.0" ry="22.3" fill="#3f3f3f"/>
<path d="M674.1,1311.7L674.06,1289.38A21.0,22.3 0 0 1 690.44,1297.77Z" fill="#7b3e40"/>
<path d="M674.1,1311.7L690.44,1297.77A21.0,22.3 0 0 1 694.48,1316.62Z" fill="#4a6b90"/>
<path d="M674.1,1311.7L694.48,1316.62A21.0,22.3 0 0 1 683.15,1331.74Z" fill="#9a7a2b"/>
<path d="M674.1,1311.7L664.97,1331.74A21.0,22.3 0 0 1 653.63,1316.62Z" fill="#4f7d4f"/>
<path d="M674.1,1311.7L653.63,1316.62A21.0,22.3 0 0 1 657.68,1297.77Z" fill="#8a5c8c"/>
<path d="M674.1,1311.7L657.68,1297.77A21.0,22.3 0 0 1 674.06,1289.38Z" fill="#6a8584"/>
<ellipse cx="613.8" cy="1375.4" rx="20.6" ry="21.9" fill="#3f3f3f"/>
<ellipse cx="537.8" cy="1416.4" rx="19.7" ry="20.9" fill="#3f3f3f"/>
<ellipse cx="453.6" cy="1430.0" rx="18.1" ry="20.2" fill="#3f3f3f"/>
<ellipse cx="369.4" cy="1415.9" rx="18.0" ry="20.0" fill="#3f3f3f"/>
<path d="M369.4,1415.9L369.39,1395.87A18.0,20.0 0 0 1 383.43,1403.41Z" fill="#7b3e40"/>
<path d="M369.4,1415.9L383.43,1403.41A18.0,20.0 0 0 1 386.90,1420.35Z" fill="#4a6b90"/>
<path d="M369.4,1415.9L386.90,1420.35A18.0,20.0 0 0 1 377.18,1433.93Z" fill="#9a7a2b"/>
<path d="M369.4,1415.9L361.60,1433.93A18.0,20.0 0 0 1 351.89,1420.35Z" fill="#4f7d4f"/>
<path d="M369.4,1415.9L351.89,1420.35A18.0,20.0 0 0 1 355.36,1403.41Z" fill="#8a5c8c"/>
<path d="M369.4,1415.9L355.36,1403.41A18.0,20.0 0 0 1 369.39,1395.87Z" fill="#6a8584"/>
<ellipse cx="293.4" cy="1374.9" rx="18.0" ry="20.0" fill="#3f3f3f"/>
<path d="M293.4,1374.9L301.22,1392.98A18.0,20.0 0 0 1 285.64,1392.98Z" fill="#5a4b8c"/>
<ellipse cx="233.1" cy="1311.2" rx="17.4" ry="19.4" fill="#3f3f3f"/>
<ellipse cx="194.4" cy="1230.8" rx="17.4" ry="19.4" fill="#3f3f3f"/>
<path d="M194.4,1230.8L211.40,1235.11A17.4,19.4 0 0 1 201.99,1248.28Z" fill="#9a7a2b"/>
<path d="M194.4,1230.8L180.83,1218.69A17.4,19.4 0 0 1 194.44,1211.38Z" fill="#6a8584"/>
<ellipse cx="181.1" cy="1141.7" rx="17.0" ry="19.0" fill="#3f3f3f"/>
<ellipse cx="194.4" cy="1052.6" rx="17.0" ry="19.0" fill="#3f3f3f"/>
<ellipse cx="233.1" cy="972.2" rx="17.0" ry="19.0" fill="#3f3f3f"/>
<ellipse cx="293.4" cy="908.5" rx="16.9" ry="18.8" fill="#3f3f3f"/>
<ellipse cx="369.4" cy="867.5" rx="16.3" ry="18.2" fill="#3f3f3f"/>
<ellipse cx="453.6" cy="1097.0" rx="36.4" ry="38.5" fill="url(#hatch)"/>
<ellipse cx="453.6" cy="1187.0" rx="36.4" ry="38.5" fill="url(#hatch)"/>
</g>
<g id="node-labels" font-family="Liberation Sans, sans-serif" font-size="14.7" text-anchor="middle" fill="#ffffff" stroke="#3a3a3a" stroke-width="2.4" stroke-linejoin="round" paint-order="stroke fill">
<text transform="translate(453.6,853.7) scale(0.97,1.058)" dy="0.355em">TP53</text>
<text transform="translate(537.8,867.8) scale(0.97,1.058)" dy="0.355em">HIPK2</text>
<text transform="translate(613.8,908.8) scale(0.97,1.058)" dy="0.355em">SIM2</text>
<text transform="translate(674.1,972.5) scale(0.97,1.058)" dy="0.355em">ACACA</text>
<text transform="translate(712.8,1052.9) scale(0.97,1.058)" dy="0.355em">SIN3A</text>
<text transform="translate(726.1,1142.0) scale(0.97,1.058)" dy="0.355em">NLK</text>
<text transform="translate(712.8,1231.1) scale(0.97,1.058)" dy="0.355em">RAG2</text>
<text transform="translate(674.1,1311.5) scale(0.97,1.058)" dy="0.355em">PLK1</text>
<text transform="translate(613.8,1375.2) scale(0.97,1.058)" dy="0.355em">PPID</text>
<text transform="translate(537.8,1416.2) scale(0.97,1.058)" dy="0.355em">DHRS2</text>
<text transform="translate(453.6,1430.3) scale(0.97,1.058)" dy="0.355em">BEND3</text>
<text transform="translate(369.4,1416.2) scale(0.97,1.058)" dy="0.355em">CDK1</text>
<text transform="translate(293.4,1375.2) scale(0.97,1.058)" dy="0.355em">CREBBP</text>
<text transform="translate(233.1,1311.5) scale(0.97,1.058)" dy="0.355em">PAX5</text>
<text transform="translate(194.4,1231.1) scale(0.97,1.058)" dy="0.355em">MAD1L1</text>
<text transform="translate(181.1,1142.0) scale(0.97,1.058)" dy="0.355em">TRHR</text>
<text transform="translate(194.4,1052.9) scale(0.97,1.058)" dy="0.355em">MAT2A</text>
<text transform="translate(233.1,972.5) scale(0.97,1.058)" dy="0.355em">KDSR</text>
<text transform="translate(293.4,908.8) scale(0.97,1.058)" dy="0.355em">CSDE1</text>
<text transform="translate(369.4,867.8) scale(0.97,1.058)" dy="0.355em">ANPEP</text>
<text transform="translate(453.6,1097.3) scale(0.97,1.058)" dy="0.355em">ERCC6L</text>
<text transform="translate(453.6,1187.3) scale(0.97,1.058)" dy="0.355em">MYB</text>
</g>
<text transform="translate(66.50,1477.30) scale(1.2000,1.0000)" font-family="Liberation Serif, serif" font-size="17.6" font-weight="bold" fill="#111">Networks</text>
<text transform="translate(455.30,1477.30) scale(1.2000,1.0000)" font-family="Liberation Serif, serif" font-size="17.6" font-weight="bold" fill="#111">Functions</text>
<rect x="66.40" y="1496.20" width="9.30" height="9.60" fill="#d89a9b" stroke="none" stroke-width="1"/>
<text transform="translate(87.60,1503.90) scale(1.0610,1.0000)" font-family="Liberation Serif, serif" font-size="12.6" fill="#262626">Physical Interactions</text>
<rect x="66.40" y="1524.92" width="9.30" height="9.60" fill="#c3aad0" stroke="none" stroke-width="1"/>
<text transform="translate(87.60,1532.62)" font-family="Liberation Serif, serif" font-size="12.6" fill="#262626">Co-expression</text>
<rect x="66.40" y="1553.64" width="9.30" height="9.60" fill="#e6b474" stroke="none" stroke-width="1"/>
<text transform="translate(87.60,1561.34) scale(1.0520,1.0000)" font-family="Liberation Serif, serif" font-size="12.6" fill="#262626">Predicted</text>
<rect x="66.40" y="1582.36" width="9.30" height="9.60" fill="#95a4d6" stroke="none" stroke-width="1"/>
<text transform="translate(87.60,1590.06) scale(1.0090,1.0000)" font-family="Liberation Serif, serif" font-size="12.6" fill="#262626">Co-localization</text>
<rect x="66.40" y="1611.08" width="9.30" height="9.60" fill="#93c47d" stroke="none" stroke-width="1"/>
<text transform="translate(87.60,1618.78) scale(1.0565,1.0000)" font-family="Liberation Serif, serif" font-size="12.6" fill="#262626">Genetic Interactions</text>
<rect x="66.40" y="1639.80" width="9.30" height="9.60" fill="#9fcdd6" stroke="none" stroke-width="1"/>
<text transform="translate(87.60,1647.50) scale(1.0790,1.0000)" font-family="Liberation Serif, serif" font-size="12.6" fill="#262626">Pathway</text>
<rect x="66.40" y="1668.52" width="9.30" height="9.60" fill="#d3cd8f" stroke="none" stroke-width="1"/>
<text transform="translate(87.60,1676.22) scale(1.0515,1.0000)" font-family="Liberation Serif, serif" font-size="12.6" fill="#262626">Shared protein domains</text>
<rect x="455.00" y="1496.20" width="9.30" height="9.60" fill="#a34a4a" stroke="none" stroke-width="1"/>
<text transform="translate(475.40,1503.90) scale(1.0600,1.0000)" font-family="Liberation Serif, serif" font-size="12.6" fill="#262626">signal transduction in response to DNA damage</text>
<rect x="455.00" y="1524.92" width="9.30" height="9.60" fill="#5b81b8" stroke="none" stroke-width="1"/>
<text transform="translate(475.40,1532.62) scale(1.0425,1.0000)" font-family="Liberation Serif, serif" font-size="12.6" fill="#262626">peptidyl-threonine modification</text>
<rect x="455.00" y="1553.64" width="9.30" height="9.60" fill="#d7a034" stroke="none" stroke-width="1"/>
<text transform="translate(475.40,1561.34) scale(1.0280,1.0000)" font-family="Liberation Serif, serif" font-size="12.6" fill="#262626">mitotic cell cycle checkpoint</text>
<rect x="455.00" y="1582.36" width="9.30" height="9.60" fill="#6a5aa8" stroke="none" stroke-width="1"/>
<text transform="translate(475.40,1590.06) scale(1.0720,1.0000)" font-family="Liberation Serif, serif" font-size="12.6" fill="#262626">activating transcription factor binding</text>
<rect x="455.00" y="1611.08" width="9.30" height="9.60" fill="#6aa860" stroke="none" stroke-width="1"/>
<text transform="translate(475.40,1618.78) scale(1.0520,1.0000)" font-family="Liberation Serif, serif" font-size="12.6" fill="#262626">signal transduction involved in DNA integrity checkpoint</text>
<rect x="455.00" y="1639.80" width="9.30" height="9.60" fill="#a96bb0" stroke="none" stroke-width="1"/>
<text transform="translate(475.40,1647.50) scale(1.0350,1.0000)" font-family="Liberation Serif, serif" font-size="12.6" fill="#262626">signal transduction involved in cell cycle checkpoint</text>
<rect x="455.00" y="1668.52" width="9.30" height="9.60" fill="#86b5ae" stroke="none" stroke-width="1"/>
<text transform="translate(475.40,1676.22) scale(1.0470,1.0000)" font-family="Liberation Serif, serif" font-size="12.6" fill="#262626">negative regulation of mitotic cell cycle phase transition</text>
</g>
</svg>
</body></html>
